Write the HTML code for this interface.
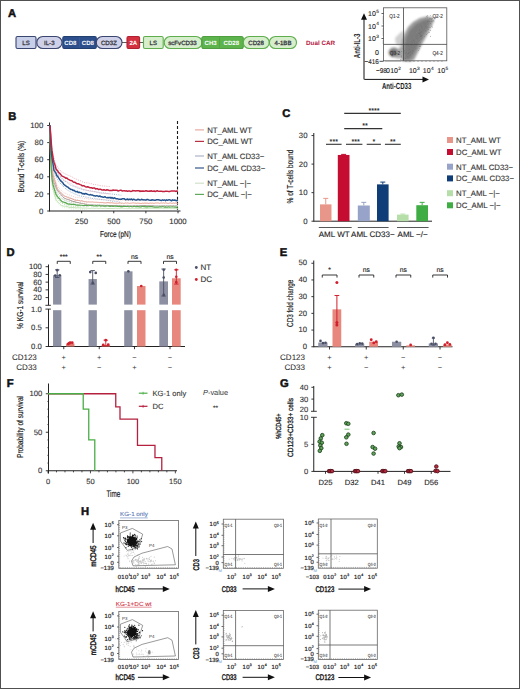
<!DOCTYPE html>
<html><head><meta charset="utf-8"><style>
html,body{margin:0;padding:0;background:#fff;}
body{width:520px;height:689px;overflow:hidden;position:relative;}
svg{position:absolute;left:0;top:0;display:block;}
svg text{font-family:"Liberation Sans", sans-serif;text-rendering:geometricPrecision;}
</style></head><body>
<svg width="520" height="689" viewBox="0 0 520 689">
<rect x="0" y="0" width="520" height="689" fill="#fff"/>
<text x="8.1" y="16.7" font-size="11.2" text-anchor="start" fill="#111" font-weight="bold"  stroke="#111" stroke-width="0.5">A</text>
<rect x="16" y="36.5" width="20" height="12.0" fill="#c8cfe9" stroke="#3a4670" stroke-width="1.1" rx="1.5" />
<rect x="36.8" y="36.5" width="25.200000000000003" height="12.0" fill="#cfd1e8" stroke="#3a4670" stroke-width="1.1" rx="6" />
<rect x="62.8" y="36.5" width="33.5" height="12.0" fill="#2d508d" stroke="#22406f" stroke-width="1.1" rx="1.5" />
<line x1="79.5" y1="37.5" x2="79.5" y2="47.5" stroke="#3d5f98" stroke-width="0.6" />
<rect x="96.3" y="36.5" width="25.700000000000003" height="12.0" fill="#cfd1e8" stroke="#3a4670" stroke-width="1.1" rx="6" />
<line x1="122" y1="42.5" x2="127" y2="42.5" stroke="#333" stroke-width="0.8" />
<rect x="127" y="36.5" width="12.599999999999994" height="12.0" fill="#d3313f" stroke="#b02030" stroke-width="1.1" rx="1.5" />
<line x1="139.6" y1="42.5" x2="143.5" y2="42.5" stroke="#333" stroke-width="0.8" />
<rect x="143.5" y="36.5" width="19.69999999999999" height="12.0" fill="#d7eecd" stroke="#5fae4e" stroke-width="1.1" rx="1.5" />
<rect x="164.2" y="36.5" width="37.80000000000001" height="12.0" fill="#d7eecd" stroke="#5fae4e" stroke-width="1.1" rx="6" />
<rect x="201.8" y="36.5" width="41.5" height="12.0" fill="#5db34c" stroke="#4f9e40" stroke-width="1.1" rx="2" />
<line x1="219.5" y1="37.5" x2="219.5" y2="47.5" stroke="#4a9a3c" stroke-width="0.6" />
<rect x="243.3" y="36.5" width="25.899999999999977" height="12.0" fill="#d7eecd" stroke="#5fae4e" stroke-width="1.1" rx="6" />
<rect x="269.4" y="36.5" width="27.100000000000023" height="12.0" fill="#d7eecd" stroke="#5fae4e" stroke-width="1.1" rx="6" />
<text x="26" y="44.5" font-size="6.1" text-anchor="middle" fill="#3a3a44" font-weight="normal"  stroke="#3a3a44" stroke-width="0.3">LS</text>
<text x="49.3" y="44.5" font-size="6.1" text-anchor="middle" fill="#3a3a44" font-weight="normal"  stroke="#3a3a44" stroke-width="0.3">IL-3</text>
<text x="70.4" y="44.5" font-size="6.1" text-anchor="middle" fill="#fff" font-weight="bold" >CD8</text>
<text x="87.9" y="44.5" font-size="6.1" text-anchor="middle" fill="#fff" font-weight="bold" >CD8</text>
<text x="108.9" y="44.5" font-size="6.1" text-anchor="middle" fill="#3a3a44" font-weight="normal"  stroke="#3a3a44" stroke-width="0.3">CD3Z</text>
<text x="133.3" y="44.5" font-size="6.1" text-anchor="middle" fill="#fff" font-weight="bold" >2A</text>
<text x="153.3" y="44.5" font-size="6.1" text-anchor="middle" fill="#3a3a44" font-weight="normal"  stroke="#3a3a44" stroke-width="0.3">LS</text>
<text x="182.5" y="44.5" font-size="6.1" text-anchor="middle" fill="#3a3a44" font-weight="normal"  stroke="#3a3a44" stroke-width="0.3">scFvCD33</text>
<text x="210.6" y="44.5" font-size="6.1" text-anchor="middle" fill="#fff" font-weight="bold" >CH3</text>
<text x="231.3" y="44.5" font-size="6.1" text-anchor="middle" fill="#fff" font-weight="bold" >CD28</text>
<text x="256.1" y="44.5" font-size="6.1" text-anchor="middle" fill="#3a3a44" font-weight="normal"  stroke="#3a3a44" stroke-width="0.3">CD28</text>
<text x="283" y="44.5" font-size="6.1" text-anchor="middle" fill="#3a3a44" font-weight="normal"  stroke="#3a3a44" stroke-width="0.3">4-1BB</text>
<text x="306" y="44.6" font-size="6.3" text-anchor="start" fill="#b8163c" font-weight="bold" >Dual CAR</text>
<defs><filter id="bl" x="-20%" y="-20%" width="140%" height="140%"><feGaussianBlur stdDeviation="1.0"/></filter><filter id="bl2" x="-20%" y="-20%" width="140%" height="140%"><feGaussianBlur stdDeviation="0.6"/></filter><filter id="bl3" x="-20%" y="-20%" width="140%" height="140%"><feGaussianBlur stdDeviation="0.35"/></filter></defs>
<g filter="url(#bl)">
<path d="M395,38 L400,33 L404,30 L404,44 L400,46 L396,44 Z" fill="#cfcfcf"/>
<path d="M402,61 L401,50 L402,40 L404,35 L408,27 L413,22 L420,18 L427,16.5 L433,17.5 L434,21 L431,27 L427,35 L421,46 L417,54 L414,60 L410,61.5 Z" fill="#9a9a9a"/>
<path d="M404,60 L404,48 L406,38 L410,30 L416,24 L424,20 L430,19.5 L429,25 L424,34 L418,45 L414,53 L410,59 Z" fill="#7c7c7c"/>
<ellipse cx="394" cy="52.5" rx="5.5" ry="5" fill="#8a8a8a"/>
<ellipse cx="393" cy="52.5" rx="3" ry="2.5" fill="#6a6a6a"/>
<path d="M396,58.5 L404,58 L404,46 L399,47.5 Z" fill="#a8a8a8"/>
</g>
<circle cx="415.78" cy="48.82" r="0.45" fill="#6a6a6a" stroke="none" stroke-width="0"/>
<circle cx="430.51" cy="27.51" r="0.45" fill="#888" stroke="none" stroke-width="0"/>
<circle cx="412.87" cy="51.12" r="0.45" fill="#6a6a6a" stroke="none" stroke-width="0"/>
<circle cx="401.21" cy="57.11" r="0.45" fill="#6a6a6a" stroke="none" stroke-width="0"/>
<circle cx="427.64" cy="17.01" r="0.45" fill="#6a6a6a" stroke="none" stroke-width="0"/>
<circle cx="413.19" cy="40.21" r="0.45" fill="#6a6a6a" stroke="none" stroke-width="0"/>
<circle cx="421.82" cy="38.21" r="0.45" fill="#888" stroke="none" stroke-width="0"/>
<circle cx="405.18" cy="58.78" r="0.45" fill="#6a6a6a" stroke="none" stroke-width="0"/>
<circle cx="405.02" cy="52.98" r="0.45" fill="#6a6a6a" stroke="none" stroke-width="0"/>
<circle cx="420.37" cy="36.52" r="0.45" fill="#6a6a6a" stroke="none" stroke-width="0"/>
<circle cx="412.46" cy="37.05" r="0.45" fill="#777" stroke="none" stroke-width="0"/>
<circle cx="417.81" cy="35.36" r="0.45" fill="#6a6a6a" stroke="none" stroke-width="0"/>
<circle cx="423.73" cy="34.22" r="0.45" fill="#888" stroke="none" stroke-width="0"/>
<circle cx="415.93" cy="41.10" r="0.45" fill="#888" stroke="none" stroke-width="0"/>
<circle cx="433.90" cy="21.04" r="0.45" fill="#777" stroke="none" stroke-width="0"/>
<circle cx="407.35" cy="51.98" r="0.45" fill="#888" stroke="none" stroke-width="0"/>
<circle cx="400.90" cy="52.88" r="0.45" fill="#777" stroke="none" stroke-width="0"/>
<circle cx="411.32" cy="47.43" r="0.45" fill="#777" stroke="none" stroke-width="0"/>
<circle cx="408.04" cy="56.66" r="0.45" fill="#888" stroke="none" stroke-width="0"/>
<circle cx="427.21" cy="33.29" r="0.45" fill="#888" stroke="none" stroke-width="0"/>
<circle cx="418.73" cy="31.73" r="0.45" fill="#888" stroke="none" stroke-width="0"/>
<circle cx="414.47" cy="41.97" r="0.45" fill="#777" stroke="none" stroke-width="0"/>
<circle cx="411.09" cy="41.39" r="0.45" fill="#6a6a6a" stroke="none" stroke-width="0"/>
<circle cx="427.17" cy="29.02" r="0.45" fill="#777" stroke="none" stroke-width="0"/>
<circle cx="427.74" cy="21.37" r="0.45" fill="#777" stroke="none" stroke-width="0"/>
<circle cx="423.78" cy="32.06" r="0.45" fill="#888" stroke="none" stroke-width="0"/>
<circle cx="409.20" cy="48.39" r="0.45" fill="#777" stroke="none" stroke-width="0"/>
<circle cx="431.98" cy="21.31" r="0.45" fill="#6a6a6a" stroke="none" stroke-width="0"/>
<circle cx="428.46" cy="32.12" r="0.45" fill="#6a6a6a" stroke="none" stroke-width="0"/>
<circle cx="414.69" cy="47.58" r="0.45" fill="#777" stroke="none" stroke-width="0"/>
<circle cx="420.38" cy="35.11" r="0.45" fill="#888" stroke="none" stroke-width="0"/>
<circle cx="427.65" cy="15.65" r="0.45" fill="#777" stroke="none" stroke-width="0"/>
<circle cx="430.41" cy="15.61" r="0.45" fill="#888" stroke="none" stroke-width="0"/>
<circle cx="413.78" cy="43.19" r="0.45" fill="#888" stroke="none" stroke-width="0"/>
<circle cx="418.58" cy="50.60" r="0.45" fill="#777" stroke="none" stroke-width="0"/>
<circle cx="407.98" cy="52.40" r="0.45" fill="#6a6a6a" stroke="none" stroke-width="0"/>
<circle cx="412.27" cy="33.55" r="0.45" fill="#888" stroke="none" stroke-width="0"/>
<circle cx="407.82" cy="53.84" r="0.45" fill="#6a6a6a" stroke="none" stroke-width="0"/>
<circle cx="425.94" cy="31.42" r="0.45" fill="#777" stroke="none" stroke-width="0"/>
<circle cx="413.32" cy="44.88" r="0.45" fill="#777" stroke="none" stroke-width="0"/>
<circle cx="416.77" cy="40.44" r="0.45" fill="#888" stroke="none" stroke-width="0"/>
<circle cx="413.04" cy="50.28" r="0.45" fill="#6a6a6a" stroke="none" stroke-width="0"/>
<circle cx="420.65" cy="44.92" r="0.45" fill="#777" stroke="none" stroke-width="0"/>
<circle cx="407.38" cy="51.94" r="0.45" fill="#888" stroke="none" stroke-width="0"/>
<circle cx="411.48" cy="44.98" r="0.45" fill="#777" stroke="none" stroke-width="0"/>
<circle cx="421.03" cy="35.63" r="0.45" fill="#6a6a6a" stroke="none" stroke-width="0"/>
<circle cx="419.43" cy="33.88" r="0.45" fill="#6a6a6a" stroke="none" stroke-width="0"/>
<circle cx="422.46" cy="28.23" r="0.45" fill="#6a6a6a" stroke="none" stroke-width="0"/>
<circle cx="428.76" cy="20.98" r="0.45" fill="#6a6a6a" stroke="none" stroke-width="0"/>
<circle cx="404.42" cy="50.24" r="0.45" fill="#6a6a6a" stroke="none" stroke-width="0"/>
<circle cx="424.06" cy="26.76" r="0.45" fill="#888" stroke="none" stroke-width="0"/>
<circle cx="423.67" cy="22.19" r="0.45" fill="#777" stroke="none" stroke-width="0"/>
<circle cx="429.25" cy="21.50" r="0.45" fill="#6a6a6a" stroke="none" stroke-width="0"/>
<circle cx="415.24" cy="42.33" r="0.45" fill="#888" stroke="none" stroke-width="0"/>
<circle cx="422.92" cy="24.98" r="0.45" fill="#888" stroke="none" stroke-width="0"/>
<circle cx="402.63" cy="48.67" r="0.45" fill="#888" stroke="none" stroke-width="0"/>
<circle cx="423.02" cy="28.27" r="0.45" fill="#888" stroke="none" stroke-width="0"/>
<circle cx="415.99" cy="36.59" r="0.45" fill="#777" stroke="none" stroke-width="0"/>
<circle cx="416.91" cy="38.13" r="0.45" fill="#6a6a6a" stroke="none" stroke-width="0"/>
<circle cx="410.04" cy="52.51" r="0.45" fill="#777" stroke="none" stroke-width="0"/>
<circle cx="430.22" cy="30.50" r="0.45" fill="#777" stroke="none" stroke-width="0"/>
<circle cx="420.02" cy="34.97" r="0.45" fill="#6a6a6a" stroke="none" stroke-width="0"/>
<circle cx="406.17" cy="52.24" r="0.45" fill="#6a6a6a" stroke="none" stroke-width="0"/>
<circle cx="421.86" cy="35.55" r="0.45" fill="#6a6a6a" stroke="none" stroke-width="0"/>
<circle cx="427.72" cy="27.32" r="0.45" fill="#777" stroke="none" stroke-width="0"/>
<circle cx="418.28" cy="35.12" r="0.45" fill="#888" stroke="none" stroke-width="0"/>
<circle cx="420.51" cy="46.39" r="0.45" fill="#777" stroke="none" stroke-width="0"/>
<circle cx="426.06" cy="17.08" r="0.45" fill="#888" stroke="none" stroke-width="0"/>
<circle cx="419.06" cy="39.31" r="0.45" fill="#888" stroke="none" stroke-width="0"/>
<circle cx="401.77" cy="51.50" r="0.45" fill="#6a6a6a" stroke="none" stroke-width="0"/>
<circle cx="421.34" cy="31.86" r="0.45" fill="#6a6a6a" stroke="none" stroke-width="0"/>
<circle cx="416.62" cy="35.03" r="0.45" fill="#777" stroke="none" stroke-width="0"/>
<circle cx="419.50" cy="30.00" r="0.45" fill="#6a6a6a" stroke="none" stroke-width="0"/>
<circle cx="430.68" cy="23.40" r="0.45" fill="#6a6a6a" stroke="none" stroke-width="0"/>
<circle cx="421.52" cy="26.91" r="0.45" fill="#6a6a6a" stroke="none" stroke-width="0"/>
<circle cx="413.52" cy="37.80" r="0.45" fill="#888" stroke="none" stroke-width="0"/>
<circle cx="408.94" cy="53.78" r="0.45" fill="#777" stroke="none" stroke-width="0"/>
<circle cx="418.27" cy="41.58" r="0.45" fill="#777" stroke="none" stroke-width="0"/>
<circle cx="431.52" cy="19.75" r="0.45" fill="#777" stroke="none" stroke-width="0"/>
<circle cx="410.34" cy="54.91" r="0.45" fill="#6a6a6a" stroke="none" stroke-width="0"/>
<circle cx="420.80" cy="32.12" r="0.45" fill="#777" stroke="none" stroke-width="0"/>
<circle cx="427.43" cy="25.53" r="0.45" fill="#888" stroke="none" stroke-width="0"/>
<circle cx="420.39" cy="34.08" r="0.45" fill="#6a6a6a" stroke="none" stroke-width="0"/>
<circle cx="432.59" cy="27.05" r="0.45" fill="#777" stroke="none" stroke-width="0"/>
<circle cx="431.25" cy="26.66" r="0.45" fill="#6a6a6a" stroke="none" stroke-width="0"/>
<circle cx="405.02" cy="53.15" r="0.45" fill="#777" stroke="none" stroke-width="0"/>
<circle cx="414.92" cy="42.25" r="0.45" fill="#777" stroke="none" stroke-width="0"/>
<circle cx="401.29" cy="56.07" r="0.45" fill="#6a6a6a" stroke="none" stroke-width="0"/>
<circle cx="412.10" cy="42.33" r="0.45" fill="#6a6a6a" stroke="none" stroke-width="0"/>
<circle cx="409.17" cy="52.36" r="0.45" fill="#6a6a6a" stroke="none" stroke-width="0"/>
<circle cx="409.30" cy="44.82" r="0.45" fill="#888" stroke="none" stroke-width="0"/>
<circle cx="426.83" cy="27.06" r="0.45" fill="#888" stroke="none" stroke-width="0"/>
<circle cx="419.55" cy="33.86" r="0.45" fill="#6a6a6a" stroke="none" stroke-width="0"/>
<circle cx="429.15" cy="32.23" r="0.45" fill="#777" stroke="none" stroke-width="0"/>
<circle cx="426.45" cy="16.16" r="0.45" fill="#6a6a6a" stroke="none" stroke-width="0"/>
<circle cx="421.46" cy="36.14" r="0.45" fill="#6a6a6a" stroke="none" stroke-width="0"/>
<circle cx="414.55" cy="43.29" r="0.45" fill="#777" stroke="none" stroke-width="0"/>
<circle cx="426.26" cy="34.48" r="0.45" fill="#6a6a6a" stroke="none" stroke-width="0"/>
<circle cx="430.99" cy="21.25" r="0.45" fill="#777" stroke="none" stroke-width="0"/>
<circle cx="419.47" cy="32.43" r="0.45" fill="#777" stroke="none" stroke-width="0"/>
<circle cx="419.30" cy="40.65" r="0.45" fill="#6a6a6a" stroke="none" stroke-width="0"/>
<circle cx="432.45" cy="18.36" r="0.45" fill="#888" stroke="none" stroke-width="0"/>
<circle cx="420.78" cy="39.33" r="0.45" fill="#777" stroke="none" stroke-width="0"/>
<circle cx="408.40" cy="50.66" r="0.45" fill="#777" stroke="none" stroke-width="0"/>
<circle cx="425.78" cy="30.70" r="0.45" fill="#777" stroke="none" stroke-width="0"/>
<circle cx="426.17" cy="30.17" r="0.45" fill="#888" stroke="none" stroke-width="0"/>
<circle cx="430.57" cy="36.27" r="0.45" fill="#6a6a6a" stroke="none" stroke-width="0"/>
<circle cx="431.90" cy="24.92" r="0.45" fill="#777" stroke="none" stroke-width="0"/>
<circle cx="420.51" cy="42.39" r="0.45" fill="#777" stroke="none" stroke-width="0"/>
<circle cx="427.13" cy="20.89" r="0.45" fill="#6a6a6a" stroke="none" stroke-width="0"/>
<circle cx="425.36" cy="30.87" r="0.45" fill="#777" stroke="none" stroke-width="0"/>
<circle cx="415.80" cy="48.32" r="0.45" fill="#888" stroke="none" stroke-width="0"/>
<circle cx="419.53" cy="46.48" r="0.45" fill="#6a6a6a" stroke="none" stroke-width="0"/>
<circle cx="417.12" cy="43.76" r="0.45" fill="#777" stroke="none" stroke-width="0"/>
<circle cx="410.46" cy="44.84" r="0.45" fill="#6a6a6a" stroke="none" stroke-width="0"/>
<circle cx="407.27" cy="52.74" r="0.45" fill="#888" stroke="none" stroke-width="0"/>
<circle cx="407.87" cy="56.72" r="0.45" fill="#6a6a6a" stroke="none" stroke-width="0"/>
<circle cx="412.41" cy="52.97" r="0.45" fill="#6a6a6a" stroke="none" stroke-width="0"/>
<circle cx="421.02" cy="25.27" r="0.45" fill="#777" stroke="none" stroke-width="0"/>
<circle cx="424.72" cy="23.75" r="0.45" fill="#777" stroke="none" stroke-width="0"/>
<circle cx="423.68" cy="28.28" r="0.45" fill="#888" stroke="none" stroke-width="0"/>
<circle cx="425.35" cy="18.59" r="0.45" fill="#888" stroke="none" stroke-width="0"/>
<circle cx="404.15" cy="51.86" r="0.45" fill="#6a6a6a" stroke="none" stroke-width="0"/>
<circle cx="421.30" cy="21.54" r="0.45" fill="#888" stroke="none" stroke-width="0"/>
<circle cx="429.93" cy="18.70" r="0.45" fill="#6a6a6a" stroke="none" stroke-width="0"/>
<circle cx="406.76" cy="53.83" r="0.45" fill="#777" stroke="none" stroke-width="0"/>
<circle cx="416.52" cy="32.43" r="0.45" fill="#888" stroke="none" stroke-width="0"/>
<circle cx="410.54" cy="51.74" r="0.45" fill="#6a6a6a" stroke="none" stroke-width="0"/>
<circle cx="420.99" cy="28.00" r="0.45" fill="#888" stroke="none" stroke-width="0"/>
<circle cx="418.63" cy="33.34" r="0.45" fill="#6a6a6a" stroke="none" stroke-width="0"/>
<circle cx="428.21" cy="29.51" r="0.45" fill="#6a6a6a" stroke="none" stroke-width="0"/>
<circle cx="428.41" cy="27.84" r="0.45" fill="#777" stroke="none" stroke-width="0"/>
<circle cx="408.38" cy="53.53" r="0.45" fill="#6a6a6a" stroke="none" stroke-width="0"/>
<circle cx="420.47" cy="32.32" r="0.45" fill="#6a6a6a" stroke="none" stroke-width="0"/>
<circle cx="410.44" cy="40.72" r="0.45" fill="#888" stroke="none" stroke-width="0"/>
<circle cx="421.03" cy="35.38" r="0.45" fill="#777" stroke="none" stroke-width="0"/>
<circle cx="433.05" cy="20.41" r="0.45" fill="#777" stroke="none" stroke-width="0"/>
<circle cx="408.59" cy="45.99" r="0.45" fill="#777" stroke="none" stroke-width="0"/>
<circle cx="429.52" cy="27.14" r="0.45" fill="#777" stroke="none" stroke-width="0"/>
<circle cx="431.94" cy="18.64" r="0.45" fill="#777" stroke="none" stroke-width="0"/>
<circle cx="395.81" cy="54.51" r="0.45" fill="#777" stroke="none" stroke-width="0"/>
<circle cx="421.23" cy="38.83" r="0.45" fill="#6a6a6a" stroke="none" stroke-width="0"/>
<circle cx="422.73" cy="37.77" r="0.45" fill="#777" stroke="none" stroke-width="0"/>
<circle cx="409.34" cy="49.25" r="0.45" fill="#6a6a6a" stroke="none" stroke-width="0"/>
<circle cx="424.49" cy="36.65" r="0.45" fill="#777" stroke="none" stroke-width="0"/>
<circle cx="419.27" cy="48.82" r="0.45" fill="#888" stroke="none" stroke-width="0"/>
<circle cx="416.06" cy="41.64" r="0.45" fill="#777" stroke="none" stroke-width="0"/>
<circle cx="416.61" cy="44.93" r="0.45" fill="#777" stroke="none" stroke-width="0"/>
<circle cx="425.88" cy="26.60" r="0.45" fill="#6a6a6a" stroke="none" stroke-width="0"/>
<circle cx="426.12" cy="27.94" r="0.45" fill="#777" stroke="none" stroke-width="0"/>
<circle cx="400.83" cy="59.52" r="0.45" fill="#6a6a6a" stroke="none" stroke-width="0"/>
<circle cx="411.79" cy="44.69" r="0.45" fill="#6a6a6a" stroke="none" stroke-width="0"/>
<circle cx="416.33" cy="48.28" r="0.45" fill="#888" stroke="none" stroke-width="0"/>
<circle cx="430.21" cy="23.09" r="0.45" fill="#888" stroke="none" stroke-width="0"/>
<circle cx="413.65" cy="39.82" r="0.45" fill="#777" stroke="none" stroke-width="0"/>
<circle cx="430.47" cy="18.45" r="0.45" fill="#888" stroke="none" stroke-width="0"/>
<circle cx="419.18" cy="35.03" r="0.45" fill="#888" stroke="none" stroke-width="0"/>
<circle cx="414.19" cy="40.41" r="0.45" fill="#777" stroke="none" stroke-width="0"/>
<circle cx="421.04" cy="36.45" r="0.45" fill="#6a6a6a" stroke="none" stroke-width="0"/>
<rect x="383.5" y="7.8" width="63.30000000000001" height="53.0" fill="none" stroke="#555" stroke-width="0.8" rx="0" />
<line x1="403.5" y1="7.8" x2="403.5" y2="60.8" stroke="#444" stroke-width="0.8" />
<line x1="383.5" y1="44.4" x2="446.8" y2="44.4" stroke="#444" stroke-width="0.8" />
<line x1="381.5" y1="13.5" x2="383.5" y2="13.5" stroke="#333" stroke-width="0.8" />
<line x1="381.5" y1="26" x2="383.5" y2="26" stroke="#333" stroke-width="0.8" />
<line x1="381.5" y1="38.5" x2="383.5" y2="38.5" stroke="#333" stroke-width="0.8" />
<line x1="382.5" y1="17" x2="383.5" y2="17" stroke="#555" stroke-width="0.5" />
<line x1="382.5" y1="19" x2="383.5" y2="19" stroke="#555" stroke-width="0.5" />
<line x1="382.5" y1="21" x2="383.5" y2="21" stroke="#555" stroke-width="0.5" />
<line x1="382.5" y1="23" x2="383.5" y2="23" stroke="#555" stroke-width="0.5" />
<line x1="382.5" y1="29" x2="383.5" y2="29" stroke="#555" stroke-width="0.5" />
<line x1="382.5" y1="31" x2="383.5" y2="31" stroke="#555" stroke-width="0.5" />
<line x1="382.5" y1="33" x2="383.5" y2="33" stroke="#555" stroke-width="0.5" />
<line x1="382.5" y1="35" x2="383.5" y2="35" stroke="#555" stroke-width="0.5" />
<line x1="382.5" y1="41" x2="383.5" y2="41" stroke="#555" stroke-width="0.5" />
<line x1="382.5" y1="43" x2="383.5" y2="43" stroke="#555" stroke-width="0.5" />
<line x1="386" y1="60.8" x2="386" y2="62" stroke="#555" stroke-width="0.5" />
<line x1="388" y1="60.8" x2="388" y2="62" stroke="#555" stroke-width="0.5" />
<line x1="390" y1="60.8" x2="390" y2="62" stroke="#555" stroke-width="0.5" />
<line x1="392" y1="60.8" x2="392" y2="62" stroke="#555" stroke-width="0.5" />
<line x1="394" y1="60.8" x2="394" y2="62" stroke="#555" stroke-width="0.5" />
<line x1="396" y1="60.8" x2="396" y2="62" stroke="#555" stroke-width="0.5" />
<line x1="398" y1="60.8" x2="398" y2="62" stroke="#555" stroke-width="0.5" />
<line x1="400" y1="60.8" x2="400" y2="62" stroke="#555" stroke-width="0.5" />
<line x1="406" y1="60.8" x2="406" y2="62" stroke="#555" stroke-width="0.5" />
<line x1="410" y1="60.8" x2="410" y2="62" stroke="#555" stroke-width="0.5" />
<line x1="414" y1="60.8" x2="414" y2="62" stroke="#555" stroke-width="0.5" />
<line x1="418" y1="60.8" x2="418" y2="62" stroke="#555" stroke-width="0.5" />
<line x1="422" y1="60.8" x2="422" y2="62" stroke="#555" stroke-width="0.5" />
<line x1="426" y1="60.8" x2="426" y2="62" stroke="#555" stroke-width="0.5" />
<line x1="430" y1="60.8" x2="430" y2="62" stroke="#555" stroke-width="0.5" />
<line x1="434" y1="60.8" x2="434" y2="62" stroke="#555" stroke-width="0.5" />
<line x1="438" y1="60.8" x2="438" y2="62" stroke="#555" stroke-width="0.5" />
<line x1="442" y1="60.8" x2="442" y2="62" stroke="#555" stroke-width="0.5" />
<text x="0" y="0" font-size="5.8" text-anchor="start" fill="#333" font-weight="normal" transform="translate(389.3,18.1) scale(0.8,1)"  stroke="#333" stroke-width="0.12">Q1-2</text>
<text x="0" y="0" font-size="5.8" text-anchor="start" fill="#333" font-weight="normal" transform="translate(432.5,18.1) scale(0.8,1)"  stroke="#333" stroke-width="0.12">Q2-2</text>
<text x="0" y="0" font-size="5.8" text-anchor="start" fill="#333" font-weight="normal" transform="translate(389.8,54.6) scale(0.8,1)"  stroke="#333" stroke-width="0.12">Q3-2</text>
<text x="0" y="0" font-size="5.8" text-anchor="start" fill="#333" font-weight="normal" transform="translate(432.5,54.6) scale(0.8,1)"  stroke="#333" stroke-width="0.12">Q4-2</text>
<text x="378.8" y="16.2" font-size="7.0" text-anchor="end" fill="#222" stroke="#222" stroke-width="0.12">10<tspan font-size="4.76" dx="0.3" dy="-3.29">5</tspan></text>
<text x="378.8" y="28.6" font-size="7.0" text-anchor="end" fill="#222" stroke="#222" stroke-width="0.12">10<tspan font-size="4.76" dx="0.3" dy="-3.29">4</tspan></text>
<text x="378.8" y="40.8" font-size="7.0" text-anchor="end" fill="#222" stroke="#222" stroke-width="0.12">10<tspan font-size="4.76" dx="0.3" dy="-3.29">3</tspan></text>
<text x="378.8" y="54.5" font-size="7.0" text-anchor="end" fill="#222" font-weight="normal"  stroke="#222" stroke-width="0.12">0</text>
<text x="0" y="0" font-size="7.0" text-anchor="end" fill="#222" font-weight="normal" transform="translate(378.8,63.6) scale(0.9,1)"  stroke="#222" stroke-width="0.12">−416</text>
<line x1="379.5" y1="61.3" x2="383.5" y2="61.3" stroke="#222" stroke-width="0.8" />
<text x="0" y="0" font-size="7.0" text-anchor="start" fill="#222" font-weight="normal" transform="translate(376,73.2) scale(0.9,1)"  stroke="#222" stroke-width="0.12">−98</text>
<text x="386" y="73.2" font-size="7.0" text-anchor="start" fill="#222" font-weight="normal"  stroke="#222" stroke-width="0.12">0</text>
<text x="390.2" y="73.2" font-size="7.0" text-anchor="start" fill="#222" stroke="#222" stroke-width="0.12">10<tspan font-size="4.76" dx="0.3" dy="-3.29">2</tspan></text>
<text x="408.9" y="73.2" font-size="7.0" text-anchor="start" fill="#222" stroke="#222" stroke-width="0.12">10<tspan font-size="4.76" dx="0.3" dy="-3.29">3</tspan></text>
<text x="422.8" y="73.2" font-size="7.0" text-anchor="start" fill="#222" stroke="#222" stroke-width="0.12">10<tspan font-size="4.76" dx="0.3" dy="-3.29">4</tspan></text>
<text x="437.3" y="73.2" font-size="7.0" text-anchor="start" fill="#222" stroke="#222" stroke-width="0.12">10<tspan font-size="4.76" dx="0.3" dy="-3.29">5</tspan></text>
<line x1="364" y1="79.4" x2="364" y2="18.3" stroke="#111" stroke-width="1.0" />
<path d="M361,19.8 L364,13.3 L367,19.8 Z" fill="#111"/>
<line x1="364.3" y1="79.4" x2="424" y2="79.4" stroke="#111" stroke-width="1.0" />
<path d="M422.5,76.4 L429,79.4 L422.5,82.4 Z" fill="#111"/>
<text font-size="8.8" fill="#1a1a1a" font-weight="bold" text-anchor="middle" textLength="24.6" lengthAdjust="spacingAndGlyphs" transform="translate(359.5,45.9) rotate(-90)" x="0" y="0">Anti-IL-3</text>
<text font-size="8.8" fill="#1a1a1a" font-weight="bold" text-anchor="middle" textLength="29.3" lengthAdjust="spacingAndGlyphs" transform="translate(396.6,89.1)" x="0" y="0">Anti-CD33</text>
<text x="8.3" y="119.5" font-size="11.2" text-anchor="start" fill="#111" font-weight="bold"  stroke="#111" stroke-width="0.5">B</text>
<line x1="49.5" y1="122.5" x2="49.5" y2="211.5" stroke="#222" stroke-width="1" />
<line x1="49.5" y1="211" x2="180.5" y2="211" stroke="#222" stroke-width="1" />
<line x1="47.2" y1="211.0" x2="49.5" y2="211.0" stroke="#222" stroke-width="0.9" />
<text x="43.3" y="213.6" font-size="7.8" text-anchor="end" fill="#333" font-weight="normal"  stroke="#333" stroke-width="0.12">0</text>
<line x1="47.2" y1="193.9" x2="49.5" y2="193.9" stroke="#222" stroke-width="0.9" />
<text x="43.3" y="196.5" font-size="7.8" text-anchor="end" fill="#333" font-weight="normal"  stroke="#333" stroke-width="0.12">20</text>
<line x1="47.2" y1="176.8" x2="49.5" y2="176.8" stroke="#222" stroke-width="0.9" />
<text x="43.3" y="179.4" font-size="7.8" text-anchor="end" fill="#333" font-weight="normal"  stroke="#333" stroke-width="0.12">40</text>
<line x1="47.2" y1="159.7" x2="49.5" y2="159.7" stroke="#222" stroke-width="0.9" />
<text x="43.3" y="162.29999999999998" font-size="7.8" text-anchor="end" fill="#333" font-weight="normal"  stroke="#333" stroke-width="0.12">60</text>
<line x1="47.2" y1="142.6" x2="49.5" y2="142.6" stroke="#222" stroke-width="0.9" />
<text x="43.3" y="145.2" font-size="7.8" text-anchor="end" fill="#333" font-weight="normal"  stroke="#333" stroke-width="0.12">80</text>
<line x1="47.2" y1="125.5" x2="49.5" y2="125.5" stroke="#222" stroke-width="0.9" />
<text x="43.3" y="128.1" font-size="7.8" text-anchor="end" fill="#333" font-weight="normal"  stroke="#333" stroke-width="0.12">100</text>
<line x1="81.625" y1="211" x2="81.625" y2="213.3" stroke="#222" stroke-width="0.9" />
<text x="81.625" y="223.7" font-size="7.8" text-anchor="middle" fill="#333" font-weight="normal"  stroke="#333" stroke-width="0.12">250</text>
<line x1="113.75" y1="211" x2="113.75" y2="213.3" stroke="#222" stroke-width="0.9" />
<text x="113.75" y="223.7" font-size="7.8" text-anchor="middle" fill="#333" font-weight="normal"  stroke="#333" stroke-width="0.12">500</text>
<line x1="145.875" y1="211" x2="145.875" y2="213.3" stroke="#222" stroke-width="0.9" />
<text x="145.875" y="223.7" font-size="7.8" text-anchor="middle" fill="#333" font-weight="normal"  stroke="#333" stroke-width="0.12">750</text>
<line x1="178.0" y1="211" x2="178.0" y2="213.3" stroke="#222" stroke-width="0.9" />
<text x="178.0" y="223.7" font-size="7.8" text-anchor="middle" fill="#333" font-weight="normal"  stroke="#333" stroke-width="0.12">1000</text>
<text font-size="8.6" fill="#1a1a1a" stroke="#1a1a1a" stroke-width="0.18" font-weight="normal" text-anchor="middle" textLength="30.8" lengthAdjust="spacingAndGlyphs" transform="translate(115.4,236.5)" x="0" y="0">Force (pN)</text>
<text font-size="8.6" fill="#1a1a1a" stroke="#1a1a1a" stroke-width="0.18" font-weight="normal" text-anchor="middle" textLength="51.8" lengthAdjust="spacingAndGlyphs" transform="translate(24,166.6) rotate(-90)" x="0" y="0">Bound T-cells (%)</text>
<line x1="177.5" y1="120.9" x2="177.5" y2="210.5" stroke="#1a1a1a" stroke-width="1.1" stroke-dasharray="3,2.05"/>
<polyline points="52.71,185.36 53.23,187.30 53.74,189.19 54.25,190.83 54.77,192.58 55.28,194.81 55.80,196.48 56.31,197.85 56.82,198.23 57.34,198.83 58.37,199.97 59.39,201.00 60.42,202.00 61.45,202.67 62.48,203.11 63.51,203.49 64.53,203.37 65.56,203.56 66.59,204.08 67.62,204.47 68.65,204.68 69.67,204.97 70.70,204.96 71.73,205.13 72.76,205.11 73.79,205.15 74.81,205.03 75.84,204.92 76.87,205.04 77.90,205.26 78.93,205.31 79.95,205.30 80.98,205.43 82.01,205.49 83.04,205.69 84.07,205.62 85.09,205.32 86.12,205.80 87.15,205.65" stroke="#b9dfa8" stroke-width="0.6" fill="none" stroke-dasharray="1,1.3" stroke-linejoin="round"/>
<polyline points="52.71,189.13 53.23,190.88 53.74,193.08 54.25,194.92 54.77,196.80 55.28,198.59 55.80,200.43 56.31,201.36 56.82,201.93 57.34,202.43 58.37,203.89 59.39,204.91 60.42,205.59 61.45,206.52 62.48,206.97 63.51,207.15 64.53,207.69 65.56,207.72 66.59,207.68 67.62,207.97 68.65,208.19 69.67,208.36 70.70,208.85 71.73,208.97 72.76,209.00 73.79,208.86 74.81,208.82 75.84,208.74 76.87,208.90 77.90,208.99 78.93,208.98 79.95,209.18 80.98,209.18 82.01,209.50 83.04,209.16 84.07,209.49 85.09,209.19 86.12,209.38 87.15,209.60" stroke="#b9dfa8" stroke-width="0.6" fill="none" stroke-dasharray="1,1.3" stroke-linejoin="round"/>
<polyline points="52.71,181.44 53.23,183.03 53.74,184.49 54.25,186.12 54.77,188.07 55.28,189.75 55.80,191.18 56.31,192.30 56.82,193.04 57.34,193.77 58.37,194.86 59.39,196.45 60.42,197.59 61.45,198.79 62.48,198.94 63.51,199.50 64.53,199.78 65.56,200.39 66.59,200.91 67.62,201.30 68.65,201.23 69.67,201.47 70.70,201.79 71.73,202.05 72.76,201.91 73.79,201.94 74.81,202.18 75.84,202.37 76.87,202.27 77.90,202.25 78.93,202.72 79.95,202.93 80.98,202.89" stroke="#7cc070" stroke-width="0.6" fill="none" stroke-dasharray="1,1.3" stroke-linejoin="round"/>
<polyline points="52.71,185.56 53.23,187.08 53.74,188.99 54.25,190.34 54.77,192.03 55.28,193.81 55.80,195.62 56.31,196.37 56.82,197.36 57.34,197.74 58.37,199.33 59.39,200.62 60.42,201.63 61.45,203.15 62.48,203.22 63.51,203.85 64.53,204.41 65.56,204.79 66.59,205.09 67.62,205.36 68.65,205.51 69.67,206.03 70.70,206.02 71.73,206.22 72.76,205.94 73.79,206.48 74.81,206.64 75.84,206.75 76.87,206.69 77.90,206.54 78.93,206.66 79.95,206.85 80.98,206.83" stroke="#7cc070" stroke-width="0.6" fill="none" stroke-dasharray="1,1.3" stroke-linejoin="round"/>
<polyline points="53.35,178.37 53.87,179.88 54.38,181.15 54.90,181.95 55.41,183.25 55.92,184.81 56.44,185.68 56.95,187.02 57.47,188.14 58.50,189.29 59.52,190.51 60.55,191.73 61.58,192.72 62.61,193.81 63.63,194.64 64.66,195.82 65.69,195.77 66.72,196.55 67.75,196.85 68.78,197.00 69.80,197.38 70.83,197.96 71.86,198.54 72.89,198.71 73.91,199.14 74.94,199.24 75.97,199.82 77.00,199.94 78.03,199.88 79.06,200.53 80.08,200.55 81.11,200.55 82.14,200.78 83.17,201.36 84.19,201.57 85.22,201.77 86.25,201.54 87.28,202.08 88.31,202.04" stroke="#a7b0cc" stroke-width="0.6" fill="none" stroke-dasharray="1,1.3" stroke-linejoin="round"/>
<polyline points="53.35,183.09 53.87,184.57 54.38,185.80 54.90,186.65 55.41,188.02 55.92,189.39 56.44,190.35 56.95,191.75 57.47,192.89 58.50,194.16 59.52,194.91 60.55,195.96 61.58,197.24 62.61,198.21 63.63,199.82 64.66,200.47 65.69,200.73 66.72,200.86 67.75,201.25 68.78,201.92 69.80,202.37 70.83,202.67 71.86,203.02 72.89,203.17 73.91,203.94 74.94,204.00 75.97,204.25 77.00,204.41 78.03,204.65 79.06,204.94 80.08,205.29 81.11,205.50 82.14,205.69 83.17,205.68 84.19,206.25 85.22,206.40 86.25,206.32 87.28,206.79 88.31,207.09" stroke="#a7b0cc" stroke-width="0.6" fill="none" stroke-dasharray="1,1.3" stroke-linejoin="round"/>
<polyline points="52.97,171.57 53.48,173.03 54.00,174.87 54.51,176.26 55.03,178.03 55.54,179.70 56.05,181.80 56.57,183.62 57.08,185.33 57.60,186.40 58.62,187.34 59.65,188.51 60.68,189.66 61.71,190.61 62.74,191.55 63.76,192.56 64.79,193.16 65.82,193.49 66.85,193.97 67.88,194.63 68.90,194.64 69.93,195.30 70.96,195.55 71.99,196.03 73.02,196.22 74.04,196.88 75.07,197.21 76.10,197.36 77.13,197.56 78.16,197.33 79.18,197.64 80.21,197.92 81.24,198.03 82.27,197.88 83.30,198.28 84.32,198.57 85.35,198.42 86.38,198.65 87.41,198.63 88.44,199.23 89.46,199.09 90.49,198.95 91.52,198.98 92.55,198.99 93.58,199.48 94.60,199.39 95.63,199.52 96.66,199.53 97.69,199.17 98.72,199.41 99.74,199.28 100.77,199.61 101.80,199.40 102.83,199.65 103.86,199.79 104.88,199.57 105.91,199.52 106.94,200.00 107.97,199.79 109.00,199.82 110.02,200.07 111.05,200.03 112.08,200.19 113.11,200.20 114.14,200.22 115.16,200.09 116.19,200.06 117.22,200.29 118.25,200.39 119.28,200.23 120.30,200.05 121.33,200.30 122.36,200.24 123.39,200.29 124.42,199.99 125.44,200.12 126.47,200.37 127.50,200.35 128.53,200.20 129.56,200.12 130.58,200.07 131.61,200.35 132.64,200.31 133.67,200.04 134.70,200.19 135.72,200.25 136.75,200.24 137.78,199.91 138.81,200.24 139.84,200.11 140.86,200.21 141.89,200.18 142.92,199.95 143.95,199.89 144.98,200.21 146.00,200.30 147.03,200.02 148.06,200.29 149.09,200.39 150.12,199.94 151.14,200.18 152.17,199.98 153.20,200.19 154.23,199.95 155.26,200.16 156.28,200.31 157.31,200.39 158.34,200.12 159.37,200.07 160.40,199.93 161.42,200.35 162.45,200.08 163.48,200.21 164.51,200.14 165.54,200.32 166.56,200.25 167.59,200.13 168.62,199.92 169.65,200.34 170.68,200.15 171.70,199.99 172.73,199.90 173.76,200.30 174.79,200.33 175.82,199.91 176.84,199.90 177.87,200.15" stroke="#e9a89c" stroke-width="0.6" fill="none" stroke-dasharray="1,1.3" stroke-linejoin="round"/>
<polyline points="52.97,176.69 53.48,177.96 54.00,179.97 54.51,181.43 55.03,183.30 55.54,184.92 56.05,186.98 56.57,188.39 57.08,190.40 57.60,191.58 58.62,192.40 59.65,193.45 60.68,194.82 61.71,195.84 62.74,196.79 63.76,197.77 64.79,198.47 65.82,198.99 66.85,199.31 67.88,199.45 68.90,199.74 69.93,200.56 70.96,200.68 71.99,200.96 73.02,201.71 74.04,201.69 75.07,202.41 76.10,202.31 77.13,202.49 78.16,202.60 79.18,202.91 80.21,203.00 81.24,203.07 82.27,203.30 83.30,203.33 84.32,203.59 85.35,203.74 86.38,204.10 87.41,203.95 88.44,204.17" stroke="#e9a89c" stroke-width="0.6" fill="none" stroke-dasharray="1,1.3" stroke-linejoin="round"/>
<polyline points="54.00,166.59 54.51,167.21 55.03,168.09 55.54,169.14 56.05,170.17 56.57,170.90 57.08,171.98 57.60,172.86 58.62,174.48 59.65,175.87 60.68,176.83 61.71,177.93 62.74,179.32 63.76,180.15 64.79,181.31 65.82,181.68 66.85,182.37 67.88,183.21 68.90,184.16 69.93,184.64 70.96,185.41 71.99,185.55 73.02,186.41 74.04,186.47 75.07,186.83 76.10,187.40 77.13,187.79 78.16,188.55 79.18,188.55 80.21,189.02 81.24,188.99 82.27,189.23 83.30,189.83 84.32,189.73 85.35,189.87 86.38,190.53 87.41,190.60 88.44,190.61 89.46,191.07 90.49,190.85 91.52,191.33 92.55,191.21 93.58,191.71 94.60,191.68 95.63,191.63 96.66,192.15 97.69,192.28 98.72,192.31 99.74,192.57 100.77,192.87 101.80,192.95 102.83,193.10 103.86,192.84 104.88,193.11 105.91,193.14 106.94,193.65 107.97,193.48 109.00,193.96 110.02,193.88 111.05,193.93 112.08,194.18 113.11,194.03 114.14,194.34 115.16,194.46 116.19,194.45 117.22,194.98 118.25,194.67 119.28,194.99 120.30,195.25 121.33,195.18" stroke="#4b78b0" stroke-width="0.6" fill="none" stroke-dasharray="1,1.3" stroke-linejoin="round"/>
<polyline points="54.00,173.42 54.51,173.93 55.03,175.03 55.54,176.03 56.05,176.71 56.57,177.76 57.08,178.78 57.60,179.38 58.62,181.51 59.65,182.34 60.68,183.77 61.71,184.71 62.74,185.67 63.76,187.02 64.79,187.85 65.82,188.74 66.85,189.61 67.88,190.30 68.90,190.95 69.93,191.42 70.96,192.22 71.99,192.62 73.02,192.86 74.04,193.68 75.07,194.07 76.10,194.28 77.13,195.04 78.16,195.49 79.18,195.71 80.21,196.05 81.24,196.14 82.27,196.42 83.30,196.46 84.32,196.67 85.35,197.08 86.38,197.08 87.41,197.37 88.44,197.76 89.46,197.51 90.49,198.02 91.52,198.23 92.55,198.42 93.58,198.29 94.60,198.33 95.63,198.54 96.66,198.89 97.69,199.12 98.72,199.41 99.74,199.24 100.77,199.44 101.80,199.71 102.83,199.69 103.86,199.94 104.88,199.82 105.91,200.06 106.94,200.45 107.97,200.26 109.00,200.83 110.02,200.72 111.05,200.89 112.08,201.08 113.11,201.29 114.14,201.06 115.16,201.59 116.19,201.46 117.22,201.39 118.25,201.94 119.28,202.05 120.30,201.98 121.33,202.17" stroke="#4b78b0" stroke-width="0.6" fill="none" stroke-dasharray="1,1.3" stroke-linejoin="round"/>
<polyline points="53.35,155.78 53.87,157.45 54.38,159.54 54.90,161.23 55.41,162.99 55.92,164.88 56.44,165.38 56.95,166.08 57.47,166.77 58.50,168.43 59.52,169.31 60.55,170.66 61.58,172.01 62.61,172.35 63.63,172.99 64.66,173.60 65.69,174.15 66.72,174.58 67.75,175.17 68.78,175.52 69.80,175.84 70.83,176.39 71.86,176.84 72.89,177.43 73.91,178.19 74.94,178.57 75.97,179.06 77.00,179.32 78.03,179.89 79.06,180.45 80.08,180.69 81.11,180.96 82.14,181.78 83.17,181.85 84.19,182.52 85.22,182.62 86.25,182.85 87.28,182.82 88.31,182.94 89.34,183.27 90.36,183.71 91.39,183.65 92.42,184.16 93.45,184.42 94.47,184.29 95.50,184.65 96.53,184.83 97.56,185.06 98.59,185.11 99.62,185.59 100.64,185.62 101.67,185.91 102.70,185.90 103.73,186.17 104.75,186.07 105.78,186.20 106.81,186.39 107.84,186.50 108.87,186.34 109.90,186.67" stroke="#e07890" stroke-width="0.6" fill="none" stroke-dasharray="1,1.3" stroke-linejoin="round"/>
<polyline points="53.35,162.91 53.87,165.06 54.38,166.88 54.90,168.60 55.41,169.94 55.92,171.99 56.44,173.03 56.95,173.74 57.47,174.38 58.50,175.35 59.52,176.68 60.55,177.95 61.58,179.13 62.61,179.97 63.63,180.19 64.66,180.80 65.69,181.05 66.72,181.54 67.75,182.00 68.78,182.93 69.80,183.04 70.83,183.55 71.86,184.06 72.89,185.01 73.91,185.49 74.94,186.06 75.97,186.54 77.00,186.55 78.03,187.01 79.06,187.53 80.08,187.87 81.11,188.40 82.14,189.01 83.17,189.52 84.19,189.74 85.22,189.63 86.25,190.14 87.28,190.30 88.31,190.47 89.34,190.91 90.36,191.01 91.39,191.22 92.42,191.22 93.45,191.62 94.47,191.86 95.50,191.74 96.53,192.20 97.56,192.23 98.59,192.57 99.62,193.08 100.64,193.10 101.67,193.31 102.70,193.21 103.73,193.48 104.75,193.35 105.78,193.49 106.81,193.71 107.84,193.43 108.87,193.88 109.90,193.56" stroke="#e07890" stroke-width="0.6" fill="none" stroke-dasharray="1,1.3" stroke-linejoin="round"/>
<polyline points="49.89,125.67 50.40,153.12 50.91,169.09 51.43,177.59 51.94,182.74 52.46,186.61 52.97,188.85 53.48,190.72 54.00,192.43 54.51,194.61 55.03,196.32 55.54,198.27 56.05,199.89 56.57,200.69 57.08,200.85 57.60,201.71 58.62,202.77 59.65,203.54 60.68,204.67 61.71,205.70 62.74,205.67 63.76,206.19 64.79,206.06 65.82,206.34 66.85,206.53 67.88,206.84 68.90,207.22 69.93,207.43 70.96,207.51 71.99,207.30 73.02,207.76 74.04,207.40 75.07,207.89 76.10,207.85 77.13,207.87 78.16,207.59 79.18,207.84 80.21,207.95 81.24,207.74 82.27,208.13 83.30,208.06 84.32,208.07 85.35,208.01 86.38,208.05 87.41,208.16 88.44,208.34 89.46,208.36 90.49,208.45 91.52,208.10 92.55,208.19 93.58,208.16 94.60,208.45 95.63,208.32 96.66,208.15 97.69,208.25 98.72,208.49 99.74,208.32 100.77,208.10 101.80,208.44 102.83,208.46 103.86,208.41 104.88,208.21 105.91,208.14 106.94,208.50 107.97,208.50 109.00,208.45 110.02,208.42 111.05,208.32 112.08,208.51 113.11,208.42 114.14,208.50 115.16,208.10 116.19,208.23 117.22,208.55 118.25,208.11 119.28,208.56 120.30,208.42 121.33,208.11 122.36,208.21 123.39,208.25 124.42,208.40 125.44,208.53 126.47,208.30 127.50,208.58 128.53,208.53 129.56,208.44 130.58,208.62 131.61,208.44 132.64,208.24 133.67,208.29 134.70,208.40 135.72,208.33 136.75,208.42 137.78,208.59 138.81,208.36 139.84,208.46 140.86,208.29 141.89,208.21 142.92,208.46 143.95,208.39 144.98,208.30 146.00,208.47 147.03,208.57 148.06,208.32 149.09,208.24 150.12,208.30 151.14,208.34 152.17,208.27 153.20,208.36 154.23,208.38 155.26,208.48 156.28,208.55 157.31,208.40 158.34,208.67 159.37,208.51 160.40,208.33 161.42,208.36 162.45,208.41 163.48,208.61 164.51,208.52 165.54,208.51 166.56,208.43 167.59,208.54 168.62,208.40 169.65,208.28 170.68,208.66 171.70,208.42 172.73,208.36 173.76,208.57 174.79,208.52 175.82,208.27 176.84,208.75 177.87,208.50" stroke="#c4e4b4" stroke-width="1.0" fill="none"  stroke-linejoin="round"/>
<polyline points="49.89,125.67 50.40,142.46 50.91,156.91 51.43,166.86 51.94,172.86 52.46,175.94 52.97,178.92 53.48,181.35 54.00,182.65 54.51,183.78 55.03,184.87 55.54,186.23 56.05,187.48 56.57,188.39 57.08,189.97 57.60,190.68 58.62,191.97 59.65,192.91 60.68,194.37 61.71,195.06 62.74,196.52 63.76,197.81 64.79,198.36 65.82,198.68 66.85,199.26 67.88,199.43 68.90,199.81 69.93,200.06 70.96,200.62 71.99,201.04 73.02,201.45 74.04,201.56 75.07,201.82 76.10,202.24 77.13,202.61 78.16,202.52 79.18,202.94 80.21,203.24 81.24,203.49 82.27,203.37 83.30,203.56 84.32,203.86 85.35,204.15 86.38,204.31 87.41,204.69 88.44,204.52 89.46,204.87 90.49,204.75 91.52,204.69 92.55,204.73 93.58,204.94 94.60,205.06 95.63,204.96 96.66,205.21 97.69,204.88 98.72,205.16 99.74,204.94 100.77,205.27 101.80,205.25 102.83,205.34 103.86,205.29 104.88,205.44 105.91,205.57 106.94,205.23 107.97,205.49 109.00,205.54 110.02,205.55 111.05,205.49 112.08,205.55 113.11,205.47 114.14,205.49 115.16,205.68 116.19,205.40 117.22,205.44 118.25,205.85 119.28,205.46 120.30,205.43 121.33,205.49 122.36,205.83 123.39,205.48 124.42,205.58 125.44,205.90 126.47,205.91 127.50,205.43 128.53,205.59 129.56,205.80 130.58,205.88 131.61,205.86 132.64,205.82 133.67,205.55 134.70,205.77 135.72,205.88 136.75,205.49 137.78,205.56 138.81,205.88 139.84,205.51 140.86,205.66 141.89,205.58 142.92,205.64 143.95,205.53 144.98,205.59 146.00,205.57 147.03,205.90 148.06,205.65 149.09,205.74 150.12,205.63 151.14,205.79 152.17,205.57 153.20,205.74 154.23,205.89 155.26,205.91 156.28,205.97 157.31,205.79 158.34,206.02 159.37,205.81 160.40,205.98 161.42,205.81 162.45,205.81 163.48,205.79 164.51,205.63 165.54,206.07 166.56,205.65 167.59,205.84 168.62,205.80 169.65,205.75 170.68,205.67 171.70,205.91 172.73,205.89 173.76,205.62 174.79,206.07 175.82,205.79 176.84,205.80 177.87,206.11" stroke="#a89c98" stroke-width="1.0" fill="none"  stroke-linejoin="round"/>
<polyline points="49.89,125.44 50.40,139.09 50.91,152.64 51.43,162.42 51.94,167.35 52.46,171.08 52.97,174.33 53.48,175.84 54.00,178.01 54.51,179.38 55.03,181.16 55.54,183.03 56.05,184.48 56.57,186.46 57.08,188.13 57.60,189.38 58.62,190.30 59.65,191.63 60.68,192.55 61.71,193.60 62.74,194.58 63.76,195.48 64.79,196.38 65.82,196.49 66.85,197.09 67.88,197.42 68.90,197.92 69.93,198.19 70.96,198.33 71.99,198.88 73.02,199.19 74.04,199.81 75.07,200.17 76.10,200.33 77.13,200.33 78.16,200.46 79.18,200.53 80.21,201.06 81.24,200.86 82.27,200.93 83.30,201.25 84.32,201.65 85.35,201.68 86.38,201.98 87.41,202.03 88.44,201.81 89.46,202.01 90.49,202.03 91.52,202.00 92.55,201.98 93.58,202.18 94.60,202.22 95.63,202.26 96.66,202.26 97.69,202.36 98.72,202.36 99.74,202.64 100.77,202.45 101.80,202.60 102.83,202.48 103.86,202.87 104.88,202.87 105.91,202.98 106.94,202.65 107.97,202.62 109.00,202.79 110.02,202.98 111.05,202.79 112.08,202.85 113.11,203.01 114.14,203.21 115.16,203.23 116.19,203.17 117.22,203.23 118.25,203.17 119.28,203.06 120.30,202.91 121.33,203.36 122.36,203.10 123.39,203.37 124.42,203.33 125.44,202.97 126.47,203.10 127.50,202.92 128.53,203.16 129.56,203.38 130.58,203.19 131.61,203.09 132.64,202.91 133.67,202.89 134.70,203.15 135.72,203.18 136.75,203.34 137.78,203.06 138.81,203.28 139.84,203.31 140.86,203.38 141.89,203.39 142.92,203.04 143.95,203.33 144.98,202.89 146.00,203.35 147.03,202.94 148.06,203.32 149.09,203.38 150.12,203.02 151.14,203.27 152.17,203.01 153.20,203.29 154.23,203.36 155.26,202.99 156.28,203.02 157.31,202.95 158.34,203.02 159.37,203.35 160.40,203.07 161.42,203.03 162.45,203.15 163.48,202.91 164.51,203.26 165.54,202.90 166.56,203.02 167.59,203.38 168.62,203.38 169.65,203.06 170.68,202.97 171.70,203.35 172.73,203.23 173.76,203.02 174.79,203.31 175.82,202.95 176.84,203.14 177.87,203.36" stroke="#e8a090" stroke-width="1.0" fill="none"  stroke-linejoin="round"/>
<polyline points="49.89,125.57 50.40,145.98 50.91,161.44 51.43,171.32 51.94,177.90 52.46,181.73 52.97,184.71 53.48,186.22 54.00,187.89 54.51,189.65 55.03,191.33 55.54,192.78 56.05,194.36 56.57,195.08 57.08,195.84 57.60,196.62 58.62,198.03 59.65,198.84 60.68,200.27 61.71,201.27 62.74,201.92 63.76,202.18 64.79,202.39 65.82,202.87 66.85,203.39 67.88,203.94 68.90,204.10 69.93,203.97 70.96,204.35 71.99,204.30 73.02,204.45 74.04,204.41 75.07,204.57 76.10,204.95 77.13,205.21 78.16,205.19 79.18,205.22 80.21,205.24 81.24,205.24 82.27,205.26 83.30,205.72 84.32,205.34 85.35,205.38 86.38,205.38 87.41,205.56 88.44,205.74 89.46,205.47 90.49,205.52 91.52,205.61 92.55,205.52 93.58,205.84 94.60,206.00 95.63,205.79 96.66,205.69 97.69,206.02 98.72,205.77 99.74,205.70 100.77,206.09 101.80,205.92 102.83,205.92 103.86,206.05 104.88,206.21 105.91,206.21 106.94,205.99 107.97,205.99 109.00,206.19 110.02,206.41 111.05,206.07 112.08,206.11 113.11,206.42 114.14,206.26 115.16,206.11 116.19,206.13 117.22,206.33 118.25,206.37 119.28,206.33 120.30,206.54 121.33,206.56 122.36,206.58 123.39,206.32 124.42,206.51 125.44,206.42 126.47,206.52 127.50,206.47 128.53,206.67 129.56,206.74 130.58,206.27 131.61,206.60 132.64,206.75 133.67,206.49 134.70,206.43 135.72,206.77 136.75,206.55 137.78,206.70 138.81,206.62 139.84,206.89 140.86,206.90 141.89,206.42 142.92,206.50 143.95,206.71 144.98,206.68 146.00,206.85 147.03,206.60 148.06,206.79 149.09,206.54 150.12,206.64 151.14,206.63 152.17,206.57 153.20,206.95 154.23,207.07 155.26,207.00 156.28,207.03 157.31,207.09 158.34,207.12 159.37,206.88 160.40,206.73 161.42,206.95 162.45,206.72 163.48,206.75 164.51,207.20 165.54,206.94 166.56,207.05 167.59,207.21 168.62,206.79 169.65,207.17 170.68,207.02 171.70,207.00 172.73,206.85 173.76,207.01 174.79,207.16 175.82,207.15 176.84,207.31 177.87,206.91" stroke="#5aa850" stroke-width="1.2" fill="none"  stroke-linejoin="round"/>
<polyline points="49.89,125.00 50.40,133.99 50.91,144.44 51.43,152.32 51.94,157.48 52.46,160.36 52.97,163.53 53.48,166.78 54.00,170.77 54.51,170.90 55.03,171.86 55.54,172.81 56.05,173.35 56.57,175.19 57.08,175.99 57.60,176.25 58.62,177.84 59.65,179.33 60.68,180.85 61.71,181.69 62.74,182.66 63.76,184.47 64.79,185.12 65.82,185.90 66.85,186.74 67.88,187.09 68.90,188.12 69.93,188.76 70.96,189.56 71.99,189.45 73.02,190.57 74.04,190.28 75.07,191.25 76.10,191.84 77.13,191.36 78.16,192.52 79.18,192.20 80.21,192.48 81.24,192.68 82.27,193.66 83.30,193.56 84.32,194.14 85.35,193.50 86.38,193.80 87.41,194.24 88.44,194.63 89.46,194.91 90.49,194.57 91.52,195.08 92.55,195.08 93.58,195.74 94.60,195.82 95.63,196.14 96.66,195.63 97.69,195.95 98.72,196.53 99.74,195.94 100.77,196.72 101.80,196.73 102.83,197.13 103.86,197.15 104.88,196.70 105.91,197.36 106.94,197.67 107.97,197.48 109.00,197.80 110.02,197.33 111.05,198.25 112.08,197.46 113.11,198.53 114.14,197.81 115.16,198.18 116.19,198.79 117.22,198.65 118.25,198.99 119.28,199.15 120.30,199.35 121.33,199.32 122.36,198.72 123.39,198.73 124.42,198.83 125.44,199.71 126.47,199.53 127.50,198.93 128.53,199.82 129.56,199.16 130.58,199.62 131.61,198.95 132.64,199.96 133.67,199.17 134.70,199.67 135.72,199.90 136.75,200.07 137.78,199.24 138.81,199.58 139.84,199.95 140.86,199.72 141.89,199.25 142.92,199.99 143.95,199.65 144.98,200.11 146.00,200.09 147.03,199.51 148.06,199.59 149.09,200.13 150.12,200.28 151.14,200.29 152.17,199.77 153.20,199.91 154.23,200.16 155.26,200.25 156.28,199.85 157.31,199.77 158.34,199.69 159.37,199.94 160.40,200.35 161.42,200.51 162.45,199.85 163.48,200.20 164.51,199.90 165.54,200.61 166.56,199.85 167.59,200.36 168.62,199.86 169.65,199.86 170.68,200.26 171.70,200.77 172.73,199.87 173.76,200.34 174.79,199.95 175.82,200.59 176.84,200.70 177.87,200.06" stroke="#24558f" stroke-width="1.5" fill="none"  stroke-linejoin="round"/>
<polyline points="49.89,125.61 50.40,130.58 50.91,138.26 51.43,144.89 51.94,150.13 52.46,153.41 52.97,157.06 53.48,160.13 54.00,162.22 54.51,163.47 55.03,165.15 55.54,166.86 56.05,169.09 56.57,169.40 57.08,170.34 57.60,170.67 58.62,172.57 59.65,173.18 60.68,174.41 61.71,175.90 62.74,176.38 63.76,176.85 64.79,177.34 65.82,178.27 66.85,177.95 67.88,179.08 68.90,179.62 69.93,180.22 70.96,180.62 71.99,180.66 73.02,181.86 74.04,182.33 75.07,182.33 76.10,183.19 77.13,183.78 78.16,183.72 79.18,184.17 80.21,184.65 81.24,184.93 82.27,185.88 83.30,185.60 84.32,185.96 85.35,186.76 86.38,186.92 87.41,186.82 88.44,187.04 89.46,187.46 90.49,187.82 91.52,187.80 92.55,188.25 93.58,188.08 94.60,188.06 95.63,188.89 96.66,188.74 97.69,188.81 98.72,189.52 99.74,189.17 100.77,189.29 101.80,189.98 102.83,190.00 103.86,189.70 104.88,190.02 105.91,190.18 106.94,189.77 107.97,189.97 109.00,190.39 110.02,190.53 111.05,190.50 112.08,190.46 113.11,190.05 114.14,190.25 115.16,190.21 116.19,190.32 117.22,190.32 118.25,191.03 119.28,190.66 120.30,190.32 121.33,190.37 122.36,190.98 123.39,190.86 124.42,190.71 125.44,190.97 126.47,190.86 127.50,191.28 128.53,191.00 129.56,190.97 130.58,191.41 131.61,191.31 132.64,190.61 133.67,190.78 134.70,190.65 135.72,190.92 136.75,190.78 137.78,190.72 138.81,190.73 139.84,191.47 140.86,190.95 141.89,191.28 142.92,190.94 143.95,191.29 144.98,191.07 146.00,190.75 147.03,191.02 148.06,191.34 149.09,191.12 150.12,191.20 151.14,190.77 152.17,191.34 153.20,191.33 154.23,191.04 155.26,191.49 156.28,191.08 157.31,190.77 158.34,191.15 159.37,191.36 160.40,191.19 161.42,191.14 162.45,191.46 163.48,191.49 164.51,191.48 165.54,191.34 166.56,191.24 167.59,191.34 168.62,191.38 169.65,191.52 170.68,191.12 171.70,190.87 172.73,191.07 173.76,191.10 174.79,191.04 175.82,191.42 176.84,190.98 177.87,191.20" stroke="#c2223f" stroke-width="1.5" fill="none"  stroke-linejoin="round"/>
<line x1="195" y1="129.9" x2="204" y2="129.9" stroke="#e8aaa2" stroke-width="1.2" />
<text x="207.2" y="132.70000000000002" font-size="7.8" text-anchor="start" fill="#333" font-weight="normal"  stroke="#333" stroke-width="0.12">NT_AML WT</text>
<line x1="195" y1="141.4" x2="204" y2="141.4" stroke="#b83044" stroke-width="1.2" />
<text x="207.2" y="144.20000000000002" font-size="7.8" text-anchor="start" fill="#333" font-weight="normal"  stroke="#333" stroke-width="0.12">DC_AML WT</text>
<line x1="195" y1="156" x2="204" y2="156" stroke="#adb2c8" stroke-width="1.2" />
<text x="207.2" y="158.8" font-size="7.8" text-anchor="start" fill="#333" font-weight="normal"  stroke="#333" stroke-width="0.12">NT_AML CD33−</text>
<line x1="195" y1="168" x2="204" y2="168" stroke="#34558a" stroke-width="1.2" />
<text x="207.2" y="170.8" font-size="7.8" text-anchor="start" fill="#333" font-weight="normal"  stroke="#333" stroke-width="0.12">DC_AML CD33−</text>
<line x1="195" y1="183.2" x2="204" y2="183.2" stroke="#d3e2cb" stroke-width="1.2" />
<text x="207.2" y="186.0" font-size="7.8" text-anchor="start" fill="#333" font-weight="normal"  stroke="#333" stroke-width="0.12">NT_AML −|−</text>
<line x1="195" y1="194.4" x2="204" y2="194.4" stroke="#5fa85c" stroke-width="1.2" />
<text x="207.2" y="197.20000000000002" font-size="7.8" text-anchor="start" fill="#333" font-weight="normal"  stroke="#333" stroke-width="0.12">DC_AML −|−</text>
<text x="282.3" y="117.2" font-size="11.2" text-anchor="start" fill="#111" font-weight="bold"  stroke="#111" stroke-width="0.5">C</text>
<line x1="313.8" y1="133" x2="313.8" y2="221.7" stroke="#222" stroke-width="1" />
<line x1="313.8" y1="221.2" x2="432" y2="221.2" stroke="#222" stroke-width="1" />
<line x1="311.5" y1="221.2" x2="313.8" y2="221.2" stroke="#222" stroke-width="0.9" />
<text x="307.5" y="223.79999999999998" font-size="7.8" text-anchor="end" fill="#333" font-weight="normal"  stroke="#333" stroke-width="0.12">0</text>
<line x1="311.5" y1="192.64999999999998" x2="313.8" y2="192.64999999999998" stroke="#222" stroke-width="0.9" />
<text x="307.5" y="195.24999999999997" font-size="7.8" text-anchor="end" fill="#333" font-weight="normal"  stroke="#333" stroke-width="0.12">10</text>
<line x1="311.5" y1="164.1" x2="313.8" y2="164.1" stroke="#222" stroke-width="0.9" />
<text x="307.5" y="166.7" font-size="7.8" text-anchor="end" fill="#333" font-weight="normal"  stroke="#333" stroke-width="0.12">20</text>
<line x1="311.5" y1="135.54999999999998" x2="313.8" y2="135.54999999999998" stroke="#222" stroke-width="0.9" />
<text x="307.5" y="138.14999999999998" font-size="7.8" text-anchor="end" fill="#333" font-weight="normal"  stroke="#333" stroke-width="0.12">30</text>
<text font-size="8.6" fill="#1a1a1a" stroke="#1a1a1a" stroke-width="0.18" font-weight="normal" text-anchor="middle" textLength="53.8" lengthAdjust="spacingAndGlyphs" transform="translate(292.6,176.6) rotate(-90)" x="0" y="0">% of T-cells bound</text>
<rect x="320" y="204.35549999999998" width="11.5" height="16.84450000000001" fill="#e8968a" stroke="none" stroke-width="0" rx="0" />
<line x1="325.75" y1="204.35549999999998" x2="325.75" y2="198.35999999999999" stroke="#e8968a" stroke-width="1" />
<line x1="323.25" y1="198.35999999999999" x2="328.25" y2="198.35999999999999" stroke="#e8968a" stroke-width="1" />
<rect x="337.8" y="154.964" width="11.699999999999989" height="66.23599999999999" fill="#c40d30" stroke="none" stroke-width="0" rx="0" />
<line x1="343.65" y1="154.964" x2="343.65" y2="154.39299999999997" stroke="#c40d30" stroke-width="1" />
<line x1="341.15" y1="154.39299999999997" x2="346.15" y2="154.39299999999997" stroke="#c40d30" stroke-width="1" />
<rect x="357.8" y="205.4975" width="12.0" height="15.702499999999986" fill="#97a3c8" stroke="none" stroke-width="0" rx="0" />
<line x1="363.8" y1="205.4975" x2="363.8" y2="202.357" stroke="#97a3c8" stroke-width="1" />
<line x1="361.3" y1="202.357" x2="366.3" y2="202.357" stroke="#97a3c8" stroke-width="1" />
<rect x="377" y="184.3705" width="11.600000000000023" height="36.829499999999996" fill="#0e3d78" stroke="none" stroke-width="0" rx="0" />
<line x1="382.8" y1="184.3705" x2="382.8" y2="182.0865" stroke="#0e3d78" stroke-width="1" />
<line x1="380.3" y1="182.0865" x2="385.3" y2="182.0865" stroke="#0e3d78" stroke-width="1" />
<rect x="397" y="214.6335" width="11.600000000000023" height="6.566499999999991" fill="#b6dea8" stroke="none" stroke-width="0" rx="0" />
<line x1="402.8" y1="214.6335" x2="402.8" y2="214.0625" stroke="#b6dea8" stroke-width="1" />
<line x1="400.3" y1="214.0625" x2="405.3" y2="214.0625" stroke="#b6dea8" stroke-width="1" />
<rect x="416.3" y="205.212" width="11.699999999999989" height="15.988" fill="#40ad44" stroke="none" stroke-width="0" rx="0" />
<line x1="422.15" y1="205.212" x2="422.15" y2="202.357" stroke="#40ad44" stroke-width="1" />
<line x1="419.65" y1="202.357" x2="424.65" y2="202.357" stroke="#40ad44" stroke-width="1" />
<line x1="318.8" y1="227.5" x2="351.7" y2="227.5" stroke="#444" stroke-width="0.9" />
<line x1="357.8" y1="227.5" x2="388.6" y2="227.5" stroke="#444" stroke-width="0.9" />
<line x1="397" y1="227.5" x2="428.6" y2="227.5" stroke="#444" stroke-width="0.9" />
<text x="334.2" y="237.4" font-size="8.0" text-anchor="middle" fill="#222" font-weight="normal"  stroke="#222" stroke-width="0.12">AML WT</text>
<text x="372.8" y="237.4" font-size="8.0" text-anchor="middle" fill="#222" font-weight="normal"  stroke="#222" stroke-width="0.12">AML CD33−</text>
<text x="412.6" y="237.4" font-size="8.0" text-anchor="middle" fill="#222" font-weight="normal"  stroke="#222" stroke-width="0.12">AML −/−</text>
<line x1="344.2" y1="113.4" x2="400.8" y2="113.4" stroke="#333" stroke-width="1.1" />
<text x="374" y="112.8" font-size="7.2" text-anchor="middle" fill="#222" font-weight="normal"  stroke="#222" stroke-width="0.12">****</text>
<line x1="344.2" y1="128.6" x2="382.3" y2="128.6" stroke="#333" stroke-width="1.1" />
<text x="365" y="128.3" font-size="7.2" text-anchor="middle" fill="#222" font-weight="normal"  stroke="#222" stroke-width="0.12">**</text>
<line x1="326" y1="144.3" x2="341.6" y2="144.3" stroke="#333" stroke-width="1.1" />
<text x="333.8" y="144.2" font-size="7.2" text-anchor="middle" fill="#222" font-weight="normal"  stroke="#222" stroke-width="0.12">***</text>
<line x1="346" y1="144.3" x2="362.4" y2="144.3" stroke="#333" stroke-width="1.1" />
<text x="355.6" y="144.2" font-size="7.2" text-anchor="middle" fill="#222" font-weight="normal"  stroke="#222" stroke-width="0.12">***</text>
<line x1="366.7" y1="144.3" x2="380.9" y2="144.3" stroke="#333" stroke-width="1.1" />
<text x="374" y="144.2" font-size="7.2" text-anchor="middle" fill="#222" font-weight="normal"  stroke="#222" stroke-width="0.12">*</text>
<line x1="384.9" y1="144.3" x2="400.8" y2="144.3" stroke="#333" stroke-width="1.1" />
<text x="392.7" y="144.2" font-size="7.2" text-anchor="middle" fill="#222" font-weight="normal"  stroke="#222" stroke-width="0.12">**</text>
<rect x="447" y="137" width="6" height="6" fill="#e8968a" stroke="none" stroke-width="0" rx="0" />
<text x="456" y="142.8" font-size="7.8" text-anchor="start" fill="#333" font-weight="normal"  stroke="#333" stroke-width="0.12">NT_AML WT</text>
<rect x="447" y="149" width="6" height="6" fill="#c40d30" stroke="none" stroke-width="0" rx="0" />
<text x="456" y="154.8" font-size="7.8" text-anchor="start" fill="#333" font-weight="normal"  stroke="#333" stroke-width="0.12">DC_AML WT</text>
<rect x="447" y="163.7" width="6" height="6" fill="#97a3c8" stroke="none" stroke-width="0" rx="0" />
<text x="456" y="169.5" font-size="7.8" text-anchor="start" fill="#333" font-weight="normal"  stroke="#333" stroke-width="0.12">NT_AML CD33−</text>
<rect x="447" y="175.4" width="6" height="6" fill="#0e3d78" stroke="none" stroke-width="0" rx="0" />
<text x="456" y="181.20000000000002" font-size="7.8" text-anchor="start" fill="#333" font-weight="normal"  stroke="#333" stroke-width="0.12">DC_AML CD33−</text>
<rect x="447" y="190.2" width="6" height="6" fill="#b6dea8" stroke="none" stroke-width="0" rx="0" />
<text x="456" y="196.0" font-size="7.8" text-anchor="start" fill="#333" font-weight="normal"  stroke="#333" stroke-width="0.12">NT_AML −|−</text>
<rect x="447" y="202.3" width="6" height="6" fill="#40ad44" stroke="none" stroke-width="0" rx="0" />
<text x="456" y="208.10000000000002" font-size="7.8" text-anchor="start" fill="#333" font-weight="normal"  stroke="#333" stroke-width="0.12">DC_AML −|−</text>
<text x="6.5" y="255.9" font-size="11.2" text-anchor="start" fill="#111" font-weight="bold"  stroke="#111" stroke-width="0.5">D</text>
<line x1="48.5" y1="264.5" x2="48.5" y2="305.3" stroke="#222" stroke-width="1" />
<line x1="48.5" y1="309.1" x2="48.5" y2="346.9" stroke="#222" stroke-width="1" />
<line x1="45.4" y1="305.3" x2="50.9" y2="305.3" stroke="#222" stroke-width="0.9" />
<line x1="45.4" y1="309.1" x2="50.9" y2="309.1" stroke="#222" stroke-width="0.9" />
<line x1="48.5" y1="346.5" x2="185" y2="346.5" stroke="#222" stroke-width="1" />
<line x1="45.6" y1="297.58" x2="48.5" y2="297.58" stroke="#222" stroke-width="0.9" />
<text x="41.8" y="300.18" font-size="7.7" text-anchor="end" fill="#333" font-weight="normal"  stroke="#333" stroke-width="0.12">20</text>
<line x1="45.6" y1="289.86" x2="48.5" y2="289.86" stroke="#222" stroke-width="0.9" />
<text x="41.8" y="292.46000000000004" font-size="7.7" text-anchor="end" fill="#333" font-weight="normal"  stroke="#333" stroke-width="0.12">40</text>
<line x1="45.6" y1="282.14" x2="48.5" y2="282.14" stroke="#222" stroke-width="0.9" />
<text x="41.8" y="284.74" font-size="7.7" text-anchor="end" fill="#333" font-weight="normal"  stroke="#333" stroke-width="0.12">60</text>
<line x1="45.6" y1="274.42" x2="48.5" y2="274.42" stroke="#222" stroke-width="0.9" />
<text x="41.8" y="277.02000000000004" font-size="7.7" text-anchor="end" fill="#333" font-weight="normal"  stroke="#333" stroke-width="0.12">80</text>
<line x1="45.6" y1="266.7" x2="48.5" y2="266.7" stroke="#222" stroke-width="0.9" />
<text x="41.8" y="269.3" font-size="7.7" text-anchor="end" fill="#333" font-weight="normal"  stroke="#333" stroke-width="0.12">100</text>
<text x="41.8" y="311.70000000000005" font-size="7.7" text-anchor="end" fill="#333" font-weight="normal"  stroke="#333" stroke-width="0.12">1.0</text>
<line x1="45.6" y1="327.8" x2="48.5" y2="327.8" stroke="#222" stroke-width="0.9" />
<text x="41.8" y="330.40000000000003" font-size="7.7" text-anchor="end" fill="#333" font-weight="normal"  stroke="#333" stroke-width="0.12">0.5</text>
<line x1="45.6" y1="346.5" x2="48.5" y2="346.5" stroke="#222" stroke-width="0.9" />
<text x="41.8" y="349.1" font-size="7.7" text-anchor="end" fill="#333" font-weight="normal"  stroke="#333" stroke-width="0.12">0.0</text>
<text font-size="8.6" fill="#1a1a1a" stroke="#1a1a1a" stroke-width="0.18" font-weight="normal" text-anchor="middle" textLength="47.3" lengthAdjust="spacingAndGlyphs" transform="translate(23.2,305.3) rotate(-90)" x="0" y="0">% KG-1 survival</text>
<rect x="53.05" y="275.192" width="8.300000000000004" height="29.408000000000015" fill="#8c90a2" stroke="none" stroke-width="0" rx="0" />
<rect x="53.05" y="310.2" width="8.300000000000004" height="36.30000000000001" fill="#8c90a2" stroke="none" stroke-width="0" rx="0" />
<line x1="57.2" y1="269.788" x2="57.2" y2="277.50800000000004" stroke="#4a4f66" stroke-width="0.9" />
<line x1="55.0" y1="269.788" x2="59.400000000000006" y2="269.788" stroke="#4a4f66" stroke-width="0.9" />
<line x1="55.0" y1="277.50800000000004" x2="59.400000000000006" y2="277.50800000000004" stroke="#4a4f66" stroke-width="0.9" />
<circle cx="57.25" cy="270.17" r="1.3" fill="#4a4f66" stroke="none" stroke-width="0"/>
<circle cx="55.25" cy="275.58" r="1.3" fill="#4a4f66" stroke="none" stroke-width="0"/>
<circle cx="59.75" cy="275.19" r="1.3" fill="#4a4f66" stroke="none" stroke-width="0"/>
<rect x="66.05" y="343.508" width="8.400000000000006" height="2.9920000000000186" fill="#e07a70" stroke="none" stroke-width="0" rx="0" />
<circle cx="68.25" cy="343.88" r="1.4" fill="#d0202e" stroke="none" stroke-width="0"/>
<circle cx="70.25" cy="342.76" r="1.4" fill="#d0202e" stroke="none" stroke-width="0"/>
<circle cx="72.25" cy="342.76" r="1.4" fill="#d0202e" stroke="none" stroke-width="0"/>
<circle cx="69.25" cy="343.13" r="1.4" fill="#d0202e" stroke="none" stroke-width="0"/>
<rect x="88.55" y="279.052" width="8.299999999999997" height="25.548000000000002" fill="#8c90a2" stroke="none" stroke-width="0" rx="0" />
<rect x="88.55" y="310.2" width="8.299999999999997" height="36.30000000000001" fill="#8c90a2" stroke="none" stroke-width="0" rx="0" />
<line x1="92.7" y1="270.56" x2="92.7" y2="284.07" stroke="#4a4f66" stroke-width="0.9" />
<line x1="90.5" y1="270.56" x2="94.9" y2="270.56" stroke="#4a4f66" stroke-width="0.9" />
<line x1="90.5" y1="284.07" x2="94.9" y2="284.07" stroke="#4a4f66" stroke-width="0.9" />
<circle cx="90.25" cy="272.10" r="1.3" fill="#4a4f66" stroke="none" stroke-width="0"/>
<circle cx="95.75" cy="272.88" r="1.3" fill="#4a4f66" stroke="none" stroke-width="0"/>
<circle cx="92.75" cy="282.91" r="1.3" fill="#4a4f66" stroke="none" stroke-width="0"/>
<rect x="101.55" y="345.004" width="8.400000000000006" height="1.495999999999981" fill="#e07a70" stroke="none" stroke-width="0" rx="0" />
<line x1="105.75" y1="340.142" x2="105.75" y2="345.752" stroke="#d0202e" stroke-width="0.9" />
<line x1="103.55" y1="340.142" x2="107.95" y2="340.142" stroke="#d0202e" stroke-width="0.9" />
<line x1="103.55" y1="345.752" x2="107.95" y2="345.752" stroke="#d0202e" stroke-width="0.9" />
<circle cx="105.75" cy="340.14" r="1.4" fill="#d0202e" stroke="none" stroke-width="0"/>
<circle cx="103.25" cy="345.00" r="1.4" fill="#d0202e" stroke="none" stroke-width="0"/>
<circle cx="108.25" cy="344.63" r="1.4" fill="#d0202e" stroke="none" stroke-width="0"/>
<rect x="124.2" y="271.332" width="8.299999999999997" height="33.26800000000003" fill="#8c90a2" stroke="none" stroke-width="0" rx="0" />
<rect x="124.2" y="310.2" width="8.299999999999997" height="36.30000000000001" fill="#8c90a2" stroke="none" stroke-width="0" rx="0" />
<circle cx="128.35" cy="271.33" r="1.3" fill="#4a4f66" stroke="none" stroke-width="0"/>
<rect x="137.0" y="286.0" width="8.5" height="18.600000000000023" fill="#e8877d" stroke="none" stroke-width="0" rx="0" />
<rect x="137.0" y="310.2" width="8.5" height="36.30000000000001" fill="#e8877d" stroke="none" stroke-width="0" rx="0" />
<circle cx="141.25" cy="286.00" r="1.3" fill="#d0202e" stroke="none" stroke-width="0"/>
<rect x="159.3" y="281.368" width="8.699999999999989" height="23.232000000000028" fill="#8c90a2" stroke="none" stroke-width="0" rx="0" />
<rect x="159.3" y="310.2" width="8.699999999999989" height="36.30000000000001" fill="#8c90a2" stroke="none" stroke-width="0" rx="0" />
<line x1="163.65" y1="269.016" x2="163.65" y2="296.036" stroke="#4a4f66" stroke-width="0.9" />
<line x1="161.45000000000002" y1="269.016" x2="165.85" y2="269.016" stroke="#4a4f66" stroke-width="0.9" />
<line x1="161.45000000000002" y1="296.036" x2="165.85" y2="296.036" stroke="#4a4f66" stroke-width="0.9" />
<circle cx="163.70" cy="269.79" r="1.3" fill="#4a4f66" stroke="none" stroke-width="0"/>
<circle cx="163.70" cy="277.51" r="1.3" fill="#4a4f66" stroke="none" stroke-width="0"/>
<circle cx="163.70" cy="294.88" r="1.3" fill="#4a4f66" stroke="none" stroke-width="0"/>
<rect x="172" y="278.28000000000003" width="8.699999999999989" height="26.319999999999993" fill="#e8877d" stroke="none" stroke-width="0" rx="0" />
<rect x="172" y="310.2" width="8.699999999999989" height="36.30000000000001" fill="#e8877d" stroke="none" stroke-width="0" rx="0" />
<line x1="176.35" y1="269.788" x2="176.35" y2="284.07" stroke="#d0202e" stroke-width="0.9" />
<line x1="174.15" y1="269.788" x2="178.54999999999998" y2="269.788" stroke="#d0202e" stroke-width="0.9" />
<line x1="174.15" y1="284.07" x2="178.54999999999998" y2="284.07" stroke="#d0202e" stroke-width="0.9" />
<circle cx="176.30" cy="269.79" r="1.3" fill="#d0202e" stroke="none" stroke-width="0"/>
<circle cx="176.30" cy="276.74" r="1.3" fill="#d0202e" stroke="none" stroke-width="0"/>
<circle cx="176.30" cy="282.14" r="1.3" fill="#d0202e" stroke="none" stroke-width="0"/>
<line x1="63.75" y1="346.5" x2="63.75" y2="349.2" stroke="#222" stroke-width="0.9" />
<line x1="99.25" y1="346.5" x2="99.25" y2="349.2" stroke="#222" stroke-width="0.9" />
<line x1="134.5" y1="346.5" x2="134.5" y2="349.2" stroke="#222" stroke-width="0.9" />
<line x1="170" y1="346.5" x2="170" y2="349.2" stroke="#222" stroke-width="0.9" />
<path d="M57.25,263.90000000000003 L57.25,261.3 L70.25,261.3 L70.25,263.90000000000003" fill="none" stroke="#222" stroke-width="0.9"/>
<text x="63.75" y="258.7" font-size="6.8" text-anchor="middle" fill="#222" font-weight="normal"  stroke="#222" stroke-width="0.12">***</text>
<path d="M92.75,263.90000000000003 L92.75,261.3 L105.75,261.3 L105.75,263.90000000000003" fill="none" stroke="#222" stroke-width="0.9"/>
<text x="99.25" y="258.7" font-size="6.8" text-anchor="middle" fill="#222" font-weight="normal"  stroke="#222" stroke-width="0.12">**</text>
<path d="M128.0,263.90000000000003 L128.0,261.3 L141.0,261.3 L141.0,263.90000000000003" fill="none" stroke="#222" stroke-width="0.9"/>
<text x="134.5" y="258.7" font-size="6.8" text-anchor="middle" fill="#222" font-weight="normal"  stroke="#222" stroke-width="0.12">ns</text>
<path d="M163.5,263.90000000000003 L163.5,261.3 L176.5,261.3 L176.5,263.90000000000003" fill="none" stroke="#222" stroke-width="0.9"/>
<text x="170.0" y="258.7" font-size="6.8" text-anchor="middle" fill="#222" font-weight="normal"  stroke="#222" stroke-width="0.12">ns</text>
<circle cx="196.30" cy="267.50" r="1.4" fill="#4a4f66" stroke="none" stroke-width="0"/>
<text x="200.5" y="270.3" font-size="8" text-anchor="start" fill="#333" font-weight="normal"  stroke="#333" stroke-width="0.12">NT</text>
<circle cx="196.30" cy="279.50" r="1.4" fill="#d0202e" stroke="none" stroke-width="0"/>
<text x="200.5" y="282.3" font-size="8" text-anchor="start" fill="#333" font-weight="normal"  stroke="#333" stroke-width="0.12">DC</text>
<text x="36.8" y="359.6" font-size="8" text-anchor="end" fill="#2a2a2a" font-weight="normal"  stroke="#2a2a2a" stroke-width="0.05">CD123</text>
<text x="36.8" y="369.6" font-size="8" text-anchor="end" fill="#2a2a2a" font-weight="normal"  stroke="#2a2a2a" stroke-width="0.05">CD33</text>
<text x="63.75" y="359.9" font-size="7.5" text-anchor="middle" fill="#333" font-weight="normal" >+</text>
<text x="63.75" y="369.9" font-size="7.5" text-anchor="middle" fill="#333" font-weight="normal" >+</text>
<text x="99.25" y="359.9" font-size="7.5" text-anchor="middle" fill="#333" font-weight="normal" >+</text>
<text x="99.25" y="369.9" font-size="7.5" text-anchor="middle" fill="#333" font-weight="normal" >−</text>
<text x="134.5" y="359.9" font-size="7.5" text-anchor="middle" fill="#333" font-weight="normal" >−</text>
<text x="134.5" y="369.9" font-size="7.5" text-anchor="middle" fill="#333" font-weight="normal" >+</text>
<text x="170" y="359.9" font-size="7.5" text-anchor="middle" fill="#333" font-weight="normal" >−</text>
<text x="170" y="369.9" font-size="7.5" text-anchor="middle" fill="#333" font-weight="normal" >−</text>
<text x="279.7" y="256.2" font-size="11.2" text-anchor="start" fill="#111" font-weight="bold"  stroke="#111" stroke-width="0.5">E</text>
<line x1="313.75" y1="260.5" x2="313.75" y2="347.2" stroke="#222" stroke-width="1" />
<line x1="313.75" y1="346.75" x2="452.5" y2="346.75" stroke="#222" stroke-width="1" />
<line x1="311.4" y1="346.75" x2="313.75" y2="346.75" stroke="#222" stroke-width="0.9" />
<text x="307.1" y="348.95" font-size="7.7" text-anchor="end" fill="#333" font-weight="normal"  stroke="#333" stroke-width="0.12">0</text>
<line x1="311.4" y1="330.05" x2="313.75" y2="330.05" stroke="#222" stroke-width="0.9" />
<text x="307.1" y="332.25" font-size="7.7" text-anchor="end" fill="#333" font-weight="normal"  stroke="#333" stroke-width="0.12">10</text>
<line x1="311.4" y1="313.35" x2="313.75" y2="313.35" stroke="#222" stroke-width="0.9" />
<text x="307.1" y="315.55" font-size="7.7" text-anchor="end" fill="#333" font-weight="normal"  stroke="#333" stroke-width="0.12">20</text>
<line x1="311.4" y1="296.65" x2="313.75" y2="296.65" stroke="#222" stroke-width="0.9" />
<text x="307.1" y="298.84999999999997" font-size="7.7" text-anchor="end" fill="#333" font-weight="normal"  stroke="#333" stroke-width="0.12">30</text>
<line x1="311.4" y1="279.95" x2="313.75" y2="279.95" stroke="#222" stroke-width="0.9" />
<text x="307.1" y="282.15" font-size="7.7" text-anchor="end" fill="#333" font-weight="normal"  stroke="#333" stroke-width="0.12">40</text>
<line x1="311.4" y1="263.25" x2="313.75" y2="263.25" stroke="#222" stroke-width="0.9" />
<text x="307.1" y="265.45" font-size="7.7" text-anchor="end" fill="#333" font-weight="normal"  stroke="#333" stroke-width="0.12">50</text>
<text font-size="8.6" fill="#1a1a1a" stroke="#1a1a1a" stroke-width="0.18" font-weight="normal" text-anchor="middle" textLength="47.2" lengthAdjust="spacingAndGlyphs" transform="translate(293,303.3) rotate(-90)" x="0" y="0">CD3 fold change</text>
<rect x="318.25" y="342.575" width="9.25" height="4.175000000000011" fill="#8c90a2" stroke="none" stroke-width="0" rx="0" />
<circle cx="320.50" cy="340.90" r="1.3" fill="#4a4f66" stroke="none" stroke-width="0"/>
<circle cx="323.00" cy="343.08" r="1.3" fill="#4a4f66" stroke="none" stroke-width="0"/>
<circle cx="325.50" cy="342.74" r="1.3" fill="#4a4f66" stroke="none" stroke-width="0"/>
<rect x="332.5" y="309.342" width="8.75" height="37.408000000000015" fill="#e8877d" stroke="none" stroke-width="0" rx="0" />
<line x1="336.9" y1="295.481" x2="336.9" y2="323.37" stroke="#d0202e" stroke-width="1" />
<line x1="336.9" y1="295.481" x2="336.9" y2="295.481" stroke="#d0202e" stroke-width="1" />
<line x1="336.9" y1="323.37" x2="336.9" y2="323.37" stroke="#d0202e" stroke-width="1" />
<line x1="334.5" y1="295.481" x2="339.3" y2="295.481" stroke="#d0202e" stroke-width="1" />
<circle cx="336.90" cy="282.45" r="1.5" fill="#d0202e" stroke="none" stroke-width="0"/>
<circle cx="336.90" cy="322.54" r="1.5" fill="#d0202e" stroke="none" stroke-width="0"/>
<circle cx="336.90" cy="325.04" r="1.5" fill="#d0202e" stroke="none" stroke-width="0"/>
<rect x="355.0" y="343.744" width="9.25" height="3.005999999999972" fill="#8c90a2" stroke="none" stroke-width="0" rx="0" />
<circle cx="357.25" cy="344.08" r="1.3" fill="#4a4f66" stroke="none" stroke-width="0"/>
<circle cx="359.75" cy="343.41" r="1.3" fill="#4a4f66" stroke="none" stroke-width="0"/>
<circle cx="362.25" cy="343.58" r="1.3" fill="#4a4f66" stroke="none" stroke-width="0"/>
<rect x="369.25" y="341.74" width="8.75" height="5.009999999999991" fill="#e8877d" stroke="none" stroke-width="0" rx="0" />
<circle cx="371.25" cy="339.74" r="1.4" fill="#d0202e" stroke="none" stroke-width="0"/>
<circle cx="373.75" cy="342.91" r="1.4" fill="#d0202e" stroke="none" stroke-width="0"/>
<circle cx="376.25" cy="341.74" r="1.4" fill="#d0202e" stroke="none" stroke-width="0"/>
<rect x="392.0" y="341.74" width="9.25" height="5.009999999999991" fill="#8c90a2" stroke="none" stroke-width="0" rx="0" />
<circle cx="396.65" cy="341.74" r="1.3" fill="#4a4f66" stroke="none" stroke-width="0"/>
<rect x="406.25" y="345.414" width="8.75" height="1.3360000000000127" fill="#e8877d" stroke="none" stroke-width="0" rx="0" />
<circle cx="410.65" cy="344.91" r="1.4" fill="#d0202e" stroke="none" stroke-width="0"/>
<rect x="428.75" y="343.41" width="9.25" height="3.339999999999975" fill="#8c90a2" stroke="none" stroke-width="0" rx="0" />
<line x1="433.4" y1="338.066" x2="433.4" y2="345.08" stroke="#4a4f66" stroke-width="0.9" />
<line x1="431.79999999999995" y1="338.066" x2="435.0" y2="338.066" stroke="#4a4f66" stroke-width="0.9" />
<line x1="431.79999999999995" y1="345.08" x2="435.0" y2="345.08" stroke="#4a4f66" stroke-width="0.9" />
<circle cx="433.40" cy="337.73" r="1.3" fill="#4a4f66" stroke="none" stroke-width="0"/>
<circle cx="431.50" cy="343.74" r="1.3" fill="#4a4f66" stroke="none" stroke-width="0"/>
<circle cx="435.50" cy="343.74" r="1.3" fill="#4a4f66" stroke="none" stroke-width="0"/>
<rect x="443" y="344.746" width="8.75" height="2.004000000000019" fill="#e8877d" stroke="none" stroke-width="0" rx="0" />
<circle cx="445.00" cy="344.75" r="1.4" fill="#d0202e" stroke="none" stroke-width="0"/>
<circle cx="447.40" cy="342.74" r="1.4" fill="#d0202e" stroke="none" stroke-width="0"/>
<circle cx="449.80" cy="344.41" r="1.4" fill="#d0202e" stroke="none" stroke-width="0"/>
<line x1="329.5" y1="346.75" x2="329.5" y2="349.5" stroke="#222" stroke-width="0.9" />
<line x1="366.25" y1="346.75" x2="366.25" y2="349.5" stroke="#222" stroke-width="0.9" />
<line x1="403.25" y1="346.75" x2="403.25" y2="349.5" stroke="#222" stroke-width="0.9" />
<line x1="440" y1="346.75" x2="440" y2="349.5" stroke="#222" stroke-width="0.9" />
<path d="M322.25,277.6 L322.25,275 L337.0,275 L337.0,277.6" fill="none" stroke="#222" stroke-width="0.9"/>
<text x="329.625" y="272.4" font-size="6.8" text-anchor="middle" fill="#222" font-weight="normal"  stroke="#222" stroke-width="0.12">*</text>
<path d="M359.0,277.6 L359.0,275 L373.75,275 L373.75,277.6" fill="none" stroke="#222" stroke-width="0.9"/>
<text x="366.375" y="272.4" font-size="6.8" text-anchor="middle" fill="#222" font-weight="normal"  stroke="#222" stroke-width="0.12">ns</text>
<path d="M396.0,277.6 L396.0,275 L410.75,275 L410.75,277.6" fill="none" stroke="#222" stroke-width="0.9"/>
<text x="403.375" y="272.4" font-size="6.8" text-anchor="middle" fill="#222" font-weight="normal"  stroke="#222" stroke-width="0.12">ns</text>
<path d="M432.75,277.6 L432.75,275 L447.5,275 L447.5,277.6" fill="none" stroke="#222" stroke-width="0.9"/>
<text x="440.125" y="272.4" font-size="6.8" text-anchor="middle" fill="#222" font-weight="normal"  stroke="#222" stroke-width="0.12">ns</text>
<text x="305" y="359.6" font-size="8" text-anchor="end" fill="#2a2a2a" font-weight="normal"  stroke="#2a2a2a" stroke-width="0.05">CD123</text>
<text x="305" y="369.6" font-size="8" text-anchor="end" fill="#2a2a2a" font-weight="normal"  stroke="#2a2a2a" stroke-width="0.05">CD33</text>
<text x="329.5" y="359.9" font-size="7.5" text-anchor="middle" fill="#333" font-weight="normal" >+</text>
<text x="329.5" y="369.9" font-size="7.5" text-anchor="middle" fill="#333" font-weight="normal" >+</text>
<text x="366.25" y="359.9" font-size="7.5" text-anchor="middle" fill="#333" font-weight="normal" >+</text>
<text x="366.25" y="369.9" font-size="7.5" text-anchor="middle" fill="#333" font-weight="normal" >−</text>
<text x="403.25" y="359.9" font-size="7.5" text-anchor="middle" fill="#333" font-weight="normal" >−</text>
<text x="403.25" y="369.9" font-size="7.5" text-anchor="middle" fill="#333" font-weight="normal" >+</text>
<text x="440" y="359.9" font-size="7.5" text-anchor="middle" fill="#333" font-weight="normal" >−</text>
<text x="440" y="369.9" font-size="7.5" text-anchor="middle" fill="#333" font-weight="normal" >−</text>
<text x="6.7" y="387.3" font-size="11.2" text-anchor="start" fill="#111" font-weight="bold"  stroke="#111" stroke-width="0.5">F</text>
<line x1="48.5" y1="383.5" x2="48.5" y2="473.5" stroke="#222" stroke-width="1" />
<line x1="48" y1="470.75" x2="177" y2="470.75" stroke="#222" stroke-width="1" />
<line x1="45.8" y1="470.75" x2="48.5" y2="470.75" stroke="#222" stroke-width="0.9" />
<text x="42.4" y="473.35" font-size="7.7" text-anchor="end" fill="#333" font-weight="normal"  stroke="#333" stroke-width="0.12">0</text>
<line x1="45.8" y1="432.25" x2="48.5" y2="432.25" stroke="#222" stroke-width="0.9" />
<text x="42.4" y="434.85" font-size="7.7" text-anchor="end" fill="#333" font-weight="normal"  stroke="#333" stroke-width="0.12">50</text>
<line x1="45.8" y1="393.75" x2="48.5" y2="393.75" stroke="#222" stroke-width="0.9" />
<text x="42.4" y="396.35" font-size="7.7" text-anchor="end" fill="#333" font-weight="normal"  stroke="#333" stroke-width="0.12">100</text>
<line x1="47.2" y1="463.05" x2="48.5" y2="463.05" stroke="#333" stroke-width="0.6" />
<line x1="47.2" y1="455.35" x2="48.5" y2="455.35" stroke="#333" stroke-width="0.6" />
<line x1="47.2" y1="447.65" x2="48.5" y2="447.65" stroke="#333" stroke-width="0.6" />
<line x1="47.2" y1="439.95" x2="48.5" y2="439.95" stroke="#333" stroke-width="0.6" />
<line x1="47.2" y1="424.55" x2="48.5" y2="424.55" stroke="#333" stroke-width="0.6" />
<line x1="47.2" y1="416.85" x2="48.5" y2="416.85" stroke="#333" stroke-width="0.6" />
<line x1="47.2" y1="409.15" x2="48.5" y2="409.15" stroke="#333" stroke-width="0.6" />
<line x1="47.2" y1="401.45" x2="48.5" y2="401.45" stroke="#333" stroke-width="0.6" />
<line x1="48.0" y1="470.75" x2="48.0" y2="473.35" stroke="#222" stroke-width="0.8" />
<line x1="56.49" y1="470.75" x2="56.49" y2="472.35" stroke="#222" stroke-width="0.8" />
<line x1="64.98" y1="470.75" x2="64.98" y2="472.35" stroke="#222" stroke-width="0.8" />
<line x1="73.47" y1="470.75" x2="73.47" y2="472.35" stroke="#222" stroke-width="0.8" />
<line x1="81.96000000000001" y1="470.75" x2="81.96000000000001" y2="472.35" stroke="#222" stroke-width="0.8" />
<line x1="90.44999999999999" y1="470.75" x2="90.44999999999999" y2="473.35" stroke="#222" stroke-width="0.8" />
<line x1="98.94" y1="470.75" x2="98.94" y2="472.35" stroke="#222" stroke-width="0.8" />
<line x1="107.43" y1="470.75" x2="107.43" y2="472.35" stroke="#222" stroke-width="0.8" />
<line x1="115.92" y1="470.75" x2="115.92" y2="472.35" stroke="#222" stroke-width="0.8" />
<line x1="124.41" y1="470.75" x2="124.41" y2="472.35" stroke="#222" stroke-width="0.8" />
<line x1="132.89999999999998" y1="470.75" x2="132.89999999999998" y2="473.35" stroke="#222" stroke-width="0.8" />
<line x1="141.39" y1="470.75" x2="141.39" y2="472.35" stroke="#222" stroke-width="0.8" />
<line x1="149.88" y1="470.75" x2="149.88" y2="472.35" stroke="#222" stroke-width="0.8" />
<line x1="158.37" y1="470.75" x2="158.37" y2="472.35" stroke="#222" stroke-width="0.8" />
<line x1="166.86" y1="470.75" x2="166.86" y2="472.35" stroke="#222" stroke-width="0.8" />
<line x1="175.35" y1="470.75" x2="175.35" y2="473.35" stroke="#222" stroke-width="0.8" />
<text x="48.0" y="484" font-size="7.5" text-anchor="middle" fill="#333" font-weight="normal"  stroke="#333" stroke-width="0.12">0</text>
<text x="90.44999999999999" y="484" font-size="7.5" text-anchor="middle" fill="#333" font-weight="normal"  stroke="#333" stroke-width="0.12">50</text>
<text x="132.89999999999998" y="484" font-size="7.5" text-anchor="middle" fill="#333" font-weight="normal"  stroke="#333" stroke-width="0.12">100</text>
<text x="175.35" y="484" font-size="7.5" text-anchor="middle" fill="#333" font-weight="normal"  stroke="#333" stroke-width="0.12">150</text>
<text font-size="9.4" fill="#1a1a1a" stroke="#1a1a1a" stroke-width="0.18" font-weight="normal" text-anchor="middle" textLength="13.8" lengthAdjust="spacingAndGlyphs" transform="translate(113.3,496.8)" x="0" y="0">Time</text>
<text font-size="8.6" fill="#1a1a1a" stroke="#1a1a1a" stroke-width="0.18" font-weight="normal" text-anchor="middle" textLength="62" lengthAdjust="spacingAndGlyphs" transform="translate(23.4,427) rotate(-90)" x="0" y="0">Probability of survival</text>
<polyline points="48.00,393.75 115.75,393.75 115.75,406.84 120.00,406.84 120.00,419.16 137.48,419.16 137.48,445.34 154.97,445.34 154.97,457.66 161.77,457.66 161.77,470.75" stroke="#b5203f" stroke-width="1.3" fill="none" />
<polyline points="48.00,393.75 83.23,393.75 83.23,409.15 88.75,409.15 88.75,439.95 94.78,439.95 94.78,470.75" stroke="#4aae46" stroke-width="1.3" fill="none" />
<line x1="138.8" y1="393.2" x2="147.5" y2="393.2" stroke="#4aae46" stroke-width="1.2" />
<line x1="143.1" y1="391.8" x2="143.1" y2="394.6" stroke="#4aae46" stroke-width="0.8" />
<line x1="138.8" y1="406.3" x2="147.5" y2="406.3" stroke="#b5203f" stroke-width="1.2" />
<line x1="143.1" y1="404.9" x2="143.1" y2="407.7" stroke="#b5203f" stroke-width="0.8" />
<text x="152.5" y="396" font-size="7.6" text-anchor="start" fill="#333" font-weight="normal"  stroke="#333" stroke-width="0.12">KG-1 only</text>
<text x="152.5" y="409.1" font-size="7.6" text-anchor="start" fill="#333" font-weight="normal"  stroke="#333" stroke-width="0.12">DC</text>
<text x="203" y="395" font-size="7.4" fill="#333"><tspan font-style="italic">P</tspan>-value</text>
<text x="215.5" y="410" font-size="6.6" text-anchor="middle" fill="#333" font-weight="normal"  stroke="#333" stroke-width="0.12">**</text>
<text x="279.9" y="387.4" font-size="11.2" text-anchor="start" fill="#111" font-weight="bold"  stroke="#111" stroke-width="0.5">G</text>
<line x1="313.75" y1="386" x2="313.75" y2="411.3" stroke="#222" stroke-width="1" />
<line x1="313.75" y1="417.3" x2="313.75" y2="471.8" stroke="#222" stroke-width="1" />
<line x1="311" y1="411.3" x2="316.8" y2="411.3" stroke="#222" stroke-width="0.9" />
<line x1="311" y1="417.3" x2="316.8" y2="417.3" stroke="#222" stroke-width="0.9" />
<line x1="313.75" y1="471.4" x2="450.5" y2="471.4" stroke="#222" stroke-width="1" />
<line x1="311.4" y1="399.09999999999997" x2="313.75" y2="399.09999999999997" stroke="#222" stroke-width="0.9" />
<text x="308.3" y="401.7" font-size="7.6" text-anchor="end" fill="#333" font-weight="normal"  stroke="#333" stroke-width="0.12">30</text>
<line x1="311.4" y1="387.29999999999995" x2="313.75" y2="387.29999999999995" stroke="#222" stroke-width="0.9" />
<text x="308.3" y="389.9" font-size="7.6" text-anchor="end" fill="#333" font-weight="normal"  stroke="#333" stroke-width="0.12">40</text>
<text x="308.3" y="412.40000000000003" font-size="7.6" text-anchor="end" fill="#333" font-weight="normal"  stroke="#333" stroke-width="0.12">20</text>
<line x1="311.4" y1="471.4" x2="313.75" y2="471.4" stroke="#222" stroke-width="0.9" />
<text x="308.3" y="474.0" font-size="7.6" text-anchor="end" fill="#333" font-weight="normal"  stroke="#333" stroke-width="0.12">0</text>
<line x1="311.4" y1="444.34999999999997" x2="313.75" y2="444.34999999999997" stroke="#222" stroke-width="0.9" />
<text x="308.3" y="446.95" font-size="7.6" text-anchor="end" fill="#333" font-weight="normal"  stroke="#333" stroke-width="0.12">5</text>
<text x="308.3" y="420.0" font-size="7.6" text-anchor="end" fill="#333" font-weight="normal"  stroke="#333" stroke-width="0.12">10</text>
<text font-size="7.4" fill="#1a1a1a" stroke="#1a1a1a" stroke-width="0.3" text-anchor="middle" textLength="25.4" lengthAdjust="spacingAndGlyphs" transform="translate(281,426.1) rotate(-90)" x="0" y="0">%hCD45+</text>
<text font-size="7.6" fill="#1a1a1a" stroke="#1a1a1a" stroke-width="0.3" text-anchor="middle" textLength="58.8" lengthAdjust="spacingAndGlyphs" transform="translate(293.3,427.5) rotate(-90)" x="0" y="0">CD123+CD33+ cells</text>
<line x1="325.5" y1="471.25" x2="325.5" y2="473.8" stroke="#222" stroke-width="0.9" />
<text x="325.5" y="485.3" font-size="7.6" text-anchor="middle" fill="#222" font-weight="normal"  stroke="#222" stroke-width="0.12">D25</text>
<line x1="351.75" y1="471.25" x2="351.75" y2="473.8" stroke="#222" stroke-width="0.9" />
<text x="351.75" y="485.3" font-size="7.6" text-anchor="middle" fill="#222" font-weight="normal"  stroke="#222" stroke-width="0.12">D32</text>
<line x1="378" y1="471.25" x2="378" y2="473.8" stroke="#222" stroke-width="0.9" />
<text x="378" y="485.3" font-size="7.6" text-anchor="middle" fill="#222" font-weight="normal"  stroke="#222" stroke-width="0.12">D41</text>
<line x1="404.5" y1="471.25" x2="404.5" y2="473.8" stroke="#222" stroke-width="0.9" />
<text x="404.5" y="485.3" font-size="7.6" text-anchor="middle" fill="#222" font-weight="normal"  stroke="#222" stroke-width="0.12">D49</text>
<line x1="431.25" y1="471.25" x2="431.25" y2="473.8" stroke="#222" stroke-width="0.9" />
<text x="431.25" y="485.3" font-size="7.6" text-anchor="middle" fill="#222" font-weight="normal"  stroke="#222" stroke-width="0.12">D56</text>
<circle cx="322.30" cy="435.15" r="1.8" fill="#62a35c" stroke="#143a14" stroke-width="0.8"/>
<circle cx="320.80" cy="438.40" r="1.8" fill="#62a35c" stroke="#143a14" stroke-width="0.8"/>
<circle cx="319.60" cy="441.64" r="1.8" fill="#62a35c" stroke="#143a14" stroke-width="0.8"/>
<circle cx="321.80" cy="442.73" r="1.8" fill="#62a35c" stroke="#143a14" stroke-width="0.8"/>
<circle cx="320.30" cy="445.43" r="1.8" fill="#62a35c" stroke="#143a14" stroke-width="0.8"/>
<circle cx="321.30" cy="448.14" r="1.8" fill="#62a35c" stroke="#143a14" stroke-width="0.8"/>
<circle cx="319.80" cy="450.84" r="1.8" fill="#62a35c" stroke="#143a14" stroke-width="0.8"/>
<circle cx="346.30" cy="423.25" r="1.8" fill="#62a35c" stroke="#143a14" stroke-width="0.8"/>
<circle cx="348.30" cy="423.79" r="1.8" fill="#62a35c" stroke="#143a14" stroke-width="0.8"/>
<circle cx="348.30" cy="434.61" r="1.8" fill="#62a35c" stroke="#143a14" stroke-width="0.8"/>
<circle cx="346.30" cy="437.32" r="1.8" fill="#62a35c" stroke="#143a14" stroke-width="0.8"/>
<circle cx="346.50" cy="443.81" r="1.8" fill="#62a35c" stroke="#143a14" stroke-width="0.8"/>
<line x1="344.5" y1="429.202" x2="349.5" y2="429.202" stroke="#5aae52" stroke-width="0.8" />
<circle cx="373.60" cy="432.99" r="1.8" fill="#62a35c" stroke="#143a14" stroke-width="0.8"/>
<circle cx="372.60" cy="447.05" r="1.8" fill="#62a35c" stroke="#143a14" stroke-width="0.8"/>
<circle cx="375.10" cy="448.68" r="1.8" fill="#62a35c" stroke="#143a14" stroke-width="0.8"/>
<circle cx="373.60" cy="453.55" r="1.8" fill="#62a35c" stroke="#143a14" stroke-width="0.8"/>
<circle cx="398.40" cy="395.21" r="1.8" fill="#62a35c" stroke="#143a14" stroke-width="0.8"/>
<circle cx="401.80" cy="394.62" r="1.8" fill="#62a35c" stroke="#143a14" stroke-width="0.8"/>
<circle cx="399.50" cy="443.27" r="1.8" fill="#62a35c" stroke="#143a14" stroke-width="0.8"/>
<circle cx="398.70" cy="446.51" r="1.8" fill="#62a35c" stroke="#143a14" stroke-width="0.8"/>
<circle cx="401.00" cy="447.05" r="1.8" fill="#62a35c" stroke="#143a14" stroke-width="0.8"/>
<circle cx="399.50" cy="448.14" r="1.8" fill="#62a35c" stroke="#143a14" stroke-width="0.8"/>
<circle cx="329.00" cy="471.13" r="1.8" fill="#b52a3c" stroke="#4a0a14" stroke-width="0.8"/>
<circle cx="330.50" cy="471.13" r="1.8" fill="#b52a3c" stroke="#4a0a14" stroke-width="0.8"/>
<circle cx="332.00" cy="471.13" r="1.8" fill="#b52a3c" stroke="#4a0a14" stroke-width="0.8"/>
<circle cx="355.00" cy="471.13" r="1.8" fill="#b52a3c" stroke="#4a0a14" stroke-width="0.8"/>
<circle cx="356.50" cy="471.13" r="1.8" fill="#b52a3c" stroke="#4a0a14" stroke-width="0.8"/>
<circle cx="358.00" cy="471.13" r="1.8" fill="#b52a3c" stroke="#4a0a14" stroke-width="0.8"/>
<circle cx="382.30" cy="471.13" r="1.8" fill="#b52a3c" stroke="#4a0a14" stroke-width="0.8"/>
<circle cx="383.80" cy="471.13" r="1.8" fill="#b52a3c" stroke="#4a0a14" stroke-width="0.8"/>
<circle cx="385.30" cy="471.13" r="1.8" fill="#b52a3c" stroke="#4a0a14" stroke-width="0.8"/>
<circle cx="408.00" cy="471.13" r="1.8" fill="#b52a3c" stroke="#4a0a14" stroke-width="0.8"/>
<circle cx="409.50" cy="471.13" r="1.8" fill="#b52a3c" stroke="#4a0a14" stroke-width="0.8"/>
<circle cx="411.00" cy="471.13" r="1.8" fill="#b52a3c" stroke="#4a0a14" stroke-width="0.8"/>
<circle cx="436.30" cy="466.53" r="1.8" fill="#b52a3c" stroke="#4a0a14" stroke-width="0.8"/>
<circle cx="435.50" cy="470.86" r="1.8" fill="#b52a3c" stroke="#4a0a14" stroke-width="0.8"/>
<circle cx="437.50" cy="471.13" r="1.8" fill="#b52a3c" stroke="#4a0a14" stroke-width="0.8"/>
<text x="81.0" y="515.1" font-size="11.2" text-anchor="start" fill="#111" font-weight="bold"  stroke="#111" stroke-width="0.5">H</text>
<g filter="url(#bl2)">
<circle cx="135.11" cy="560.10" r="0.55" fill="#c4c4c4" stroke="none" stroke-width="0"/>
<circle cx="137.92" cy="561.37" r="0.55" fill="#c4c4c4" stroke="none" stroke-width="0"/>
<circle cx="143.21" cy="562.56" r="0.55" fill="#c4c4c4" stroke="none" stroke-width="0"/>
<circle cx="137.12" cy="560.83" r="0.55" fill="#c4c4c4" stroke="none" stroke-width="0"/>
<circle cx="142.20" cy="560.83" r="0.55" fill="#c4c4c4" stroke="none" stroke-width="0"/>
<circle cx="135.82" cy="564.50" r="0.55" fill="#c4c4c4" stroke="none" stroke-width="0"/>
<circle cx="143.55" cy="563.80" r="0.55" fill="#c4c4c4" stroke="none" stroke-width="0"/>
<circle cx="138.09" cy="561.10" r="0.55" fill="#c4c4c4" stroke="none" stroke-width="0"/>
<circle cx="148.01" cy="560.86" r="0.55" fill="#c4c4c4" stroke="none" stroke-width="0"/>
<circle cx="143.49" cy="559.72" r="0.55" fill="#c4c4c4" stroke="none" stroke-width="0"/>
<circle cx="154.09" cy="562.82" r="0.55" fill="#c4c4c4" stroke="none" stroke-width="0"/>
<circle cx="141.00" cy="561.29" r="0.55" fill="#c4c4c4" stroke="none" stroke-width="0"/>
<circle cx="138.08" cy="562.53" r="0.55" fill="#c4c4c4" stroke="none" stroke-width="0"/>
<circle cx="142.74" cy="559.95" r="0.55" fill="#c4c4c4" stroke="none" stroke-width="0"/>
<circle cx="145.36" cy="566.50" r="0.55" fill="#c4c4c4" stroke="none" stroke-width="0"/>
<circle cx="142.75" cy="559.73" r="0.55" fill="#c4c4c4" stroke="none" stroke-width="0"/>
<circle cx="140.09" cy="562.75" r="0.55" fill="#c4c4c4" stroke="none" stroke-width="0"/>
<circle cx="139.25" cy="558.28" r="0.55" fill="#c4c4c4" stroke="none" stroke-width="0"/>
<circle cx="149.54" cy="557.70" r="0.55" fill="#c4c4c4" stroke="none" stroke-width="0"/>
<circle cx="133.23" cy="560.60" r="0.55" fill="#c4c4c4" stroke="none" stroke-width="0"/>
<circle cx="142.57" cy="557.29" r="0.55" fill="#c4c4c4" stroke="none" stroke-width="0"/>
<circle cx="132.61" cy="561.60" r="0.55" fill="#c4c4c4" stroke="none" stroke-width="0"/>
<circle cx="139.57" cy="556.28" r="0.55" fill="#c4c4c4" stroke="none" stroke-width="0"/>
<circle cx="151.46" cy="564.19" r="0.55" fill="#c4c4c4" stroke="none" stroke-width="0"/>
<circle cx="153.22" cy="561.10" r="0.55" fill="#c4c4c4" stroke="none" stroke-width="0"/>
<circle cx="136.96" cy="559.67" r="0.55" fill="#c4c4c4" stroke="none" stroke-width="0"/>
<circle cx="150.60" cy="560.34" r="0.55" fill="#c4c4c4" stroke="none" stroke-width="0"/>
<circle cx="133.87" cy="562.90" r="0.55" fill="#c4c4c4" stroke="none" stroke-width="0"/>
<circle cx="148.72" cy="558.84" r="0.55" fill="#c4c4c4" stroke="none" stroke-width="0"/>
<circle cx="138.21" cy="562.66" r="0.55" fill="#c4c4c4" stroke="none" stroke-width="0"/>
<circle cx="133.72" cy="561.92" r="0.55" fill="#c4c4c4" stroke="none" stroke-width="0"/>
<circle cx="141.41" cy="563.11" r="0.55" fill="#c4c4c4" stroke="none" stroke-width="0"/>
<circle cx="137.44" cy="560.26" r="0.55" fill="#c4c4c4" stroke="none" stroke-width="0"/>
<circle cx="138.39" cy="564.48" r="0.55" fill="#c4c4c4" stroke="none" stroke-width="0"/>
<circle cx="147.13" cy="558.90" r="0.55" fill="#c4c4c4" stroke="none" stroke-width="0"/>
<circle cx="139.41" cy="561.48" r="0.55" fill="#c4c4c4" stroke="none" stroke-width="0"/>
<circle cx="141.88" cy="562.16" r="0.55" fill="#c4c4c4" stroke="none" stroke-width="0"/>
<circle cx="135.95" cy="559.67" r="0.55" fill="#c4c4c4" stroke="none" stroke-width="0"/>
<circle cx="154.48" cy="563.60" r="0.55" fill="#c4c4c4" stroke="none" stroke-width="0"/>
<circle cx="137.83" cy="564.79" r="0.55" fill="#c4c4c4" stroke="none" stroke-width="0"/>
<circle cx="150.97" cy="556.28" r="0.55" fill="#c4c4c4" stroke="none" stroke-width="0"/>
<circle cx="144.79" cy="563.22" r="0.55" fill="#c4c4c4" stroke="none" stroke-width="0"/>
<circle cx="143.74" cy="560.83" r="0.55" fill="#c4c4c4" stroke="none" stroke-width="0"/>
<circle cx="150.40" cy="561.83" r="0.55" fill="#c4c4c4" stroke="none" stroke-width="0"/>
<circle cx="129.51" cy="561.08" r="0.55" fill="#c4c4c4" stroke="none" stroke-width="0"/>
<circle cx="144.10" cy="558.29" r="0.55" fill="#c4c4c4" stroke="none" stroke-width="0"/>
<circle cx="150.24" cy="560.97" r="0.55" fill="#c4c4c4" stroke="none" stroke-width="0"/>
<circle cx="133.93" cy="560.64" r="0.55" fill="#c4c4c4" stroke="none" stroke-width="0"/>
<circle cx="138.66" cy="562.32" r="0.55" fill="#c4c4c4" stroke="none" stroke-width="0"/>
<circle cx="138.38" cy="559.85" r="0.55" fill="#c4c4c4" stroke="none" stroke-width="0"/>
<circle cx="151.54" cy="559.94" r="0.55" fill="#c4c4c4" stroke="none" stroke-width="0"/>
<circle cx="140.30" cy="560.84" r="0.55" fill="#c4c4c4" stroke="none" stroke-width="0"/>
<circle cx="138.72" cy="562.58" r="0.55" fill="#c4c4c4" stroke="none" stroke-width="0"/>
<circle cx="135.74" cy="559.92" r="0.55" fill="#c4c4c4" stroke="none" stroke-width="0"/>
<circle cx="154.29" cy="557.10" r="0.55" fill="#c4c4c4" stroke="none" stroke-width="0"/>
<circle cx="136.56" cy="561.20" r="0.55" fill="#c4c4c4" stroke="none" stroke-width="0"/>
<circle cx="128.83" cy="555.83" r="0.55" fill="#c4c4c4" stroke="none" stroke-width="0"/>
<circle cx="138.92" cy="563.25" r="0.55" fill="#c4c4c4" stroke="none" stroke-width="0"/>
<circle cx="144.48" cy="559.77" r="0.55" fill="#c4c4c4" stroke="none" stroke-width="0"/>
<circle cx="136.11" cy="566.54" r="0.55" fill="#c4c4c4" stroke="none" stroke-width="0"/>
<circle cx="146.31" cy="558.66" r="0.55" fill="#c4c4c4" stroke="none" stroke-width="0"/>
<circle cx="152.78" cy="563.99" r="0.55" fill="#c4c4c4" stroke="none" stroke-width="0"/>
<circle cx="138.90" cy="557.21" r="0.55" fill="#c4c4c4" stroke="none" stroke-width="0"/>
<circle cx="155.54" cy="560.72" r="0.55" fill="#c4c4c4" stroke="none" stroke-width="0"/>
<circle cx="139.92" cy="561.61" r="0.55" fill="#c4c4c4" stroke="none" stroke-width="0"/>
<circle cx="141.22" cy="563.55" r="0.55" fill="#c4c4c4" stroke="none" stroke-width="0"/>
<circle cx="139.13" cy="560.96" r="0.55" fill="#c4c4c4" stroke="none" stroke-width="0"/>
<circle cx="146.49" cy="563.83" r="0.55" fill="#c4c4c4" stroke="none" stroke-width="0"/>
<circle cx="138.53" cy="559.76" r="0.55" fill="#c4c4c4" stroke="none" stroke-width="0"/>
<circle cx="151.53" cy="560.88" r="0.55" fill="#c4c4c4" stroke="none" stroke-width="0"/>
<circle cx="148.96" cy="561.60" r="0.55" fill="#c4c4c4" stroke="none" stroke-width="0"/>
<circle cx="144.20" cy="559.17" r="0.55" fill="#c4c4c4" stroke="none" stroke-width="0"/>
<circle cx="142.81" cy="560.82" r="0.55" fill="#c4c4c4" stroke="none" stroke-width="0"/>
<circle cx="139.13" cy="564.98" r="0.55" fill="#c4c4c4" stroke="none" stroke-width="0"/>
<circle cx="135.36" cy="559.32" r="0.55" fill="#c4c4c4" stroke="none" stroke-width="0"/>
<circle cx="145.32" cy="563.44" r="0.55" fill="#c4c4c4" stroke="none" stroke-width="0"/>
<circle cx="138.54" cy="560.43" r="0.55" fill="#c4c4c4" stroke="none" stroke-width="0"/>
<circle cx="138.54" cy="558.84" r="0.55" fill="#c4c4c4" stroke="none" stroke-width="0"/>
<circle cx="150.84" cy="560.95" r="0.55" fill="#c4c4c4" stroke="none" stroke-width="0"/>
<circle cx="140.41" cy="561.59" r="0.55" fill="#c4c4c4" stroke="none" stroke-width="0"/>
<circle cx="148.60" cy="564.09" r="0.55" fill="#c4c4c4" stroke="none" stroke-width="0"/>
<circle cx="145.16" cy="561.63" r="0.55" fill="#c4c4c4" stroke="none" stroke-width="0"/>
<circle cx="146.49" cy="563.35" r="0.55" fill="#c4c4c4" stroke="none" stroke-width="0"/>
<circle cx="146.67" cy="558.28" r="0.55" fill="#c4c4c4" stroke="none" stroke-width="0"/>
<circle cx="143.75" cy="560.26" r="0.55" fill="#c4c4c4" stroke="none" stroke-width="0"/>
<circle cx="153.26" cy="561.30" r="0.55" fill="#c4c4c4" stroke="none" stroke-width="0"/>
<circle cx="138.80" cy="564.13" r="0.55" fill="#c4c4c4" stroke="none" stroke-width="0"/>
<circle cx="140.78" cy="562.07" r="0.55" fill="#c4c4c4" stroke="none" stroke-width="0"/>
<circle cx="142.71" cy="562.00" r="0.55" fill="#c4c4c4" stroke="none" stroke-width="0"/>
<circle cx="149.52" cy="559.35" r="0.55" fill="#c4c4c4" stroke="none" stroke-width="0"/>
</g>
<g filter="url(#bl2)">
<circle cx="126.45" cy="555.67" r="0.55" fill="#d0d0d0" stroke="none" stroke-width="0"/>
<circle cx="127.99" cy="553.66" r="0.55" fill="#d0d0d0" stroke="none" stroke-width="0"/>
<circle cx="133.09" cy="550.48" r="0.55" fill="#d0d0d0" stroke="none" stroke-width="0"/>
<circle cx="133.17" cy="552.19" r="0.55" fill="#d0d0d0" stroke="none" stroke-width="0"/>
<circle cx="126.79" cy="551.44" r="0.55" fill="#d0d0d0" stroke="none" stroke-width="0"/>
<circle cx="137.89" cy="554.89" r="0.55" fill="#d0d0d0" stroke="none" stroke-width="0"/>
<circle cx="131.13" cy="550.94" r="0.55" fill="#d0d0d0" stroke="none" stroke-width="0"/>
<circle cx="134.92" cy="549.72" r="0.55" fill="#d0d0d0" stroke="none" stroke-width="0"/>
<circle cx="127.20" cy="556.85" r="0.55" fill="#d0d0d0" stroke="none" stroke-width="0"/>
<circle cx="133.53" cy="552.13" r="0.55" fill="#d0d0d0" stroke="none" stroke-width="0"/>
<circle cx="131.84" cy="552.30" r="0.55" fill="#d0d0d0" stroke="none" stroke-width="0"/>
<circle cx="124.10" cy="556.05" r="0.55" fill="#d0d0d0" stroke="none" stroke-width="0"/>
<circle cx="129.61" cy="555.54" r="0.55" fill="#d0d0d0" stroke="none" stroke-width="0"/>
<circle cx="132.26" cy="550.56" r="0.55" fill="#d0d0d0" stroke="none" stroke-width="0"/>
<circle cx="129.79" cy="550.84" r="0.55" fill="#d0d0d0" stroke="none" stroke-width="0"/>
<circle cx="130.74" cy="555.51" r="0.55" fill="#d0d0d0" stroke="none" stroke-width="0"/>
<circle cx="133.14" cy="560.38" r="0.55" fill="#d0d0d0" stroke="none" stroke-width="0"/>
<circle cx="127.70" cy="556.73" r="0.55" fill="#d0d0d0" stroke="none" stroke-width="0"/>
<circle cx="132.71" cy="555.45" r="0.55" fill="#d0d0d0" stroke="none" stroke-width="0"/>
<circle cx="125.94" cy="555.01" r="0.55" fill="#d0d0d0" stroke="none" stroke-width="0"/>
<circle cx="130.88" cy="553.62" r="0.55" fill="#d0d0d0" stroke="none" stroke-width="0"/>
<circle cx="130.71" cy="550.52" r="0.55" fill="#d0d0d0" stroke="none" stroke-width="0"/>
<circle cx="129.08" cy="554.95" r="0.55" fill="#d0d0d0" stroke="none" stroke-width="0"/>
<circle cx="128.38" cy="555.16" r="0.55" fill="#d0d0d0" stroke="none" stroke-width="0"/>
<circle cx="134.77" cy="553.96" r="0.55" fill="#d0d0d0" stroke="none" stroke-width="0"/>
<circle cx="127.73" cy="554.47" r="0.55" fill="#d0d0d0" stroke="none" stroke-width="0"/>
<circle cx="128.52" cy="551.73" r="0.55" fill="#d0d0d0" stroke="none" stroke-width="0"/>
<circle cx="128.06" cy="558.65" r="0.55" fill="#d0d0d0" stroke="none" stroke-width="0"/>
<circle cx="132.01" cy="555.34" r="0.55" fill="#d0d0d0" stroke="none" stroke-width="0"/>
<circle cx="132.73" cy="548.35" r="0.55" fill="#d0d0d0" stroke="none" stroke-width="0"/>
</g>
<circle cx="133.56" cy="543.28" r="0.6" fill="#111" stroke="none" stroke-width="0"/>
<circle cx="131.48" cy="538.22" r="0.6" fill="#111" stroke="none" stroke-width="0"/>
<circle cx="134.05" cy="540.49" r="0.6" fill="#111" stroke="none" stroke-width="0"/>
<circle cx="135.50" cy="539.96" r="0.6" fill="#111" stroke="none" stroke-width="0"/>
<circle cx="132.48" cy="544.15" r="0.6" fill="#111" stroke="none" stroke-width="0"/>
<circle cx="135.30" cy="544.33" r="0.6" fill="#111" stroke="none" stroke-width="0"/>
<circle cx="131.55" cy="547.20" r="0.6" fill="#111" stroke="none" stroke-width="0"/>
<circle cx="129.47" cy="539.55" r="0.6" fill="#111" stroke="none" stroke-width="0"/>
<circle cx="132.10" cy="544.97" r="0.6" fill="#111" stroke="none" stroke-width="0"/>
<circle cx="133.47" cy="546.72" r="0.6" fill="#111" stroke="none" stroke-width="0"/>
<circle cx="134.67" cy="543.43" r="0.6" fill="#111" stroke="none" stroke-width="0"/>
<circle cx="129.63" cy="540.39" r="0.6" fill="#111" stroke="none" stroke-width="0"/>
<circle cx="132.42" cy="538.17" r="0.6" fill="#111" stroke="none" stroke-width="0"/>
<circle cx="129.80" cy="537.86" r="0.6" fill="#111" stroke="none" stroke-width="0"/>
<circle cx="130.85" cy="543.68" r="0.6" fill="#111" stroke="none" stroke-width="0"/>
<circle cx="133.66" cy="541.93" r="0.6" fill="#111" stroke="none" stroke-width="0"/>
<circle cx="133.62" cy="538.94" r="0.6" fill="#111" stroke="none" stroke-width="0"/>
<circle cx="131.22" cy="539.81" r="0.6" fill="#111" stroke="none" stroke-width="0"/>
<circle cx="129.28" cy="539.96" r="0.6" fill="#111" stroke="none" stroke-width="0"/>
<circle cx="129.40" cy="540.99" r="0.6" fill="#111" stroke="none" stroke-width="0"/>
<circle cx="134.45" cy="542.01" r="0.6" fill="#111" stroke="none" stroke-width="0"/>
<circle cx="132.24" cy="542.49" r="0.6" fill="#111" stroke="none" stroke-width="0"/>
<circle cx="131.48" cy="538.69" r="0.6" fill="#111" stroke="none" stroke-width="0"/>
<circle cx="126.43" cy="544.62" r="0.6" fill="#111" stroke="none" stroke-width="0"/>
<circle cx="133.00" cy="535.07" r="0.6" fill="#111" stroke="none" stroke-width="0"/>
<circle cx="133.06" cy="539.82" r="0.6" fill="#111" stroke="none" stroke-width="0"/>
<circle cx="131.87" cy="541.70" r="0.6" fill="#111" stroke="none" stroke-width="0"/>
<circle cx="130.04" cy="537.13" r="0.6" fill="#111" stroke="none" stroke-width="0"/>
<circle cx="130.10" cy="543.40" r="0.6" fill="#111" stroke="none" stroke-width="0"/>
<circle cx="129.40" cy="537.22" r="0.6" fill="#111" stroke="none" stroke-width="0"/>
<circle cx="132.06" cy="546.62" r="0.6" fill="#111" stroke="none" stroke-width="0"/>
<circle cx="129.39" cy="544.27" r="0.6" fill="#111" stroke="none" stroke-width="0"/>
<circle cx="132.64" cy="542.30" r="0.6" fill="#111" stroke="none" stroke-width="0"/>
<circle cx="136.30" cy="538.54" r="0.6" fill="#111" stroke="none" stroke-width="0"/>
<circle cx="131.79" cy="540.19" r="0.6" fill="#111" stroke="none" stroke-width="0"/>
<circle cx="133.79" cy="541.43" r="0.6" fill="#111" stroke="none" stroke-width="0"/>
<circle cx="132.84" cy="543.33" r="0.6" fill="#111" stroke="none" stroke-width="0"/>
<circle cx="131.36" cy="541.56" r="0.6" fill="#111" stroke="none" stroke-width="0"/>
<circle cx="130.35" cy="544.84" r="0.6" fill="#111" stroke="none" stroke-width="0"/>
<circle cx="134.54" cy="546.01" r="0.6" fill="#111" stroke="none" stroke-width="0"/>
<circle cx="127.55" cy="539.03" r="0.6" fill="#111" stroke="none" stroke-width="0"/>
<circle cx="131.90" cy="544.10" r="0.6" fill="#111" stroke="none" stroke-width="0"/>
<circle cx="130.85" cy="538.54" r="0.6" fill="#111" stroke="none" stroke-width="0"/>
<circle cx="137.88" cy="541.03" r="0.6" fill="#111" stroke="none" stroke-width="0"/>
<circle cx="132.42" cy="538.65" r="0.6" fill="#111" stroke="none" stroke-width="0"/>
<circle cx="137.86" cy="542.52" r="0.6" fill="#111" stroke="none" stroke-width="0"/>
<circle cx="131.25" cy="540.44" r="0.6" fill="#111" stroke="none" stroke-width="0"/>
<circle cx="132.05" cy="542.41" r="0.6" fill="#111" stroke="none" stroke-width="0"/>
<circle cx="132.55" cy="539.08" r="0.6" fill="#111" stroke="none" stroke-width="0"/>
<circle cx="136.43" cy="538.53" r="0.6" fill="#111" stroke="none" stroke-width="0"/>
<circle cx="136.09" cy="543.30" r="0.6" fill="#111" stroke="none" stroke-width="0"/>
<circle cx="127.96" cy="543.98" r="0.6" fill="#111" stroke="none" stroke-width="0"/>
<circle cx="133.20" cy="538.93" r="0.6" fill="#111" stroke="none" stroke-width="0"/>
<circle cx="138.33" cy="544.76" r="0.6" fill="#111" stroke="none" stroke-width="0"/>
<circle cx="125.65" cy="544.08" r="0.6" fill="#111" stroke="none" stroke-width="0"/>
<circle cx="130.18" cy="536.57" r="0.6" fill="#111" stroke="none" stroke-width="0"/>
<circle cx="134.10" cy="537.43" r="0.6" fill="#111" stroke="none" stroke-width="0"/>
<circle cx="131.01" cy="541.28" r="0.6" fill="#111" stroke="none" stroke-width="0"/>
<circle cx="130.95" cy="538.09" r="0.6" fill="#111" stroke="none" stroke-width="0"/>
<circle cx="124.91" cy="540.50" r="0.6" fill="#111" stroke="none" stroke-width="0"/>
<circle cx="135.65" cy="544.53" r="0.6" fill="#111" stroke="none" stroke-width="0"/>
<circle cx="136.65" cy="542.22" r="0.6" fill="#111" stroke="none" stroke-width="0"/>
<circle cx="132.83" cy="538.88" r="0.6" fill="#111" stroke="none" stroke-width="0"/>
<circle cx="124.16" cy="538.80" r="0.6" fill="#111" stroke="none" stroke-width="0"/>
<circle cx="129.48" cy="538.24" r="0.6" fill="#111" stroke="none" stroke-width="0"/>
<circle cx="132.00" cy="542.01" r="0.6" fill="#111" stroke="none" stroke-width="0"/>
<circle cx="130.00" cy="543.33" r="0.6" fill="#111" stroke="none" stroke-width="0"/>
<circle cx="132.80" cy="543.39" r="0.6" fill="#111" stroke="none" stroke-width="0"/>
<circle cx="135.18" cy="544.44" r="0.6" fill="#111" stroke="none" stroke-width="0"/>
<circle cx="130.90" cy="539.12" r="0.6" fill="#111" stroke="none" stroke-width="0"/>
<circle cx="132.19" cy="544.49" r="0.6" fill="#111" stroke="none" stroke-width="0"/>
<circle cx="125.16" cy="543.30" r="0.6" fill="#111" stroke="none" stroke-width="0"/>
<circle cx="130.44" cy="542.97" r="0.6" fill="#111" stroke="none" stroke-width="0"/>
<circle cx="133.28" cy="539.94" r="0.6" fill="#111" stroke="none" stroke-width="0"/>
<circle cx="129.42" cy="539.99" r="0.6" fill="#111" stroke="none" stroke-width="0"/>
<circle cx="133.56" cy="537.65" r="0.6" fill="#111" stroke="none" stroke-width="0"/>
<circle cx="132.12" cy="539.24" r="0.6" fill="#111" stroke="none" stroke-width="0"/>
<circle cx="129.90" cy="537.61" r="0.6" fill="#111" stroke="none" stroke-width="0"/>
<circle cx="126.87" cy="542.19" r="0.6" fill="#111" stroke="none" stroke-width="0"/>
<circle cx="132.75" cy="539.75" r="0.6" fill="#111" stroke="none" stroke-width="0"/>
<circle cx="131.28" cy="543.66" r="0.6" fill="#111" stroke="none" stroke-width="0"/>
<circle cx="132.30" cy="541.98" r="0.6" fill="#111" stroke="none" stroke-width="0"/>
<circle cx="131.60" cy="542.89" r="0.6" fill="#111" stroke="none" stroke-width="0"/>
<circle cx="130.99" cy="537.98" r="0.6" fill="#111" stroke="none" stroke-width="0"/>
<circle cx="134.08" cy="542.67" r="0.6" fill="#111" stroke="none" stroke-width="0"/>
<circle cx="129.11" cy="541.54" r="0.6" fill="#111" stroke="none" stroke-width="0"/>
<circle cx="132.59" cy="541.97" r="0.6" fill="#111" stroke="none" stroke-width="0"/>
<circle cx="141.63" cy="541.61" r="0.6" fill="#111" stroke="none" stroke-width="0"/>
<circle cx="132.00" cy="539.79" r="0.6" fill="#111" stroke="none" stroke-width="0"/>
<circle cx="130.22" cy="533.05" r="0.6" fill="#111" stroke="none" stroke-width="0"/>
<circle cx="130.63" cy="540.46" r="0.6" fill="#111" stroke="none" stroke-width="0"/>
<circle cx="128.70" cy="541.22" r="0.6" fill="#111" stroke="none" stroke-width="0"/>
<circle cx="133.43" cy="544.37" r="0.6" fill="#111" stroke="none" stroke-width="0"/>
<circle cx="138.95" cy="541.34" r="0.6" fill="#111" stroke="none" stroke-width="0"/>
<circle cx="129.32" cy="537.79" r="0.6" fill="#111" stroke="none" stroke-width="0"/>
<circle cx="136.14" cy="539.33" r="0.6" fill="#111" stroke="none" stroke-width="0"/>
<circle cx="131.98" cy="543.18" r="0.6" fill="#111" stroke="none" stroke-width="0"/>
<circle cx="132.47" cy="541.53" r="0.6" fill="#111" stroke="none" stroke-width="0"/>
<circle cx="132.91" cy="535.52" r="0.6" fill="#111" stroke="none" stroke-width="0"/>
<circle cx="131.43" cy="542.78" r="0.6" fill="#111" stroke="none" stroke-width="0"/>
<circle cx="128.12" cy="536.72" r="0.6" fill="#111" stroke="none" stroke-width="0"/>
<circle cx="133.69" cy="540.22" r="0.6" fill="#111" stroke="none" stroke-width="0"/>
<circle cx="133.26" cy="535.67" r="0.6" fill="#111" stroke="none" stroke-width="0"/>
<circle cx="131.87" cy="538.42" r="0.6" fill="#111" stroke="none" stroke-width="0"/>
<circle cx="134.32" cy="545.97" r="0.6" fill="#111" stroke="none" stroke-width="0"/>
<circle cx="130.73" cy="543.51" r="0.6" fill="#111" stroke="none" stroke-width="0"/>
<circle cx="129.18" cy="540.12" r="0.6" fill="#111" stroke="none" stroke-width="0"/>
<circle cx="133.12" cy="539.13" r="0.6" fill="#111" stroke="none" stroke-width="0"/>
<circle cx="135.88" cy="541.96" r="0.6" fill="#111" stroke="none" stroke-width="0"/>
<circle cx="128.02" cy="537.13" r="0.6" fill="#111" stroke="none" stroke-width="0"/>
<circle cx="130.15" cy="534.95" r="0.6" fill="#111" stroke="none" stroke-width="0"/>
<circle cx="135.41" cy="539.85" r="0.6" fill="#111" stroke="none" stroke-width="0"/>
<circle cx="130.19" cy="541.01" r="0.6" fill="#111" stroke="none" stroke-width="0"/>
<circle cx="130.75" cy="544.64" r="0.6" fill="#111" stroke="none" stroke-width="0"/>
<circle cx="136.14" cy="543.14" r="0.6" fill="#111" stroke="none" stroke-width="0"/>
<circle cx="133.73" cy="543.69" r="0.6" fill="#111" stroke="none" stroke-width="0"/>
<circle cx="133.32" cy="540.76" r="0.6" fill="#111" stroke="none" stroke-width="0"/>
<circle cx="135.23" cy="541.77" r="0.6" fill="#111" stroke="none" stroke-width="0"/>
<circle cx="133.80" cy="545.33" r="0.6" fill="#111" stroke="none" stroke-width="0"/>
<circle cx="137.94" cy="541.10" r="0.6" fill="#111" stroke="none" stroke-width="0"/>
<circle cx="135.35" cy="536.98" r="0.6" fill="#111" stroke="none" stroke-width="0"/>
<circle cx="129.74" cy="542.07" r="0.6" fill="#111" stroke="none" stroke-width="0"/>
<circle cx="130.04" cy="538.04" r="0.6" fill="#111" stroke="none" stroke-width="0"/>
<circle cx="129.52" cy="542.25" r="0.6" fill="#111" stroke="none" stroke-width="0"/>
<circle cx="127.74" cy="542.61" r="0.6" fill="#111" stroke="none" stroke-width="0"/>
<circle cx="135.09" cy="535.43" r="0.6" fill="#111" stroke="none" stroke-width="0"/>
<circle cx="133.33" cy="543.09" r="0.6" fill="#111" stroke="none" stroke-width="0"/>
<circle cx="128.26" cy="542.31" r="0.6" fill="#111" stroke="none" stroke-width="0"/>
<circle cx="130.82" cy="542.56" r="0.6" fill="#111" stroke="none" stroke-width="0"/>
<circle cx="134.36" cy="542.31" r="0.6" fill="#111" stroke="none" stroke-width="0"/>
<circle cx="123.99" cy="542.90" r="0.6" fill="#111" stroke="none" stroke-width="0"/>
<circle cx="137.21" cy="537.85" r="0.6" fill="#111" stroke="none" stroke-width="0"/>
<circle cx="139.82" cy="539.81" r="0.6" fill="#111" stroke="none" stroke-width="0"/>
<circle cx="127.87" cy="537.38" r="0.6" fill="#111" stroke="none" stroke-width="0"/>
<circle cx="136.33" cy="542.60" r="0.6" fill="#111" stroke="none" stroke-width="0"/>
<circle cx="129.99" cy="539.46" r="0.6" fill="#111" stroke="none" stroke-width="0"/>
<circle cx="125.09" cy="537.90" r="0.6" fill="#111" stroke="none" stroke-width="0"/>
<circle cx="127.56" cy="541.51" r="0.6" fill="#111" stroke="none" stroke-width="0"/>
<circle cx="131.13" cy="543.53" r="0.6" fill="#111" stroke="none" stroke-width="0"/>
<circle cx="132.55" cy="540.54" r="0.6" fill="#111" stroke="none" stroke-width="0"/>
<circle cx="133.75" cy="545.05" r="0.6" fill="#111" stroke="none" stroke-width="0"/>
<circle cx="130.76" cy="541.40" r="0.6" fill="#111" stroke="none" stroke-width="0"/>
<circle cx="130.41" cy="538.63" r="0.6" fill="#111" stroke="none" stroke-width="0"/>
<circle cx="129.19" cy="539.54" r="0.6" fill="#111" stroke="none" stroke-width="0"/>
<circle cx="128.07" cy="540.30" r="0.6" fill="#111" stroke="none" stroke-width="0"/>
<circle cx="130.79" cy="541.87" r="0.6" fill="#111" stroke="none" stroke-width="0"/>
<circle cx="134.75" cy="546.52" r="0.6" fill="#111" stroke="none" stroke-width="0"/>
<circle cx="130.56" cy="540.58" r="0.6" fill="#111" stroke="none" stroke-width="0"/>
<circle cx="133.54" cy="539.31" r="0.6" fill="#111" stroke="none" stroke-width="0"/>
<circle cx="135.15" cy="543.00" r="0.6" fill="#111" stroke="none" stroke-width="0"/>
<circle cx="131.97" cy="544.36" r="0.6" fill="#111" stroke="none" stroke-width="0"/>
<circle cx="129.90" cy="540.31" r="0.6" fill="#111" stroke="none" stroke-width="0"/>
<circle cx="130.64" cy="540.37" r="0.6" fill="#111" stroke="none" stroke-width="0"/>
<circle cx="127.88" cy="540.68" r="0.6" fill="#111" stroke="none" stroke-width="0"/>
<circle cx="134.78" cy="542.43" r="0.6" fill="#111" stroke="none" stroke-width="0"/>
<circle cx="134.99" cy="542.39" r="0.6" fill="#111" stroke="none" stroke-width="0"/>
<circle cx="134.56" cy="538.23" r="0.6" fill="#111" stroke="none" stroke-width="0"/>
<circle cx="130.85" cy="536.24" r="0.6" fill="#111" stroke="none" stroke-width="0"/>
<circle cx="139.12" cy="546.85" r="0.6" fill="#111" stroke="none" stroke-width="0"/>
<circle cx="131.74" cy="539.68" r="0.6" fill="#111" stroke="none" stroke-width="0"/>
<circle cx="133.49" cy="538.47" r="0.6" fill="#111" stroke="none" stroke-width="0"/>
<circle cx="135.74" cy="547.48" r="0.6" fill="#111" stroke="none" stroke-width="0"/>
<circle cx="127.06" cy="539.07" r="0.6" fill="#111" stroke="none" stroke-width="0"/>
<circle cx="135.50" cy="544.80" r="0.6" fill="#111" stroke="none" stroke-width="0"/>
<circle cx="134.13" cy="541.75" r="0.6" fill="#111" stroke="none" stroke-width="0"/>
<circle cx="131.62" cy="541.36" r="0.6" fill="#111" stroke="none" stroke-width="0"/>
<circle cx="130.22" cy="539.88" r="0.6" fill="#111" stroke="none" stroke-width="0"/>
<circle cx="130.50" cy="545.32" r="0.6" fill="#111" stroke="none" stroke-width="0"/>
<circle cx="126.19" cy="543.73" r="0.6" fill="#111" stroke="none" stroke-width="0"/>
<circle cx="127.45" cy="536.94" r="0.6" fill="#111" stroke="none" stroke-width="0"/>
<circle cx="125.61" cy="538.50" r="0.6" fill="#111" stroke="none" stroke-width="0"/>
<circle cx="133.29" cy="539.72" r="0.6" fill="#111" stroke="none" stroke-width="0"/>
<circle cx="131.92" cy="538.35" r="0.6" fill="#111" stroke="none" stroke-width="0"/>
<circle cx="132.40" cy="536.64" r="0.6" fill="#111" stroke="none" stroke-width="0"/>
<circle cx="132.73" cy="539.68" r="0.6" fill="#111" stroke="none" stroke-width="0"/>
<circle cx="128.46" cy="544.39" r="0.6" fill="#111" stroke="none" stroke-width="0"/>
<circle cx="136.70" cy="539.51" r="0.6" fill="#111" stroke="none" stroke-width="0"/>
<circle cx="136.06" cy="542.07" r="0.6" fill="#111" stroke="none" stroke-width="0"/>
<circle cx="135.17" cy="543.14" r="0.6" fill="#111" stroke="none" stroke-width="0"/>
<circle cx="132.50" cy="539.66" r="0.6" fill="#111" stroke="none" stroke-width="0"/>
<circle cx="136.15" cy="539.03" r="0.6" fill="#111" stroke="none" stroke-width="0"/>
<circle cx="131.94" cy="542.90" r="0.6" fill="#111" stroke="none" stroke-width="0"/>
<circle cx="126.41" cy="542.82" r="0.6" fill="#111" stroke="none" stroke-width="0"/>
<circle cx="130.67" cy="540.30" r="0.6" fill="#111" stroke="none" stroke-width="0"/>
<circle cx="133.49" cy="541.18" r="0.6" fill="#111" stroke="none" stroke-width="0"/>
<circle cx="132.62" cy="539.24" r="0.6" fill="#111" stroke="none" stroke-width="0"/>
<circle cx="129.58" cy="540.20" r="0.6" fill="#111" stroke="none" stroke-width="0"/>
<circle cx="130.83" cy="538.38" r="0.6" fill="#111" stroke="none" stroke-width="0"/>
<circle cx="135.90" cy="545.66" r="0.6" fill="#111" stroke="none" stroke-width="0"/>
<circle cx="127.40" cy="539.94" r="0.6" fill="#111" stroke="none" stroke-width="0"/>
<circle cx="134.70" cy="534.40" r="0.6" fill="#111" stroke="none" stroke-width="0"/>
<circle cx="134.83" cy="541.23" r="0.6" fill="#111" stroke="none" stroke-width="0"/>
<circle cx="134.13" cy="543.78" r="0.6" fill="#111" stroke="none" stroke-width="0"/>
<circle cx="135.89" cy="537.27" r="0.6" fill="#111" stroke="none" stroke-width="0"/>
<circle cx="133.92" cy="541.41" r="0.6" fill="#111" stroke="none" stroke-width="0"/>
<circle cx="133.95" cy="537.02" r="0.6" fill="#111" stroke="none" stroke-width="0"/>
<circle cx="129.25" cy="543.06" r="0.6" fill="#111" stroke="none" stroke-width="0"/>
<circle cx="135.26" cy="545.70" r="0.6" fill="#111" stroke="none" stroke-width="0"/>
<circle cx="127.06" cy="544.66" r="0.6" fill="#111" stroke="none" stroke-width="0"/>
<circle cx="131.06" cy="540.26" r="0.6" fill="#111" stroke="none" stroke-width="0"/>
<circle cx="130.97" cy="542.78" r="0.6" fill="#111" stroke="none" stroke-width="0"/>
<circle cx="135.25" cy="538.61" r="0.6" fill="#111" stroke="none" stroke-width="0"/>
<circle cx="133.82" cy="541.48" r="0.6" fill="#111" stroke="none" stroke-width="0"/>
<circle cx="129.76" cy="543.50" r="0.6" fill="#111" stroke="none" stroke-width="0"/>
<circle cx="129.28" cy="539.66" r="0.6" fill="#111" stroke="none" stroke-width="0"/>
<circle cx="131.79" cy="541.25" r="0.6" fill="#111" stroke="none" stroke-width="0"/>
<circle cx="129.54" cy="539.75" r="0.6" fill="#111" stroke="none" stroke-width="0"/>
<circle cx="135.41" cy="541.41" r="0.6" fill="#111" stroke="none" stroke-width="0"/>
<circle cx="132.94" cy="540.92" r="0.6" fill="#111" stroke="none" stroke-width="0"/>
<circle cx="134.81" cy="544.43" r="0.6" fill="#111" stroke="none" stroke-width="0"/>
<circle cx="131.65" cy="543.29" r="0.6" fill="#111" stroke="none" stroke-width="0"/>
<circle cx="129.58" cy="541.00" r="0.6" fill="#111" stroke="none" stroke-width="0"/>
<circle cx="128.55" cy="539.51" r="0.6" fill="#111" stroke="none" stroke-width="0"/>
<circle cx="141.31" cy="538.59" r="0.6" fill="#111" stroke="none" stroke-width="0"/>
<circle cx="135.88" cy="541.79" r="0.6" fill="#111" stroke="none" stroke-width="0"/>
<circle cx="132.82" cy="535.17" r="0.6" fill="#111" stroke="none" stroke-width="0"/>
<circle cx="132.67" cy="536.94" r="0.6" fill="#111" stroke="none" stroke-width="0"/>
<circle cx="130.05" cy="538.94" r="0.6" fill="#111" stroke="none" stroke-width="0"/>
<circle cx="130.91" cy="546.06" r="0.6" fill="#111" stroke="none" stroke-width="0"/>
<circle cx="137.11" cy="536.09" r="0.6" fill="#111" stroke="none" stroke-width="0"/>
<circle cx="130.90" cy="538.76" r="0.6" fill="#111" stroke="none" stroke-width="0"/>
<circle cx="132.43" cy="536.26" r="0.6" fill="#111" stroke="none" stroke-width="0"/>
<circle cx="127.60" cy="540.77" r="0.6" fill="#111" stroke="none" stroke-width="0"/>
<circle cx="129.69" cy="543.96" r="0.6" fill="#111" stroke="none" stroke-width="0"/>
<circle cx="131.09" cy="541.57" r="0.6" fill="#111" stroke="none" stroke-width="0"/>
<circle cx="130.57" cy="543.19" r="0.6" fill="#111" stroke="none" stroke-width="0"/>
<circle cx="135.54" cy="540.76" r="0.6" fill="#111" stroke="none" stroke-width="0"/>
<circle cx="130.44" cy="542.60" r="0.6" fill="#111" stroke="none" stroke-width="0"/>
<circle cx="132.27" cy="543.68" r="0.6" fill="#111" stroke="none" stroke-width="0"/>
<circle cx="132.25" cy="541.26" r="0.6" fill="#111" stroke="none" stroke-width="0"/>
<circle cx="134.35" cy="538.69" r="0.6" fill="#111" stroke="none" stroke-width="0"/>
<circle cx="128.21" cy="542.26" r="0.6" fill="#111" stroke="none" stroke-width="0"/>
<circle cx="131.39" cy="542.67" r="0.6" fill="#111" stroke="none" stroke-width="0"/>
<circle cx="134.40" cy="541.99" r="0.6" fill="#111" stroke="none" stroke-width="0"/>
<circle cx="130.21" cy="545.36" r="0.6" fill="#111" stroke="none" stroke-width="0"/>
<circle cx="125.08" cy="538.84" r="0.6" fill="#111" stroke="none" stroke-width="0"/>
<circle cx="128.24" cy="546.51" r="0.6" fill="#111" stroke="none" stroke-width="0"/>
<circle cx="130.90" cy="540.41" r="0.6" fill="#111" stroke="none" stroke-width="0"/>
<circle cx="133.77" cy="544.45" r="0.6" fill="#111" stroke="none" stroke-width="0"/>
<circle cx="134.90" cy="540.79" r="0.6" fill="#111" stroke="none" stroke-width="0"/>
<circle cx="132.50" cy="537.97" r="0.6" fill="#111" stroke="none" stroke-width="0"/>
<circle cx="132.79" cy="540.20" r="0.6" fill="#111" stroke="none" stroke-width="0"/>
<circle cx="125.39" cy="541.60" r="0.6" fill="#111" stroke="none" stroke-width="0"/>
<circle cx="131.61" cy="543.21" r="0.6" fill="#111" stroke="none" stroke-width="0"/>
<circle cx="133.84" cy="541.25" r="0.6" fill="#111" stroke="none" stroke-width="0"/>
<circle cx="131.45" cy="545.50" r="0.6" fill="#111" stroke="none" stroke-width="0"/>
<circle cx="132.62" cy="543.87" r="0.6" fill="#111" stroke="none" stroke-width="0"/>
<circle cx="133.29" cy="544.75" r="0.6" fill="#111" stroke="none" stroke-width="0"/>
<circle cx="134.94" cy="537.84" r="0.6" fill="#111" stroke="none" stroke-width="0"/>
<circle cx="133.66" cy="545.46" r="0.6" fill="#111" stroke="none" stroke-width="0"/>
<circle cx="136.09" cy="540.10" r="0.6" fill="#111" stroke="none" stroke-width="0"/>
<circle cx="136.96" cy="543.52" r="0.6" fill="#111" stroke="none" stroke-width="0"/>
<circle cx="134.01" cy="539.13" r="0.6" fill="#111" stroke="none" stroke-width="0"/>
<circle cx="133.31" cy="542.42" r="0.6" fill="#111" stroke="none" stroke-width="0"/>
<circle cx="125.84" cy="539.64" r="0.6" fill="#111" stroke="none" stroke-width="0"/>
<circle cx="127.52" cy="535.94" r="0.6" fill="#111" stroke="none" stroke-width="0"/>
<circle cx="132.65" cy="543.51" r="0.6" fill="#111" stroke="none" stroke-width="0"/>
<circle cx="131.98" cy="536.80" r="0.6" fill="#111" stroke="none" stroke-width="0"/>
<circle cx="128.13" cy="543.45" r="0.6" fill="#111" stroke="none" stroke-width="0"/>
<circle cx="131.44" cy="541.85" r="0.6" fill="#111" stroke="none" stroke-width="0"/>
<circle cx="131.19" cy="541.45" r="0.6" fill="#111" stroke="none" stroke-width="0"/>
<circle cx="130.04" cy="539.13" r="0.6" fill="#111" stroke="none" stroke-width="0"/>
<circle cx="127.82" cy="541.14" r="0.6" fill="#111" stroke="none" stroke-width="0"/>
<circle cx="131.85" cy="544.23" r="0.6" fill="#111" stroke="none" stroke-width="0"/>
<circle cx="139.04" cy="541.56" r="0.6" fill="#111" stroke="none" stroke-width="0"/>
<circle cx="123.56" cy="537.63" r="0.6" fill="#111" stroke="none" stroke-width="0"/>
<circle cx="136.01" cy="542.38" r="0.6" fill="#111" stroke="none" stroke-width="0"/>
<circle cx="131.55" cy="538.44" r="0.6" fill="#111" stroke="none" stroke-width="0"/>
<circle cx="133.50" cy="541.94" r="0.6" fill="#111" stroke="none" stroke-width="0"/>
<circle cx="135.31" cy="544.87" r="0.6" fill="#111" stroke="none" stroke-width="0"/>
<circle cx="136.80" cy="543.85" r="0.6" fill="#111" stroke="none" stroke-width="0"/>
<circle cx="128.58" cy="542.67" r="0.6" fill="#111" stroke="none" stroke-width="0"/>
<circle cx="128.65" cy="539.05" r="0.6" fill="#111" stroke="none" stroke-width="0"/>
<circle cx="129.69" cy="537.71" r="0.6" fill="#111" stroke="none" stroke-width="0"/>
<circle cx="129.52" cy="545.17" r="0.6" fill="#111" stroke="none" stroke-width="0"/>
<circle cx="131.76" cy="545.57" r="0.6" fill="#111" stroke="none" stroke-width="0"/>
<circle cx="132.45" cy="536.00" r="0.6" fill="#111" stroke="none" stroke-width="0"/>
<circle cx="130.06" cy="545.65" r="0.6" fill="#111" stroke="none" stroke-width="0"/>
<circle cx="135.37" cy="540.55" r="0.6" fill="#111" stroke="none" stroke-width="0"/>
<circle cx="131.33" cy="544.47" r="0.6" fill="#111" stroke="none" stroke-width="0"/>
<circle cx="133.54" cy="540.44" r="0.6" fill="#111" stroke="none" stroke-width="0"/>
<circle cx="135.52" cy="541.19" r="0.6" fill="#111" stroke="none" stroke-width="0"/>
<circle cx="129.00" cy="536.86" r="0.6" fill="#111" stroke="none" stroke-width="0"/>
<circle cx="125.92" cy="547.66" r="0.6" fill="#111" stroke="none" stroke-width="0"/>
<circle cx="132.71" cy="545.83" r="0.6" fill="#111" stroke="none" stroke-width="0"/>
<circle cx="132.62" cy="541.37" r="0.6" fill="#111" stroke="none" stroke-width="0"/>
<circle cx="132.73" cy="541.76" r="0.6" fill="#111" stroke="none" stroke-width="0"/>
<circle cx="128.05" cy="540.96" r="0.6" fill="#111" stroke="none" stroke-width="0"/>
<circle cx="135.05" cy="547.25" r="0.6" fill="#111" stroke="none" stroke-width="0"/>
<circle cx="130.83" cy="542.23" r="0.6" fill="#111" stroke="none" stroke-width="0"/>
<circle cx="134.23" cy="545.26" r="0.6" fill="#111" stroke="none" stroke-width="0"/>
<circle cx="133.62" cy="540.18" r="0.6" fill="#111" stroke="none" stroke-width="0"/>
<circle cx="137.29" cy="541.91" r="0.6" fill="#111" stroke="none" stroke-width="0"/>
<circle cx="132.41" cy="549.23" r="0.6" fill="#111" stroke="none" stroke-width="0"/>
<circle cx="127.59" cy="541.03" r="0.6" fill="#111" stroke="none" stroke-width="0"/>
<circle cx="128.89" cy="545.32" r="0.6" fill="#111" stroke="none" stroke-width="0"/>
<circle cx="129.34" cy="541.64" r="0.6" fill="#111" stroke="none" stroke-width="0"/>
<circle cx="133.22" cy="540.21" r="0.6" fill="#111" stroke="none" stroke-width="0"/>
<circle cx="131.88" cy="539.94" r="0.6" fill="#111" stroke="none" stroke-width="0"/>
<circle cx="130.08" cy="538.67" r="0.6" fill="#111" stroke="none" stroke-width="0"/>
<circle cx="136.46" cy="545.58" r="0.5" fill="#222" stroke="none" stroke-width="0"/>
<circle cx="134.11" cy="545.35" r="0.5" fill="#222" stroke="none" stroke-width="0"/>
<circle cx="140.21" cy="544.13" r="0.5" fill="#222" stroke="none" stroke-width="0"/>
<circle cx="135.01" cy="545.18" r="0.5" fill="#222" stroke="none" stroke-width="0"/>
<circle cx="135.98" cy="547.25" r="0.5" fill="#222" stroke="none" stroke-width="0"/>
<circle cx="134.67" cy="546.47" r="0.5" fill="#222" stroke="none" stroke-width="0"/>
<circle cx="136.98" cy="548.58" r="0.5" fill="#222" stroke="none" stroke-width="0"/>
<circle cx="134.95" cy="544.95" r="0.5" fill="#222" stroke="none" stroke-width="0"/>
<circle cx="137.40" cy="545.96" r="0.5" fill="#222" stroke="none" stroke-width="0"/>
<circle cx="134.94" cy="545.60" r="0.5" fill="#222" stroke="none" stroke-width="0"/>
<circle cx="138.63" cy="543.55" r="0.5" fill="#222" stroke="none" stroke-width="0"/>
<circle cx="135.64" cy="548.65" r="0.5" fill="#222" stroke="none" stroke-width="0"/>
<circle cx="136.72" cy="544.83" r="0.5" fill="#222" stroke="none" stroke-width="0"/>
<circle cx="134.87" cy="547.61" r="0.5" fill="#222" stroke="none" stroke-width="0"/>
<circle cx="136.92" cy="545.40" r="0.5" fill="#222" stroke="none" stroke-width="0"/>
<circle cx="134.89" cy="544.03" r="0.5" fill="#222" stroke="none" stroke-width="0"/>
<circle cx="133.48" cy="546.61" r="0.5" fill="#222" stroke="none" stroke-width="0"/>
<circle cx="137.02" cy="545.26" r="0.5" fill="#222" stroke="none" stroke-width="0"/>
<circle cx="137.41" cy="544.99" r="0.5" fill="#222" stroke="none" stroke-width="0"/>
<circle cx="136.74" cy="542.86" r="0.5" fill="#222" stroke="none" stroke-width="0"/>
<circle cx="137.65" cy="548.91" r="0.5" fill="#222" stroke="none" stroke-width="0"/>
<circle cx="137.68" cy="545.96" r="0.5" fill="#222" stroke="none" stroke-width="0"/>
<circle cx="136.96" cy="546.12" r="0.5" fill="#222" stroke="none" stroke-width="0"/>
<circle cx="136.27" cy="545.96" r="0.5" fill="#222" stroke="none" stroke-width="0"/>
<circle cx="136.97" cy="545.52" r="0.5" fill="#222" stroke="none" stroke-width="0"/>
<circle cx="135.92" cy="545.28" r="0.5" fill="#222" stroke="none" stroke-width="0"/>
<circle cx="137.48" cy="548.12" r="0.5" fill="#222" stroke="none" stroke-width="0"/>
<circle cx="137.54" cy="546.78" r="0.5" fill="#222" stroke="none" stroke-width="0"/>
<circle cx="138.77" cy="544.76" r="0.5" fill="#222" stroke="none" stroke-width="0"/>
<circle cx="140.12" cy="542.98" r="0.5" fill="#222" stroke="none" stroke-width="0"/>
<ellipse cx="132" cy="541" rx="4.2" ry="4.2" fill="#111"/>
<rect x="118.8" y="520.4" width="59.7" height="47.89999999999998" fill="none" stroke="#666" stroke-width="0.8" rx="0" />
<path d="M120.4,533 L132.4,528.4 L142.7,534.2 L138.5,547.5 L127.3,550.4 L120.4,541 Z" fill="none" stroke="#555" stroke-width="0.6"/>
<path d="M142,553.2 L167.7,546.5 L172,549 L175.4,564.8 L133,565.8 L131.5,561 L134,557 Z" fill="none" stroke="#555" stroke-width="0.6"/>
<text font-size="4.4" fill="#333" x="122" y="529">P3</text>
<text font-size="4.4" fill="#333" x="149" y="547.2">P4</text>
<line x1="118.8" y1="523.4" x2="120.1" y2="523.4" stroke="#666" stroke-width="0.45" />
<line x1="118.8" y1="525.4904761904762" x2="120.1" y2="525.4904761904762" stroke="#666" stroke-width="0.45" />
<line x1="118.8" y1="527.5809523809523" x2="120.1" y2="527.5809523809523" stroke="#666" stroke-width="0.45" />
<line x1="118.8" y1="529.6714285714286" x2="120.1" y2="529.6714285714286" stroke="#666" stroke-width="0.45" />
<line x1="118.8" y1="531.7619047619047" x2="120.1" y2="531.7619047619047" stroke="#666" stroke-width="0.45" />
<line x1="118.8" y1="533.8523809523809" x2="120.1" y2="533.8523809523809" stroke="#666" stroke-width="0.45" />
<line x1="118.8" y1="535.9428571428571" x2="120.1" y2="535.9428571428571" stroke="#666" stroke-width="0.45" />
<line x1="118.8" y1="538.0333333333333" x2="120.1" y2="538.0333333333333" stroke="#666" stroke-width="0.45" />
<line x1="118.8" y1="540.1238095238095" x2="120.1" y2="540.1238095238095" stroke="#666" stroke-width="0.45" />
<line x1="118.8" y1="542.2142857142857" x2="120.1" y2="542.2142857142857" stroke="#666" stroke-width="0.45" />
<line x1="118.8" y1="544.3047619047619" x2="120.1" y2="544.3047619047619" stroke="#666" stroke-width="0.45" />
<line x1="118.8" y1="546.395238095238" x2="120.1" y2="546.395238095238" stroke="#666" stroke-width="0.45" />
<line x1="118.8" y1="548.4857142857143" x2="120.1" y2="548.4857142857143" stroke="#666" stroke-width="0.45" />
<line x1="118.8" y1="550.5761904761904" x2="120.1" y2="550.5761904761904" stroke="#666" stroke-width="0.45" />
<line x1="118.8" y1="552.6666666666666" x2="120.1" y2="552.6666666666666" stroke="#666" stroke-width="0.45" />
<line x1="118.8" y1="554.7571428571429" x2="120.1" y2="554.7571428571429" stroke="#666" stroke-width="0.45" />
<line x1="118.8" y1="556.847619047619" x2="120.1" y2="556.847619047619" stroke="#666" stroke-width="0.45" />
<line x1="118.8" y1="558.9380952380952" x2="120.1" y2="558.9380952380952" stroke="#666" stroke-width="0.45" />
<line x1="118.8" y1="561.0285714285714" x2="120.1" y2="561.0285714285714" stroke="#666" stroke-width="0.45" />
<line x1="118.8" y1="563.1190476190476" x2="120.1" y2="563.1190476190476" stroke="#666" stroke-width="0.45" />
<line x1="118.8" y1="565.2095238095237" x2="120.1" y2="565.2095238095237" stroke="#666" stroke-width="0.45" />
<line x1="118.8" y1="567.3" x2="120.1" y2="567.3" stroke="#666" stroke-width="0.45" />
<line x1="120.8" y1="568.3" x2="120.8" y2="567.0" stroke="#666" stroke-width="0.45" />
<line x1="123.02799999999999" y1="568.3" x2="123.02799999999999" y2="567.0" stroke="#666" stroke-width="0.45" />
<line x1="125.256" y1="568.3" x2="125.256" y2="567.0" stroke="#666" stroke-width="0.45" />
<line x1="127.484" y1="568.3" x2="127.484" y2="567.0" stroke="#666" stroke-width="0.45" />
<line x1="129.712" y1="568.3" x2="129.712" y2="567.0" stroke="#666" stroke-width="0.45" />
<line x1="131.94" y1="568.3" x2="131.94" y2="567.0" stroke="#666" stroke-width="0.45" />
<line x1="134.168" y1="568.3" x2="134.168" y2="567.0" stroke="#666" stroke-width="0.45" />
<line x1="136.396" y1="568.3" x2="136.396" y2="567.0" stroke="#666" stroke-width="0.45" />
<line x1="138.624" y1="568.3" x2="138.624" y2="567.0" stroke="#666" stroke-width="0.45" />
<line x1="140.852" y1="568.3" x2="140.852" y2="567.0" stroke="#666" stroke-width="0.45" />
<line x1="143.07999999999998" y1="568.3" x2="143.07999999999998" y2="567.0" stroke="#666" stroke-width="0.45" />
<line x1="145.308" y1="568.3" x2="145.308" y2="567.0" stroke="#666" stroke-width="0.45" />
<line x1="147.536" y1="568.3" x2="147.536" y2="567.0" stroke="#666" stroke-width="0.45" />
<line x1="149.764" y1="568.3" x2="149.764" y2="567.0" stroke="#666" stroke-width="0.45" />
<line x1="151.992" y1="568.3" x2="151.992" y2="567.0" stroke="#666" stroke-width="0.45" />
<line x1="154.22" y1="568.3" x2="154.22" y2="567.0" stroke="#666" stroke-width="0.45" />
<line x1="156.448" y1="568.3" x2="156.448" y2="567.0" stroke="#666" stroke-width="0.45" />
<line x1="158.676" y1="568.3" x2="158.676" y2="567.0" stroke="#666" stroke-width="0.45" />
<line x1="160.904" y1="568.3" x2="160.904" y2="567.0" stroke="#666" stroke-width="0.45" />
<line x1="163.132" y1="568.3" x2="163.132" y2="567.0" stroke="#666" stroke-width="0.45" />
<line x1="165.36" y1="568.3" x2="165.36" y2="567.0" stroke="#666" stroke-width="0.45" />
<line x1="167.588" y1="568.3" x2="167.588" y2="567.0" stroke="#666" stroke-width="0.45" />
<line x1="169.816" y1="568.3" x2="169.816" y2="567.0" stroke="#666" stroke-width="0.45" />
<line x1="172.044" y1="568.3" x2="172.044" y2="567.0" stroke="#666" stroke-width="0.45" />
<line x1="174.272" y1="568.3" x2="174.272" y2="567.0" stroke="#666" stroke-width="0.45" />
<line x1="176.5" y1="568.3" x2="176.5" y2="567.0" stroke="#666" stroke-width="0.45" />
<line x1="117.0" y1="524.7" x2="118.8" y2="524.7" stroke="#333" stroke-width="0.7" />
<line x1="117.0" y1="535.8" x2="118.8" y2="535.8" stroke="#333" stroke-width="0.7" />
<line x1="117.0" y1="547.5" x2="118.8" y2="547.5" stroke="#333" stroke-width="0.7" />
<line x1="117.0" y1="556.2" x2="118.8" y2="556.2" stroke="#333" stroke-width="0.7" />
<line x1="117.0" y1="562.3" x2="118.8" y2="562.3" stroke="#333" stroke-width="0.7" />
<text font-size="5.9" text-anchor="end" fill="#222" stroke="#222" stroke-width="0.2" transform="translate(113.7,526.9000000000001) scale(1.0,1)" x="0" y="0">1<tspan dx="0.3">0</tspan><tspan font-size="3.54" dx="0.4" dy="-2.66">5</tspan></text>
<text font-size="5.9" text-anchor="end" fill="#222" stroke="#222" stroke-width="0.2" transform="translate(113.7,538.0) scale(1.0,1)" x="0" y="0">1<tspan dx="0.3">0</tspan><tspan font-size="3.54" dx="0.4" dy="-2.66">4</tspan></text>
<text font-size="5.9" text-anchor="end" fill="#222" stroke="#222" stroke-width="0.2" transform="translate(113.7,549.7) scale(1.0,1)" x="0" y="0">1<tspan dx="0.3">0</tspan><tspan font-size="3.54" dx="0.4" dy="-2.66">3</tspan></text>
<text font-size="5.9" text-anchor="end" fill="#222" stroke="#222" stroke-width="0.2" transform="translate(113.7,558.7) scale(1.0,1)" x="0" y="0">1<tspan dx="0.3">0</tspan><tspan font-size="3.54" dx="0.4" dy="-2.66">2</tspan></text>
<text font-size="5.9" text-anchor="end" fill="#222" stroke="#222" stroke-width="0.2" transform="translate(113.7,564.7)" x="0" y="0">0</text>
<text font-size="5.9" text-anchor="end" fill="#222" stroke="#222" stroke-width="0.2" transform="translate(113.7,570.3000000000001)" x="0" y="0">−139</text>
<text font-size="5.9" text-anchor="start" fill="#222" stroke="#222" stroke-width="0.2" transform="translate(117.8,578.7)" x="0" y="0">0</text>
<text font-size="5.9" text-anchor="start" fill="#222" stroke="#222" stroke-width="0.2" transform="translate(121.3,578.8000000000001) scale(1.0,1)" x="0" y="0">1<tspan dx="0.3">0</tspan><tspan font-size="3.54" dx="0.4" dy="-2.66">1</tspan></text>
<text font-size="5.9" text-anchor="start" fill="#222" stroke="#222" stroke-width="0.2" transform="translate(129.4,578.8000000000001) scale(1.0,1)" x="0" y="0">1<tspan dx="0.3">0</tspan><tspan font-size="3.54" dx="0.4" dy="-2.66">2</tspan></text>
<text font-size="5.9" text-anchor="start" fill="#222" stroke="#222" stroke-width="0.2" transform="translate(141,578.8000000000001) scale(1.0,1)" x="0" y="0">1<tspan dx="0.3">0</tspan><tspan font-size="3.54" dx="0.4" dy="-2.66">3</tspan></text>
<text font-size="5.9" text-anchor="start" fill="#222" stroke="#222" stroke-width="0.2" transform="translate(156.5,578.8000000000001) scale(1.0,1)" x="0" y="0">1<tspan dx="0.3">0</tspan><tspan font-size="3.54" dx="0.4" dy="-2.66">4</tspan></text>
<text font-size="5.9" text-anchor="start" fill="#222" stroke="#222" stroke-width="0.2" transform="translate(169.5,578.8000000000001) scale(1.0,1)" x="0" y="0">1<tspan dx="0.3">0</tspan><tspan font-size="3.54" dx="0.4" dy="-2.66">5</tspan></text>
<text font-size="8.2" fill="#111" stroke="#111" stroke-width="0.4" font-weight="normal" text-anchor="middle" textLength="19" lengthAdjust="spacingAndGlyphs" transform="translate(125.1,591.6)" x="0" y="0">hCD45</text>
<line x1="137.9" y1="588.9" x2="163.8" y2="588.9" stroke="#111" stroke-width="1.0" />
<path d="M162.8,585.9 L169.8,588.9 L162.8,591.9 Z" fill="#111"/>
<text font-size="8.2" fill="#111" stroke="#111" stroke-width="0.4" font-weight="normal" text-anchor="middle" textLength="21.3" lengthAdjust="spacingAndGlyphs" transform="translate(96.1,556.2) rotate(-90)" x="0" y="0">mCD45</text>
<line x1="93.1" y1="543" x2="93.1" y2="528.8" stroke="#111" stroke-width="1.0" />
<path d="M90.1,529.8 L93.1,522.8 L96.1,529.8 Z" fill="#111"/>
<g filter="url(#bl2)">
<circle cx="239.50" cy="559.23" r="0.55" fill="#c6c6c6" stroke="none" stroke-width="0"/>
<circle cx="238.40" cy="556.79" r="0.55" fill="#c6c6c6" stroke="none" stroke-width="0"/>
<circle cx="241.03" cy="559.42" r="0.55" fill="#c6c6c6" stroke="none" stroke-width="0"/>
<circle cx="237.43" cy="560.58" r="0.55" fill="#c6c6c6" stroke="none" stroke-width="0"/>
<circle cx="237.56" cy="559.18" r="0.55" fill="#c6c6c6" stroke="none" stroke-width="0"/>
<circle cx="240.05" cy="558.92" r="0.55" fill="#c6c6c6" stroke="none" stroke-width="0"/>
<circle cx="238.28" cy="558.47" r="0.55" fill="#c6c6c6" stroke="none" stroke-width="0"/>
<circle cx="235.11" cy="559.06" r="0.55" fill="#c6c6c6" stroke="none" stroke-width="0"/>
<circle cx="235.02" cy="559.41" r="0.55" fill="#c6c6c6" stroke="none" stroke-width="0"/>
<circle cx="236.22" cy="558.22" r="0.55" fill="#c6c6c6" stroke="none" stroke-width="0"/>
<circle cx="236.69" cy="557.24" r="0.55" fill="#c6c6c6" stroke="none" stroke-width="0"/>
<circle cx="239.49" cy="559.91" r="0.55" fill="#c6c6c6" stroke="none" stroke-width="0"/>
<circle cx="229.16" cy="559.08" r="0.55" fill="#c6c6c6" stroke="none" stroke-width="0"/>
<circle cx="235.57" cy="559.85" r="0.55" fill="#c6c6c6" stroke="none" stroke-width="0"/>
<circle cx="244.10" cy="558.37" r="0.55" fill="#c6c6c6" stroke="none" stroke-width="0"/>
<circle cx="236.67" cy="557.81" r="0.55" fill="#c6c6c6" stroke="none" stroke-width="0"/>
<circle cx="238.21" cy="560.06" r="0.55" fill="#c6c6c6" stroke="none" stroke-width="0"/>
<circle cx="237.94" cy="559.19" r="0.55" fill="#c6c6c6" stroke="none" stroke-width="0"/>
<circle cx="233.42" cy="558.92" r="0.55" fill="#c6c6c6" stroke="none" stroke-width="0"/>
<circle cx="233.89" cy="558.50" r="0.55" fill="#c6c6c6" stroke="none" stroke-width="0"/>
<circle cx="242.33" cy="559.15" r="0.55" fill="#c6c6c6" stroke="none" stroke-width="0"/>
<circle cx="234.49" cy="557.46" r="0.55" fill="#c6c6c6" stroke="none" stroke-width="0"/>
<circle cx="231.89" cy="558.31" r="0.55" fill="#c6c6c6" stroke="none" stroke-width="0"/>
<circle cx="244.08" cy="558.66" r="0.55" fill="#c6c6c6" stroke="none" stroke-width="0"/>
<circle cx="236.29" cy="557.52" r="0.55" fill="#c6c6c6" stroke="none" stroke-width="0"/>
<circle cx="235.48" cy="560.42" r="0.55" fill="#c6c6c6" stroke="none" stroke-width="0"/>
<circle cx="240.41" cy="558.75" r="0.55" fill="#c6c6c6" stroke="none" stroke-width="0"/>
<circle cx="234.30" cy="560.02" r="0.55" fill="#c6c6c6" stroke="none" stroke-width="0"/>
<circle cx="244.80" cy="563.20" r="0.55" fill="#c6c6c6" stroke="none" stroke-width="0"/>
<circle cx="241.79" cy="559.07" r="0.55" fill="#c6c6c6" stroke="none" stroke-width="0"/>
<circle cx="239.40" cy="558.49" r="0.55" fill="#c6c6c6" stroke="none" stroke-width="0"/>
<circle cx="234.39" cy="558.06" r="0.55" fill="#c6c6c6" stroke="none" stroke-width="0"/>
<circle cx="237.14" cy="560.00" r="0.55" fill="#c6c6c6" stroke="none" stroke-width="0"/>
<circle cx="242.02" cy="560.92" r="0.55" fill="#c6c6c6" stroke="none" stroke-width="0"/>
<circle cx="238.62" cy="555.79" r="0.55" fill="#c6c6c6" stroke="none" stroke-width="0"/>
</g>
<rect x="223.3" y="519.2" width="60.19999999999999" height="49.09999999999991" fill="none" stroke="#666" stroke-width="0.8" rx="0" />
<line x1="235.6" y1="519.2" x2="235.6" y2="568.3" stroke="#555" stroke-width="0.8" />
<line x1="223.3" y1="554.5" x2="283.5" y2="554.5" stroke="#555" stroke-width="0.8" />
<line x1="223.3" y1="522.2" x2="224.60000000000002" y2="522.2" stroke="#666" stroke-width="0.45" />
<line x1="223.3" y1="524.3476190476191" x2="224.60000000000002" y2="524.3476190476191" stroke="#666" stroke-width="0.45" />
<line x1="223.3" y1="526.4952380952382" x2="224.60000000000002" y2="526.4952380952382" stroke="#666" stroke-width="0.45" />
<line x1="223.3" y1="528.6428571428572" x2="224.60000000000002" y2="528.6428571428572" stroke="#666" stroke-width="0.45" />
<line x1="223.3" y1="530.7904761904762" x2="224.60000000000002" y2="530.7904761904762" stroke="#666" stroke-width="0.45" />
<line x1="223.3" y1="532.9380952380952" x2="224.60000000000002" y2="532.9380952380952" stroke="#666" stroke-width="0.45" />
<line x1="223.3" y1="535.0857142857143" x2="224.60000000000002" y2="535.0857142857143" stroke="#666" stroke-width="0.45" />
<line x1="223.3" y1="537.2333333333333" x2="224.60000000000002" y2="537.2333333333333" stroke="#666" stroke-width="0.45" />
<line x1="223.3" y1="539.3809523809524" x2="224.60000000000002" y2="539.3809523809524" stroke="#666" stroke-width="0.45" />
<line x1="223.3" y1="541.5285714285715" x2="224.60000000000002" y2="541.5285714285715" stroke="#666" stroke-width="0.45" />
<line x1="223.3" y1="543.6761904761905" x2="224.60000000000002" y2="543.6761904761905" stroke="#666" stroke-width="0.45" />
<line x1="223.3" y1="545.8238095238095" x2="224.60000000000002" y2="545.8238095238095" stroke="#666" stroke-width="0.45" />
<line x1="223.3" y1="547.9714285714285" x2="224.60000000000002" y2="547.9714285714285" stroke="#666" stroke-width="0.45" />
<line x1="223.3" y1="550.1190476190476" x2="224.60000000000002" y2="550.1190476190476" stroke="#666" stroke-width="0.45" />
<line x1="223.3" y1="552.2666666666667" x2="224.60000000000002" y2="552.2666666666667" stroke="#666" stroke-width="0.45" />
<line x1="223.3" y1="554.4142857142857" x2="224.60000000000002" y2="554.4142857142857" stroke="#666" stroke-width="0.45" />
<line x1="223.3" y1="556.5619047619048" x2="224.60000000000002" y2="556.5619047619048" stroke="#666" stroke-width="0.45" />
<line x1="223.3" y1="558.7095238095238" x2="224.60000000000002" y2="558.7095238095238" stroke="#666" stroke-width="0.45" />
<line x1="223.3" y1="560.8571428571428" x2="224.60000000000002" y2="560.8571428571428" stroke="#666" stroke-width="0.45" />
<line x1="223.3" y1="563.0047619047618" x2="224.60000000000002" y2="563.0047619047618" stroke="#666" stroke-width="0.45" />
<line x1="223.3" y1="565.1523809523809" x2="224.60000000000002" y2="565.1523809523809" stroke="#666" stroke-width="0.45" />
<line x1="223.3" y1="567.3" x2="224.60000000000002" y2="567.3" stroke="#666" stroke-width="0.45" />
<line x1="225.3" y1="568.3" x2="225.3" y2="567.0" stroke="#666" stroke-width="0.45" />
<line x1="227.548" y1="568.3" x2="227.548" y2="567.0" stroke="#666" stroke-width="0.45" />
<line x1="229.79600000000002" y1="568.3" x2="229.79600000000002" y2="567.0" stroke="#666" stroke-width="0.45" />
<line x1="232.044" y1="568.3" x2="232.044" y2="567.0" stroke="#666" stroke-width="0.45" />
<line x1="234.292" y1="568.3" x2="234.292" y2="567.0" stroke="#666" stroke-width="0.45" />
<line x1="236.54000000000002" y1="568.3" x2="236.54000000000002" y2="567.0" stroke="#666" stroke-width="0.45" />
<line x1="238.788" y1="568.3" x2="238.788" y2="567.0" stroke="#666" stroke-width="0.45" />
<line x1="241.036" y1="568.3" x2="241.036" y2="567.0" stroke="#666" stroke-width="0.45" />
<line x1="243.284" y1="568.3" x2="243.284" y2="567.0" stroke="#666" stroke-width="0.45" />
<line x1="245.532" y1="568.3" x2="245.532" y2="567.0" stroke="#666" stroke-width="0.45" />
<line x1="247.78" y1="568.3" x2="247.78" y2="567.0" stroke="#666" stroke-width="0.45" />
<line x1="250.02800000000002" y1="568.3" x2="250.02800000000002" y2="567.0" stroke="#666" stroke-width="0.45" />
<line x1="252.276" y1="568.3" x2="252.276" y2="567.0" stroke="#666" stroke-width="0.45" />
<line x1="254.524" y1="568.3" x2="254.524" y2="567.0" stroke="#666" stroke-width="0.45" />
<line x1="256.772" y1="568.3" x2="256.772" y2="567.0" stroke="#666" stroke-width="0.45" />
<line x1="259.02" y1="568.3" x2="259.02" y2="567.0" stroke="#666" stroke-width="0.45" />
<line x1="261.26800000000003" y1="568.3" x2="261.26800000000003" y2="567.0" stroke="#666" stroke-width="0.45" />
<line x1="263.516" y1="568.3" x2="263.516" y2="567.0" stroke="#666" stroke-width="0.45" />
<line x1="265.764" y1="568.3" x2="265.764" y2="567.0" stroke="#666" stroke-width="0.45" />
<line x1="268.012" y1="568.3" x2="268.012" y2="567.0" stroke="#666" stroke-width="0.45" />
<line x1="270.26" y1="568.3" x2="270.26" y2="567.0" stroke="#666" stroke-width="0.45" />
<line x1="272.508" y1="568.3" x2="272.508" y2="567.0" stroke="#666" stroke-width="0.45" />
<line x1="274.756" y1="568.3" x2="274.756" y2="567.0" stroke="#666" stroke-width="0.45" />
<line x1="277.004" y1="568.3" x2="277.004" y2="567.0" stroke="#666" stroke-width="0.45" />
<line x1="279.252" y1="568.3" x2="279.252" y2="567.0" stroke="#666" stroke-width="0.45" />
<line x1="281.5" y1="568.3" x2="281.5" y2="567.0" stroke="#666" stroke-width="0.45" />
<text font-size="4.6" fill="#444" stroke="#444" stroke-width="0.1" textLength="8" lengthAdjust="spacingAndGlyphs" x="224.60000000000002" y="527.0">Q1-1</text>
<text font-size="4.6" fill="#444" stroke="#444" stroke-width="0.1" textLength="8" lengthAdjust="spacingAndGlyphs" x="274.0" y="527.0">Q2-1</text>
<text font-size="4.6" fill="#444" stroke="#444" stroke-width="0.1" textLength="8" lengthAdjust="spacingAndGlyphs" x="224.60000000000002" y="565.8000000000001">Q3-1</text>
<text font-size="4.6" fill="#444" stroke="#444" stroke-width="0.1" textLength="8" lengthAdjust="spacingAndGlyphs" x="274.0" y="565.8000000000001">Q4-1</text>
<line x1="221.5" y1="524" x2="223.3" y2="524" stroke="#333" stroke-width="0.7" />
<line x1="221.5" y1="535.3" x2="223.3" y2="535.3" stroke="#333" stroke-width="0.7" />
<line x1="221.5" y1="545.7" x2="223.3" y2="545.7" stroke="#333" stroke-width="0.7" />
<line x1="221.5" y1="557" x2="223.3" y2="557" stroke="#333" stroke-width="0.7" />
<line x1="221.5" y1="562.6" x2="223.3" y2="562.6" stroke="#333" stroke-width="0.7" />
<text font-size="5.9" text-anchor="end" fill="#222" stroke="#222" stroke-width="0.2" transform="translate(218.8,526.2) scale(1.0,1)" x="0" y="0">1<tspan dx="0.3">0</tspan><tspan font-size="3.54" dx="0.4" dy="-2.66">5</tspan></text>
<text font-size="5.9" text-anchor="end" fill="#222" stroke="#222" stroke-width="0.2" transform="translate(218.8,537.5) scale(1.0,1)" x="0" y="0">1<tspan dx="0.3">0</tspan><tspan font-size="3.54" dx="0.4" dy="-2.66">4</tspan></text>
<text font-size="5.9" text-anchor="end" fill="#222" stroke="#222" stroke-width="0.2" transform="translate(218.8,547.9000000000001) scale(1.0,1)" x="0" y="0">1<tspan dx="0.3">0</tspan><tspan font-size="3.54" dx="0.4" dy="-2.66">3</tspan></text>
<text font-size="5.9" text-anchor="end" fill="#222" stroke="#222" stroke-width="0.2" transform="translate(218.8,559.2) scale(1.0,1)" x="0" y="0">1<tspan dx="0.3">0</tspan><tspan font-size="3.54" dx="0.4" dy="-2.66">2</tspan></text>
<text font-size="5.9" text-anchor="end" fill="#222" stroke="#222" stroke-width="0.2" transform="translate(218.8,564.7)" x="0" y="0">0</text>
<text font-size="5.9" text-anchor="end" fill="#222" stroke="#222" stroke-width="0.2" transform="translate(218.8,570.4)" x="0" y="0">−139</text>
<text font-size="5.9" text-anchor="start" fill="#222" stroke="#222" stroke-width="0.2" transform="translate(227.1,578.6) scale(1.0,1)" x="0" y="0">1<tspan dx="0.3">0</tspan><tspan font-size="3.54" dx="0.4" dy="-2.66">2</tspan></text>
<text font-size="5.9" text-anchor="start" fill="#222" stroke="#222" stroke-width="0.2" transform="translate(242.6,578.6) scale(1.0,1)" x="0" y="0">1<tspan dx="0.3">0</tspan><tspan font-size="3.54" dx="0.4" dy="-2.66">3</tspan></text>
<text font-size="5.9" text-anchor="start" fill="#222" stroke="#222" stroke-width="0.2" transform="translate(257.4,578.6) scale(1.0,1)" x="0" y="0">1<tspan dx="0.3">0</tspan><tspan font-size="3.54" dx="0.4" dy="-2.66">4</tspan></text>
<text font-size="5.9" text-anchor="start" fill="#222" stroke="#222" stroke-width="0.2" transform="translate(271.5,578.6) scale(1.0,1)" x="0" y="0">1<tspan dx="0.3">0</tspan><tspan font-size="3.54" dx="0.4" dy="-2.66">5</tspan></text>
<text font-size="8.2" fill="#111" stroke="#111" stroke-width="0.4" font-weight="normal" text-anchor="middle" textLength="14.8" lengthAdjust="spacingAndGlyphs" transform="translate(229.1,591.6)" x="0" y="0">CD33</text>
<line x1="242.6" y1="588.9" x2="268.9" y2="588.9" stroke="#111" stroke-width="1.0" />
<path d="M267.9,585.9 L274.9,588.9 L267.9,591.9 Z" fill="#111"/>
<text font-size="8.2" fill="#111" stroke="#111" stroke-width="0.4" font-weight="normal" text-anchor="middle" textLength="11.4" lengthAdjust="spacingAndGlyphs" transform="translate(198.5,564.8) rotate(-90)" x="0" y="0">CD3</text>
<line x1="195.8" y1="556" x2="195.8" y2="527.5" stroke="#111" stroke-width="1.0" />
<path d="M192.8,528.5 L195.8,521.5 L198.8,528.5 Z" fill="#111"/>
<text font-size="4.2" fill="#6a9ad0" x="218.6" y="572">M</text>
<g filter="url(#bl2)">
<circle cx="339.33" cy="559.25" r="0.55" fill="#c6c6c6" stroke="none" stroke-width="0"/>
<circle cx="328.75" cy="560.56" r="0.55" fill="#c6c6c6" stroke="none" stroke-width="0"/>
<circle cx="327.85" cy="558.08" r="0.55" fill="#c6c6c6" stroke="none" stroke-width="0"/>
<circle cx="332.21" cy="558.49" r="0.55" fill="#c6c6c6" stroke="none" stroke-width="0"/>
<circle cx="331.77" cy="555.37" r="0.55" fill="#c6c6c6" stroke="none" stroke-width="0"/>
<circle cx="325.32" cy="558.36" r="0.55" fill="#c6c6c6" stroke="none" stroke-width="0"/>
<circle cx="335.65" cy="558.46" r="0.55" fill="#c6c6c6" stroke="none" stroke-width="0"/>
<circle cx="326.34" cy="556.58" r="0.55" fill="#c6c6c6" stroke="none" stroke-width="0"/>
<circle cx="326.29" cy="560.24" r="0.55" fill="#c6c6c6" stroke="none" stroke-width="0"/>
<circle cx="327.21" cy="559.71" r="0.55" fill="#c6c6c6" stroke="none" stroke-width="0"/>
<circle cx="326.29" cy="556.93" r="0.55" fill="#c6c6c6" stroke="none" stroke-width="0"/>
<circle cx="328.92" cy="560.53" r="0.55" fill="#c6c6c6" stroke="none" stroke-width="0"/>
<circle cx="328.58" cy="558.20" r="0.55" fill="#c6c6c6" stroke="none" stroke-width="0"/>
<circle cx="329.02" cy="557.68" r="0.55" fill="#c6c6c6" stroke="none" stroke-width="0"/>
<circle cx="336.76" cy="557.52" r="0.55" fill="#c6c6c6" stroke="none" stroke-width="0"/>
<circle cx="330.92" cy="556.59" r="0.55" fill="#c6c6c6" stroke="none" stroke-width="0"/>
<circle cx="328.50" cy="558.67" r="0.55" fill="#c6c6c6" stroke="none" stroke-width="0"/>
<circle cx="339.18" cy="561.35" r="0.55" fill="#c6c6c6" stroke="none" stroke-width="0"/>
<circle cx="326.01" cy="558.15" r="0.55" fill="#c6c6c6" stroke="none" stroke-width="0"/>
<circle cx="322.98" cy="558.00" r="0.55" fill="#c6c6c6" stroke="none" stroke-width="0"/>
<circle cx="332.22" cy="559.48" r="0.55" fill="#c6c6c6" stroke="none" stroke-width="0"/>
<circle cx="334.42" cy="556.90" r="0.55" fill="#c6c6c6" stroke="none" stroke-width="0"/>
<circle cx="326.05" cy="556.18" r="0.55" fill="#c6c6c6" stroke="none" stroke-width="0"/>
<circle cx="339.91" cy="556.51" r="0.55" fill="#c6c6c6" stroke="none" stroke-width="0"/>
<circle cx="336.72" cy="558.92" r="0.55" fill="#c6c6c6" stroke="none" stroke-width="0"/>
<circle cx="336.55" cy="555.93" r="0.55" fill="#c6c6c6" stroke="none" stroke-width="0"/>
<circle cx="334.07" cy="559.15" r="0.55" fill="#c6c6c6" stroke="none" stroke-width="0"/>
<circle cx="331.98" cy="559.25" r="0.55" fill="#c6c6c6" stroke="none" stroke-width="0"/>
<circle cx="326.40" cy="560.76" r="0.55" fill="#c6c6c6" stroke="none" stroke-width="0"/>
<circle cx="326.56" cy="558.26" r="0.55" fill="#c6c6c6" stroke="none" stroke-width="0"/>
</g>
<rect x="318.3" y="519" width="59.0" height="49.200000000000045" fill="none" stroke="#666" stroke-width="0.8" rx="0" />
<line x1="331" y1="519" x2="331" y2="568.2" stroke="#555" stroke-width="0.8" />
<line x1="318.3" y1="553.8" x2="377.3" y2="553.8" stroke="#555" stroke-width="0.8" />
<line x1="318.3" y1="522.0" x2="319.6" y2="522.0" stroke="#666" stroke-width="0.45" />
<line x1="318.3" y1="524.152380952381" x2="319.6" y2="524.152380952381" stroke="#666" stroke-width="0.45" />
<line x1="318.3" y1="526.3047619047619" x2="319.6" y2="526.3047619047619" stroke="#666" stroke-width="0.45" />
<line x1="318.3" y1="528.4571428571429" x2="319.6" y2="528.4571428571429" stroke="#666" stroke-width="0.45" />
<line x1="318.3" y1="530.6095238095238" x2="319.6" y2="530.6095238095238" stroke="#666" stroke-width="0.45" />
<line x1="318.3" y1="532.7619047619048" x2="319.6" y2="532.7619047619048" stroke="#666" stroke-width="0.45" />
<line x1="318.3" y1="534.9142857142857" x2="319.6" y2="534.9142857142857" stroke="#666" stroke-width="0.45" />
<line x1="318.3" y1="537.0666666666667" x2="319.6" y2="537.0666666666667" stroke="#666" stroke-width="0.45" />
<line x1="318.3" y1="539.2190476190476" x2="319.6" y2="539.2190476190476" stroke="#666" stroke-width="0.45" />
<line x1="318.3" y1="541.3714285714286" x2="319.6" y2="541.3714285714286" stroke="#666" stroke-width="0.45" />
<line x1="318.3" y1="543.5238095238095" x2="319.6" y2="543.5238095238095" stroke="#666" stroke-width="0.45" />
<line x1="318.3" y1="545.6761904761905" x2="319.6" y2="545.6761904761905" stroke="#666" stroke-width="0.45" />
<line x1="318.3" y1="547.8285714285714" x2="319.6" y2="547.8285714285714" stroke="#666" stroke-width="0.45" />
<line x1="318.3" y1="549.9809523809524" x2="319.6" y2="549.9809523809524" stroke="#666" stroke-width="0.45" />
<line x1="318.3" y1="552.1333333333333" x2="319.6" y2="552.1333333333333" stroke="#666" stroke-width="0.45" />
<line x1="318.3" y1="554.2857142857143" x2="319.6" y2="554.2857142857143" stroke="#666" stroke-width="0.45" />
<line x1="318.3" y1="556.4380952380952" x2="319.6" y2="556.4380952380952" stroke="#666" stroke-width="0.45" />
<line x1="318.3" y1="558.5904761904762" x2="319.6" y2="558.5904761904762" stroke="#666" stroke-width="0.45" />
<line x1="318.3" y1="560.7428571428571" x2="319.6" y2="560.7428571428571" stroke="#666" stroke-width="0.45" />
<line x1="318.3" y1="562.8952380952381" x2="319.6" y2="562.8952380952381" stroke="#666" stroke-width="0.45" />
<line x1="318.3" y1="565.047619047619" x2="319.6" y2="565.047619047619" stroke="#666" stroke-width="0.45" />
<line x1="318.3" y1="567.2" x2="319.6" y2="567.2" stroke="#666" stroke-width="0.45" />
<line x1="320.3" y1="568.2" x2="320.3" y2="566.9000000000001" stroke="#666" stroke-width="0.45" />
<line x1="322.5" y1="568.2" x2="322.5" y2="566.9000000000001" stroke="#666" stroke-width="0.45" />
<line x1="324.7" y1="568.2" x2="324.7" y2="566.9000000000001" stroke="#666" stroke-width="0.45" />
<line x1="326.90000000000003" y1="568.2" x2="326.90000000000003" y2="566.9000000000001" stroke="#666" stroke-width="0.45" />
<line x1="329.1" y1="568.2" x2="329.1" y2="566.9000000000001" stroke="#666" stroke-width="0.45" />
<line x1="331.3" y1="568.2" x2="331.3" y2="566.9000000000001" stroke="#666" stroke-width="0.45" />
<line x1="333.5" y1="568.2" x2="333.5" y2="566.9000000000001" stroke="#666" stroke-width="0.45" />
<line x1="335.7" y1="568.2" x2="335.7" y2="566.9000000000001" stroke="#666" stroke-width="0.45" />
<line x1="337.90000000000003" y1="568.2" x2="337.90000000000003" y2="566.9000000000001" stroke="#666" stroke-width="0.45" />
<line x1="340.1" y1="568.2" x2="340.1" y2="566.9000000000001" stroke="#666" stroke-width="0.45" />
<line x1="342.3" y1="568.2" x2="342.3" y2="566.9000000000001" stroke="#666" stroke-width="0.45" />
<line x1="344.5" y1="568.2" x2="344.5" y2="566.9000000000001" stroke="#666" stroke-width="0.45" />
<line x1="346.7" y1="568.2" x2="346.7" y2="566.9000000000001" stroke="#666" stroke-width="0.45" />
<line x1="348.90000000000003" y1="568.2" x2="348.90000000000003" y2="566.9000000000001" stroke="#666" stroke-width="0.45" />
<line x1="351.1" y1="568.2" x2="351.1" y2="566.9000000000001" stroke="#666" stroke-width="0.45" />
<line x1="353.3" y1="568.2" x2="353.3" y2="566.9000000000001" stroke="#666" stroke-width="0.45" />
<line x1="355.5" y1="568.2" x2="355.5" y2="566.9000000000001" stroke="#666" stroke-width="0.45" />
<line x1="357.7" y1="568.2" x2="357.7" y2="566.9000000000001" stroke="#666" stroke-width="0.45" />
<line x1="359.90000000000003" y1="568.2" x2="359.90000000000003" y2="566.9000000000001" stroke="#666" stroke-width="0.45" />
<line x1="362.1" y1="568.2" x2="362.1" y2="566.9000000000001" stroke="#666" stroke-width="0.45" />
<line x1="364.3" y1="568.2" x2="364.3" y2="566.9000000000001" stroke="#666" stroke-width="0.45" />
<line x1="366.5" y1="568.2" x2="366.5" y2="566.9000000000001" stroke="#666" stroke-width="0.45" />
<line x1="368.7" y1="568.2" x2="368.7" y2="566.9000000000001" stroke="#666" stroke-width="0.45" />
<line x1="370.90000000000003" y1="568.2" x2="370.90000000000003" y2="566.9000000000001" stroke="#666" stroke-width="0.45" />
<line x1="373.1" y1="568.2" x2="373.1" y2="566.9000000000001" stroke="#666" stroke-width="0.45" />
<line x1="375.3" y1="568.2" x2="375.3" y2="566.9000000000001" stroke="#666" stroke-width="0.45" />
<text font-size="4.6" fill="#444" stroke="#444" stroke-width="0.1" textLength="8" lengthAdjust="spacingAndGlyphs" x="319.6" y="527.0">Q1-2</text>
<text font-size="4.6" fill="#444" stroke="#444" stroke-width="0.1" textLength="8" lengthAdjust="spacingAndGlyphs" x="367.8" y="527.0">Q2-2</text>
<text font-size="4.6" fill="#444" stroke="#444" stroke-width="0.1" textLength="8" lengthAdjust="spacingAndGlyphs" x="319.6" y="565.8000000000001">Q3-2</text>
<text font-size="4.6" fill="#444" stroke="#444" stroke-width="0.1" textLength="8" lengthAdjust="spacingAndGlyphs" x="367.8" y="565.8000000000001">Q4-2</text>
<line x1="316.5" y1="523" x2="318.3" y2="523" stroke="#333" stroke-width="0.7" />
<line x1="316.5" y1="534.5" x2="318.3" y2="534.5" stroke="#333" stroke-width="0.7" />
<line x1="316.5" y1="545.1" x2="318.3" y2="545.1" stroke="#333" stroke-width="0.7" />
<line x1="316.5" y1="557.4" x2="318.3" y2="557.4" stroke="#333" stroke-width="0.7" />
<line x1="316.5" y1="562.3" x2="318.3" y2="562.3" stroke="#333" stroke-width="0.7" />
<text font-size="5.9" text-anchor="end" fill="#222" stroke="#222" stroke-width="0.2" transform="translate(313.79999999999995,525.2) scale(1.0,1)" x="0" y="0">1<tspan dx="0.3">0</tspan><tspan font-size="3.54" dx="0.4" dy="-2.66">5</tspan></text>
<text font-size="5.9" text-anchor="end" fill="#222" stroke="#222" stroke-width="0.2" transform="translate(313.79999999999995,536.7) scale(1.0,1)" x="0" y="0">1<tspan dx="0.3">0</tspan><tspan font-size="3.54" dx="0.4" dy="-2.66">4</tspan></text>
<text font-size="5.9" text-anchor="end" fill="#222" stroke="#222" stroke-width="0.2" transform="translate(313.79999999999995,547.3000000000001) scale(1.0,1)" x="0" y="0">1<tspan dx="0.3">0</tspan><tspan font-size="3.54" dx="0.4" dy="-2.66">3</tspan></text>
<text font-size="5.9" text-anchor="end" fill="#222" stroke="#222" stroke-width="0.2" transform="translate(313.79999999999995,559.6) scale(1.0,1)" x="0" y="0">1<tspan dx="0.3">0</tspan><tspan font-size="3.54" dx="0.4" dy="-2.66">2</tspan></text>
<text font-size="5.9" text-anchor="end" fill="#222" stroke="#222" stroke-width="0.2" transform="translate(313.79999999999995,564.4)" x="0" y="0">0</text>
<text font-size="5.9" text-anchor="end" fill="#222" stroke="#222" stroke-width="0.2" transform="translate(313.79999999999995,570.1)" x="0" y="0">−139</text>
<text font-size="5.9" text-anchor="start" fill="#222" stroke="#222" stroke-width="0.2" transform="translate(305.7,578.5)" x="0" y="0">−103</text>
<text font-size="5.9" text-anchor="start" fill="#222" stroke="#222" stroke-width="0.2" transform="translate(323.3,578.5)" x="0" y="0">0</text>
<text font-size="5.9" text-anchor="start" fill="#222" stroke="#222" stroke-width="0.2" transform="translate(327,578.6) scale(1.0,1)" x="0" y="0">1<tspan dx="0.3">0</tspan><tspan font-size="3.54" dx="0.4" dy="-2.66">2</tspan></text>
<text font-size="5.9" text-anchor="start" fill="#222" stroke="#222" stroke-width="0.2" transform="translate(340,578.6) scale(1.0,1)" x="0" y="0">1<tspan dx="0.3">0</tspan><tspan font-size="3.54" dx="0.4" dy="-2.66">3</tspan></text>
<text font-size="5.9" text-anchor="start" fill="#222" stroke="#222" stroke-width="0.2" transform="translate(353.9,578.6) scale(1.0,1)" x="0" y="0">1<tspan dx="0.3">0</tspan><tspan font-size="3.54" dx="0.4" dy="-2.66">4</tspan></text>
<text font-size="5.9" text-anchor="start" fill="#222" stroke="#222" stroke-width="0.2" transform="translate(367.8,578.6) scale(1.0,1)" x="0" y="0">1<tspan dx="0.3">0</tspan><tspan font-size="3.54" dx="0.4" dy="-2.66">5</tspan></text>
<text font-size="8.2" fill="#111" stroke="#111" stroke-width="0.4" font-weight="normal" text-anchor="middle" textLength="18.8" lengthAdjust="spacingAndGlyphs" transform="translate(324.9,592)" x="0" y="0">CD123</text>
<line x1="338.4" y1="589.1" x2="365.1" y2="589.1" stroke="#111" stroke-width="1.0" />
<path d="M364.1,586.1 L371.1,589.1 L364.1,592.1 Z" fill="#111"/>
<text font-size="4.2" fill="#6a9ad0" x="313.6" y="572">M</text>
<g filter="url(#bl2)">
<circle cx="148.12" cy="653.36" r="0.55" fill="#d4d4d4" stroke="none" stroke-width="0"/>
<circle cx="152.24" cy="652.14" r="0.55" fill="#d4d4d4" stroke="none" stroke-width="0"/>
<circle cx="136.50" cy="652.99" r="0.55" fill="#d4d4d4" stroke="none" stroke-width="0"/>
<circle cx="146.02" cy="648.66" r="0.55" fill="#d4d4d4" stroke="none" stroke-width="0"/>
<circle cx="148.33" cy="654.89" r="0.55" fill="#d4d4d4" stroke="none" stroke-width="0"/>
<circle cx="138.12" cy="654.18" r="0.55" fill="#d4d4d4" stroke="none" stroke-width="0"/>
<circle cx="143.45" cy="654.31" r="0.55" fill="#d4d4d4" stroke="none" stroke-width="0"/>
<circle cx="139.85" cy="654.02" r="0.55" fill="#d4d4d4" stroke="none" stroke-width="0"/>
<circle cx="146.99" cy="652.36" r="0.55" fill="#d4d4d4" stroke="none" stroke-width="0"/>
<circle cx="141.13" cy="651.87" r="0.55" fill="#d4d4d4" stroke="none" stroke-width="0"/>
<circle cx="147.15" cy="655.35" r="0.55" fill="#d4d4d4" stroke="none" stroke-width="0"/>
<circle cx="142.18" cy="654.12" r="0.55" fill="#d4d4d4" stroke="none" stroke-width="0"/>
<circle cx="143.58" cy="656.36" r="0.55" fill="#d4d4d4" stroke="none" stroke-width="0"/>
<circle cx="150.17" cy="653.90" r="0.55" fill="#d4d4d4" stroke="none" stroke-width="0"/>
<circle cx="145.55" cy="651.06" r="0.55" fill="#d4d4d4" stroke="none" stroke-width="0"/>
<circle cx="133.58" cy="654.01" r="0.55" fill="#d4d4d4" stroke="none" stroke-width="0"/>
<circle cx="138.73" cy="650.77" r="0.55" fill="#d4d4d4" stroke="none" stroke-width="0"/>
<circle cx="149.24" cy="652.85" r="0.55" fill="#d4d4d4" stroke="none" stroke-width="0"/>
<circle cx="136.64" cy="654.77" r="0.55" fill="#d4d4d4" stroke="none" stroke-width="0"/>
<circle cx="141.28" cy="654.36" r="0.55" fill="#d4d4d4" stroke="none" stroke-width="0"/>
<circle cx="136.46" cy="648.98" r="0.55" fill="#d4d4d4" stroke="none" stroke-width="0"/>
<circle cx="139.45" cy="653.94" r="0.55" fill="#d4d4d4" stroke="none" stroke-width="0"/>
<circle cx="130.99" cy="649.82" r="0.55" fill="#d4d4d4" stroke="none" stroke-width="0"/>
<circle cx="148.74" cy="657.67" r="0.55" fill="#d4d4d4" stroke="none" stroke-width="0"/>
<circle cx="141.63" cy="650.14" r="0.55" fill="#d4d4d4" stroke="none" stroke-width="0"/>
</g>
<g filter="url(#bl2)">
<circle cx="126.19" cy="641.89" r="0.55" fill="#d0d0d0" stroke="none" stroke-width="0"/>
<circle cx="134.07" cy="646.37" r="0.55" fill="#d0d0d0" stroke="none" stroke-width="0"/>
<circle cx="124.45" cy="646.72" r="0.55" fill="#d0d0d0" stroke="none" stroke-width="0"/>
<circle cx="119.39" cy="644.34" r="0.55" fill="#d0d0d0" stroke="none" stroke-width="0"/>
<circle cx="128.04" cy="643.52" r="0.55" fill="#d0d0d0" stroke="none" stroke-width="0"/>
<circle cx="124.28" cy="642.36" r="0.55" fill="#d0d0d0" stroke="none" stroke-width="0"/>
<circle cx="120.56" cy="645.55" r="0.55" fill="#d0d0d0" stroke="none" stroke-width="0"/>
<circle cx="124.10" cy="645.93" r="0.55" fill="#d0d0d0" stroke="none" stroke-width="0"/>
<circle cx="131.32" cy="642.15" r="0.55" fill="#d0d0d0" stroke="none" stroke-width="0"/>
<circle cx="123.22" cy="644.40" r="0.55" fill="#d0d0d0" stroke="none" stroke-width="0"/>
<circle cx="130.69" cy="640.21" r="0.55" fill="#d0d0d0" stroke="none" stroke-width="0"/>
<circle cx="127.76" cy="641.16" r="0.55" fill="#d0d0d0" stroke="none" stroke-width="0"/>
<circle cx="133.84" cy="645.34" r="0.55" fill="#d0d0d0" stroke="none" stroke-width="0"/>
<circle cx="121.54" cy="642.49" r="0.55" fill="#d0d0d0" stroke="none" stroke-width="0"/>
<circle cx="128.25" cy="642.71" r="0.55" fill="#d0d0d0" stroke="none" stroke-width="0"/>
<circle cx="128.29" cy="645.38" r="0.55" fill="#d0d0d0" stroke="none" stroke-width="0"/>
<circle cx="128.76" cy="642.93" r="0.55" fill="#d0d0d0" stroke="none" stroke-width="0"/>
<circle cx="133.69" cy="646.84" r="0.55" fill="#d0d0d0" stroke="none" stroke-width="0"/>
<circle cx="126.76" cy="643.80" r="0.55" fill="#d0d0d0" stroke="none" stroke-width="0"/>
<circle cx="125.35" cy="639.91" r="0.55" fill="#d0d0d0" stroke="none" stroke-width="0"/>
<circle cx="126.67" cy="644.31" r="0.55" fill="#d0d0d0" stroke="none" stroke-width="0"/>
<circle cx="126.49" cy="641.29" r="0.55" fill="#d0d0d0" stroke="none" stroke-width="0"/>
<circle cx="115.77" cy="638.86" r="0.55" fill="#d0d0d0" stroke="none" stroke-width="0"/>
<circle cx="131.31" cy="638.65" r="0.55" fill="#d0d0d0" stroke="none" stroke-width="0"/>
<circle cx="130.20" cy="646.34" r="0.55" fill="#d0d0d0" stroke="none" stroke-width="0"/>
</g>
<ellipse cx="149.3" cy="652.2" rx="1.3" ry="2.2" fill="#8a8a8a" filter="url(#bl2)"/>
<circle cx="131.66" cy="632.16" r="0.6" fill="#111" stroke="none" stroke-width="0"/>
<circle cx="134.48" cy="632.03" r="0.6" fill="#111" stroke="none" stroke-width="0"/>
<circle cx="131.79" cy="634.71" r="0.6" fill="#111" stroke="none" stroke-width="0"/>
<circle cx="131.81" cy="637.94" r="0.6" fill="#111" stroke="none" stroke-width="0"/>
<circle cx="128.52" cy="631.01" r="0.6" fill="#111" stroke="none" stroke-width="0"/>
<circle cx="131.12" cy="632.65" r="0.6" fill="#111" stroke="none" stroke-width="0"/>
<circle cx="129.91" cy="637.68" r="0.6" fill="#111" stroke="none" stroke-width="0"/>
<circle cx="133.96" cy="626.79" r="0.6" fill="#111" stroke="none" stroke-width="0"/>
<circle cx="131.91" cy="634.15" r="0.6" fill="#111" stroke="none" stroke-width="0"/>
<circle cx="135.64" cy="633.36" r="0.6" fill="#111" stroke="none" stroke-width="0"/>
<circle cx="129.57" cy="634.51" r="0.6" fill="#111" stroke="none" stroke-width="0"/>
<circle cx="127.91" cy="632.47" r="0.6" fill="#111" stroke="none" stroke-width="0"/>
<circle cx="128.29" cy="636.10" r="0.6" fill="#111" stroke="none" stroke-width="0"/>
<circle cx="134.14" cy="638.39" r="0.6" fill="#111" stroke="none" stroke-width="0"/>
<circle cx="131.06" cy="631.88" r="0.6" fill="#111" stroke="none" stroke-width="0"/>
<circle cx="130.50" cy="635.49" r="0.6" fill="#111" stroke="none" stroke-width="0"/>
<circle cx="128.64" cy="634.23" r="0.6" fill="#111" stroke="none" stroke-width="0"/>
<circle cx="130.89" cy="634.28" r="0.6" fill="#111" stroke="none" stroke-width="0"/>
<circle cx="132.73" cy="629.89" r="0.6" fill="#111" stroke="none" stroke-width="0"/>
<circle cx="130.63" cy="627.14" r="0.6" fill="#111" stroke="none" stroke-width="0"/>
<circle cx="129.14" cy="630.45" r="0.6" fill="#111" stroke="none" stroke-width="0"/>
<circle cx="135.09" cy="630.95" r="0.6" fill="#111" stroke="none" stroke-width="0"/>
<circle cx="132.77" cy="631.51" r="0.6" fill="#111" stroke="none" stroke-width="0"/>
<circle cx="127.95" cy="633.88" r="0.6" fill="#111" stroke="none" stroke-width="0"/>
<circle cx="137.89" cy="633.95" r="0.6" fill="#111" stroke="none" stroke-width="0"/>
<circle cx="135.76" cy="633.91" r="0.6" fill="#111" stroke="none" stroke-width="0"/>
<circle cx="134.98" cy="638.14" r="0.6" fill="#111" stroke="none" stroke-width="0"/>
<circle cx="126.84" cy="630.25" r="0.6" fill="#111" stroke="none" stroke-width="0"/>
<circle cx="127.36" cy="632.25" r="0.6" fill="#111" stroke="none" stroke-width="0"/>
<circle cx="130.82" cy="630.04" r="0.6" fill="#111" stroke="none" stroke-width="0"/>
<circle cx="133.43" cy="637.57" r="0.6" fill="#111" stroke="none" stroke-width="0"/>
<circle cx="136.22" cy="637.34" r="0.6" fill="#111" stroke="none" stroke-width="0"/>
<circle cx="132.38" cy="633.49" r="0.6" fill="#111" stroke="none" stroke-width="0"/>
<circle cx="136.49" cy="635.06" r="0.6" fill="#111" stroke="none" stroke-width="0"/>
<circle cx="135.06" cy="631.29" r="0.6" fill="#111" stroke="none" stroke-width="0"/>
<circle cx="130.70" cy="630.32" r="0.6" fill="#111" stroke="none" stroke-width="0"/>
<circle cx="135.92" cy="629.74" r="0.6" fill="#111" stroke="none" stroke-width="0"/>
<circle cx="132.60" cy="633.02" r="0.6" fill="#111" stroke="none" stroke-width="0"/>
<circle cx="131.70" cy="631.40" r="0.6" fill="#111" stroke="none" stroke-width="0"/>
<circle cx="133.33" cy="630.13" r="0.6" fill="#111" stroke="none" stroke-width="0"/>
<circle cx="132.45" cy="636.01" r="0.6" fill="#111" stroke="none" stroke-width="0"/>
<circle cx="130.34" cy="635.58" r="0.6" fill="#111" stroke="none" stroke-width="0"/>
<circle cx="135.88" cy="637.46" r="0.6" fill="#111" stroke="none" stroke-width="0"/>
<circle cx="129.32" cy="637.17" r="0.6" fill="#111" stroke="none" stroke-width="0"/>
<circle cx="135.21" cy="636.44" r="0.6" fill="#111" stroke="none" stroke-width="0"/>
<circle cx="135.07" cy="631.84" r="0.6" fill="#111" stroke="none" stroke-width="0"/>
<circle cx="134.97" cy="632.78" r="0.6" fill="#111" stroke="none" stroke-width="0"/>
<circle cx="130.60" cy="630.60" r="0.6" fill="#111" stroke="none" stroke-width="0"/>
<circle cx="130.68" cy="631.84" r="0.6" fill="#111" stroke="none" stroke-width="0"/>
<circle cx="127.12" cy="633.24" r="0.6" fill="#111" stroke="none" stroke-width="0"/>
<circle cx="127.77" cy="634.06" r="0.6" fill="#111" stroke="none" stroke-width="0"/>
<circle cx="136.38" cy="635.79" r="0.6" fill="#111" stroke="none" stroke-width="0"/>
<circle cx="137.06" cy="636.76" r="0.6" fill="#111" stroke="none" stroke-width="0"/>
<circle cx="139.34" cy="632.03" r="0.6" fill="#111" stroke="none" stroke-width="0"/>
<circle cx="129.47" cy="631.80" r="0.6" fill="#111" stroke="none" stroke-width="0"/>
<circle cx="129.02" cy="636.14" r="0.6" fill="#111" stroke="none" stroke-width="0"/>
<circle cx="124.86" cy="632.34" r="0.6" fill="#111" stroke="none" stroke-width="0"/>
<circle cx="134.98" cy="634.04" r="0.6" fill="#111" stroke="none" stroke-width="0"/>
<circle cx="134.75" cy="629.25" r="0.6" fill="#111" stroke="none" stroke-width="0"/>
<circle cx="130.71" cy="631.88" r="0.6" fill="#111" stroke="none" stroke-width="0"/>
<circle cx="133.58" cy="633.97" r="0.6" fill="#111" stroke="none" stroke-width="0"/>
<circle cx="136.69" cy="628.71" r="0.6" fill="#111" stroke="none" stroke-width="0"/>
<circle cx="133.01" cy="638.73" r="0.6" fill="#111" stroke="none" stroke-width="0"/>
<circle cx="136.10" cy="632.99" r="0.6" fill="#111" stroke="none" stroke-width="0"/>
<circle cx="134.79" cy="631.66" r="0.6" fill="#111" stroke="none" stroke-width="0"/>
<circle cx="136.26" cy="630.75" r="0.6" fill="#111" stroke="none" stroke-width="0"/>
<circle cx="134.65" cy="633.01" r="0.6" fill="#111" stroke="none" stroke-width="0"/>
<circle cx="129.78" cy="632.88" r="0.6" fill="#111" stroke="none" stroke-width="0"/>
<circle cx="131.91" cy="630.38" r="0.6" fill="#111" stroke="none" stroke-width="0"/>
<circle cx="132.61" cy="629.83" r="0.6" fill="#111" stroke="none" stroke-width="0"/>
<circle cx="135.60" cy="633.77" r="0.6" fill="#111" stroke="none" stroke-width="0"/>
<circle cx="135.24" cy="634.28" r="0.6" fill="#111" stroke="none" stroke-width="0"/>
<circle cx="132.99" cy="628.41" r="0.6" fill="#111" stroke="none" stroke-width="0"/>
<circle cx="131.21" cy="632.38" r="0.6" fill="#111" stroke="none" stroke-width="0"/>
<circle cx="130.60" cy="632.09" r="0.6" fill="#111" stroke="none" stroke-width="0"/>
<circle cx="131.00" cy="630.97" r="0.6" fill="#111" stroke="none" stroke-width="0"/>
<circle cx="129.45" cy="630.93" r="0.6" fill="#111" stroke="none" stroke-width="0"/>
<circle cx="128.77" cy="635.23" r="0.6" fill="#111" stroke="none" stroke-width="0"/>
<circle cx="132.97" cy="633.72" r="0.6" fill="#111" stroke="none" stroke-width="0"/>
<circle cx="134.60" cy="631.27" r="0.6" fill="#111" stroke="none" stroke-width="0"/>
<circle cx="135.45" cy="627.27" r="0.6" fill="#111" stroke="none" stroke-width="0"/>
<circle cx="130.25" cy="632.40" r="0.6" fill="#111" stroke="none" stroke-width="0"/>
<circle cx="137.29" cy="635.52" r="0.6" fill="#111" stroke="none" stroke-width="0"/>
<circle cx="134.69" cy="634.48" r="0.6" fill="#111" stroke="none" stroke-width="0"/>
<circle cx="130.49" cy="631.87" r="0.6" fill="#111" stroke="none" stroke-width="0"/>
<circle cx="130.18" cy="632.55" r="0.6" fill="#111" stroke="none" stroke-width="0"/>
<circle cx="128.41" cy="631.44" r="0.6" fill="#111" stroke="none" stroke-width="0"/>
<circle cx="130.62" cy="633.63" r="0.6" fill="#111" stroke="none" stroke-width="0"/>
<circle cx="130.28" cy="633.31" r="0.6" fill="#111" stroke="none" stroke-width="0"/>
<circle cx="133.60" cy="633.74" r="0.6" fill="#111" stroke="none" stroke-width="0"/>
<circle cx="134.53" cy="629.73" r="0.6" fill="#111" stroke="none" stroke-width="0"/>
<circle cx="132.42" cy="631.88" r="0.6" fill="#111" stroke="none" stroke-width="0"/>
<circle cx="135.36" cy="631.03" r="0.6" fill="#111" stroke="none" stroke-width="0"/>
<circle cx="133.03" cy="628.55" r="0.6" fill="#111" stroke="none" stroke-width="0"/>
<circle cx="131.16" cy="630.26" r="0.6" fill="#111" stroke="none" stroke-width="0"/>
<circle cx="132.00" cy="630.52" r="0.6" fill="#111" stroke="none" stroke-width="0"/>
<circle cx="131.93" cy="632.92" r="0.6" fill="#111" stroke="none" stroke-width="0"/>
<circle cx="129.07" cy="634.38" r="0.6" fill="#111" stroke="none" stroke-width="0"/>
<circle cx="130.30" cy="638.09" r="0.6" fill="#111" stroke="none" stroke-width="0"/>
<circle cx="135.52" cy="634.13" r="0.6" fill="#111" stroke="none" stroke-width="0"/>
<circle cx="132.42" cy="636.08" r="0.6" fill="#111" stroke="none" stroke-width="0"/>
<circle cx="133.04" cy="627.74" r="0.6" fill="#111" stroke="none" stroke-width="0"/>
<circle cx="134.15" cy="633.03" r="0.6" fill="#111" stroke="none" stroke-width="0"/>
<circle cx="124.82" cy="627.37" r="0.6" fill="#111" stroke="none" stroke-width="0"/>
<circle cx="136.16" cy="633.23" r="0.6" fill="#111" stroke="none" stroke-width="0"/>
<circle cx="129.97" cy="627.23" r="0.6" fill="#111" stroke="none" stroke-width="0"/>
<circle cx="128.91" cy="636.63" r="0.6" fill="#111" stroke="none" stroke-width="0"/>
<circle cx="125.22" cy="633.75" r="0.6" fill="#111" stroke="none" stroke-width="0"/>
<circle cx="139.34" cy="632.67" r="0.6" fill="#111" stroke="none" stroke-width="0"/>
<circle cx="129.30" cy="633.76" r="0.6" fill="#111" stroke="none" stroke-width="0"/>
<circle cx="133.98" cy="633.34" r="0.6" fill="#111" stroke="none" stroke-width="0"/>
<circle cx="131.52" cy="627.85" r="0.6" fill="#111" stroke="none" stroke-width="0"/>
<circle cx="133.66" cy="634.37" r="0.6" fill="#111" stroke="none" stroke-width="0"/>
<circle cx="133.31" cy="633.69" r="0.6" fill="#111" stroke="none" stroke-width="0"/>
<circle cx="132.53" cy="634.75" r="0.6" fill="#111" stroke="none" stroke-width="0"/>
<circle cx="142.54" cy="630.70" r="0.6" fill="#111" stroke="none" stroke-width="0"/>
<circle cx="132.92" cy="629.00" r="0.6" fill="#111" stroke="none" stroke-width="0"/>
<circle cx="126.61" cy="632.28" r="0.6" fill="#111" stroke="none" stroke-width="0"/>
<circle cx="136.33" cy="629.56" r="0.6" fill="#111" stroke="none" stroke-width="0"/>
<circle cx="130.65" cy="630.74" r="0.6" fill="#111" stroke="none" stroke-width="0"/>
<circle cx="127.77" cy="628.23" r="0.6" fill="#111" stroke="none" stroke-width="0"/>
<circle cx="132.31" cy="630.96" r="0.6" fill="#111" stroke="none" stroke-width="0"/>
<circle cx="131.42" cy="629.57" r="0.6" fill="#111" stroke="none" stroke-width="0"/>
<circle cx="136.22" cy="638.62" r="0.6" fill="#111" stroke="none" stroke-width="0"/>
<circle cx="129.61" cy="627.96" r="0.6" fill="#111" stroke="none" stroke-width="0"/>
<circle cx="135.85" cy="636.28" r="0.6" fill="#111" stroke="none" stroke-width="0"/>
<circle cx="138.21" cy="629.78" r="0.6" fill="#111" stroke="none" stroke-width="0"/>
<circle cx="131.81" cy="626.72" r="0.6" fill="#111" stroke="none" stroke-width="0"/>
<circle cx="133.33" cy="628.53" r="0.6" fill="#111" stroke="none" stroke-width="0"/>
<circle cx="126.68" cy="634.34" r="0.6" fill="#111" stroke="none" stroke-width="0"/>
<circle cx="133.35" cy="626.47" r="0.6" fill="#111" stroke="none" stroke-width="0"/>
<circle cx="129.61" cy="639.24" r="0.6" fill="#111" stroke="none" stroke-width="0"/>
<circle cx="124.66" cy="630.82" r="0.6" fill="#111" stroke="none" stroke-width="0"/>
<circle cx="138.09" cy="637.27" r="0.6" fill="#111" stroke="none" stroke-width="0"/>
<circle cx="132.55" cy="630.05" r="0.6" fill="#111" stroke="none" stroke-width="0"/>
<circle cx="133.19" cy="630.41" r="0.6" fill="#111" stroke="none" stroke-width="0"/>
<circle cx="133.10" cy="635.24" r="0.6" fill="#111" stroke="none" stroke-width="0"/>
<circle cx="132.30" cy="635.57" r="0.6" fill="#111" stroke="none" stroke-width="0"/>
<circle cx="135.95" cy="629.79" r="0.6" fill="#111" stroke="none" stroke-width="0"/>
<circle cx="131.24" cy="629.40" r="0.6" fill="#111" stroke="none" stroke-width="0"/>
<circle cx="133.16" cy="627.16" r="0.6" fill="#111" stroke="none" stroke-width="0"/>
<circle cx="128.97" cy="625.89" r="0.6" fill="#111" stroke="none" stroke-width="0"/>
<circle cx="133.45" cy="629.57" r="0.6" fill="#111" stroke="none" stroke-width="0"/>
<circle cx="135.85" cy="634.39" r="0.6" fill="#111" stroke="none" stroke-width="0"/>
<circle cx="133.46" cy="629.94" r="0.6" fill="#111" stroke="none" stroke-width="0"/>
<circle cx="127.12" cy="629.10" r="0.6" fill="#111" stroke="none" stroke-width="0"/>
<circle cx="132.08" cy="631.93" r="0.6" fill="#111" stroke="none" stroke-width="0"/>
<circle cx="131.44" cy="632.24" r="0.6" fill="#111" stroke="none" stroke-width="0"/>
<circle cx="136.36" cy="635.60" r="0.6" fill="#111" stroke="none" stroke-width="0"/>
<circle cx="128.32" cy="634.13" r="0.6" fill="#111" stroke="none" stroke-width="0"/>
<circle cx="129.30" cy="632.89" r="0.6" fill="#111" stroke="none" stroke-width="0"/>
<circle cx="132.66" cy="634.84" r="0.6" fill="#111" stroke="none" stroke-width="0"/>
<circle cx="134.41" cy="628.86" r="0.6" fill="#111" stroke="none" stroke-width="0"/>
<circle cx="131.65" cy="633.40" r="0.6" fill="#111" stroke="none" stroke-width="0"/>
<circle cx="131.37" cy="636.67" r="0.6" fill="#111" stroke="none" stroke-width="0"/>
<circle cx="127.74" cy="633.72" r="0.6" fill="#111" stroke="none" stroke-width="0"/>
<circle cx="132.55" cy="630.82" r="0.6" fill="#111" stroke="none" stroke-width="0"/>
<circle cx="131.63" cy="631.43" r="0.6" fill="#111" stroke="none" stroke-width="0"/>
<circle cx="132.87" cy="630.54" r="0.6" fill="#111" stroke="none" stroke-width="0"/>
<circle cx="130.95" cy="639.43" r="0.6" fill="#111" stroke="none" stroke-width="0"/>
<circle cx="130.57" cy="633.77" r="0.6" fill="#111" stroke="none" stroke-width="0"/>
<circle cx="135.28" cy="629.66" r="0.6" fill="#111" stroke="none" stroke-width="0"/>
<circle cx="134.44" cy="630.40" r="0.6" fill="#111" stroke="none" stroke-width="0"/>
<circle cx="124.26" cy="632.21" r="0.6" fill="#111" stroke="none" stroke-width="0"/>
<circle cx="122.74" cy="631.83" r="0.6" fill="#111" stroke="none" stroke-width="0"/>
<circle cx="134.17" cy="637.27" r="0.6" fill="#111" stroke="none" stroke-width="0"/>
<circle cx="133.99" cy="635.22" r="0.6" fill="#111" stroke="none" stroke-width="0"/>
<circle cx="133.92" cy="632.20" r="0.6" fill="#111" stroke="none" stroke-width="0"/>
<circle cx="135.21" cy="631.12" r="0.6" fill="#111" stroke="none" stroke-width="0"/>
<circle cx="132.86" cy="630.15" r="0.6" fill="#111" stroke="none" stroke-width="0"/>
<circle cx="131.14" cy="633.27" r="0.6" fill="#111" stroke="none" stroke-width="0"/>
<circle cx="126.16" cy="630.32" r="0.6" fill="#111" stroke="none" stroke-width="0"/>
<circle cx="129.00" cy="631.95" r="0.6" fill="#111" stroke="none" stroke-width="0"/>
<circle cx="137.92" cy="629.54" r="0.6" fill="#111" stroke="none" stroke-width="0"/>
<circle cx="131.38" cy="631.20" r="0.6" fill="#111" stroke="none" stroke-width="0"/>
<circle cx="129.61" cy="629.99" r="0.6" fill="#111" stroke="none" stroke-width="0"/>
<circle cx="134.84" cy="631.48" r="0.6" fill="#111" stroke="none" stroke-width="0"/>
<circle cx="129.68" cy="628.72" r="0.6" fill="#111" stroke="none" stroke-width="0"/>
<circle cx="129.32" cy="634.68" r="0.6" fill="#111" stroke="none" stroke-width="0"/>
<circle cx="128.99" cy="626.54" r="0.6" fill="#111" stroke="none" stroke-width="0"/>
<circle cx="129.05" cy="632.23" r="0.6" fill="#111" stroke="none" stroke-width="0"/>
<circle cx="133.05" cy="632.05" r="0.6" fill="#111" stroke="none" stroke-width="0"/>
<circle cx="134.39" cy="628.41" r="0.6" fill="#111" stroke="none" stroke-width="0"/>
<circle cx="128.84" cy="631.08" r="0.6" fill="#111" stroke="none" stroke-width="0"/>
<circle cx="132.04" cy="626.09" r="0.6" fill="#111" stroke="none" stroke-width="0"/>
<circle cx="131.32" cy="627.41" r="0.6" fill="#111" stroke="none" stroke-width="0"/>
<circle cx="134.68" cy="632.76" r="0.6" fill="#111" stroke="none" stroke-width="0"/>
<circle cx="137.00" cy="637.64" r="0.6" fill="#111" stroke="none" stroke-width="0"/>
<circle cx="133.34" cy="631.18" r="0.6" fill="#111" stroke="none" stroke-width="0"/>
<circle cx="128.53" cy="630.21" r="0.6" fill="#111" stroke="none" stroke-width="0"/>
<circle cx="134.96" cy="633.04" r="0.6" fill="#111" stroke="none" stroke-width="0"/>
<circle cx="131.93" cy="628.05" r="0.6" fill="#111" stroke="none" stroke-width="0"/>
<circle cx="130.99" cy="637.02" r="0.6" fill="#111" stroke="none" stroke-width="0"/>
<circle cx="131.01" cy="635.71" r="0.6" fill="#111" stroke="none" stroke-width="0"/>
<circle cx="124.47" cy="636.03" r="0.6" fill="#111" stroke="none" stroke-width="0"/>
<circle cx="128.67" cy="627.98" r="0.6" fill="#111" stroke="none" stroke-width="0"/>
<circle cx="130.65" cy="629.66" r="0.6" fill="#111" stroke="none" stroke-width="0"/>
<circle cx="136.74" cy="631.15" r="0.6" fill="#111" stroke="none" stroke-width="0"/>
<circle cx="131.09" cy="630.02" r="0.6" fill="#111" stroke="none" stroke-width="0"/>
<circle cx="134.13" cy="635.43" r="0.6" fill="#111" stroke="none" stroke-width="0"/>
<circle cx="134.53" cy="627.62" r="0.6" fill="#111" stroke="none" stroke-width="0"/>
<circle cx="131.02" cy="633.50" r="0.6" fill="#111" stroke="none" stroke-width="0"/>
<circle cx="125.68" cy="631.60" r="0.6" fill="#111" stroke="none" stroke-width="0"/>
<circle cx="134.66" cy="636.24" r="0.6" fill="#111" stroke="none" stroke-width="0"/>
<circle cx="133.28" cy="634.40" r="0.6" fill="#111" stroke="none" stroke-width="0"/>
<circle cx="134.46" cy="633.00" r="0.6" fill="#111" stroke="none" stroke-width="0"/>
<circle cx="126.00" cy="637.28" r="0.6" fill="#111" stroke="none" stroke-width="0"/>
<circle cx="133.94" cy="631.76" r="0.6" fill="#111" stroke="none" stroke-width="0"/>
<circle cx="129.29" cy="638.68" r="0.6" fill="#111" stroke="none" stroke-width="0"/>
<circle cx="132.89" cy="634.61" r="0.6" fill="#111" stroke="none" stroke-width="0"/>
<circle cx="130.63" cy="632.73" r="0.6" fill="#111" stroke="none" stroke-width="0"/>
<circle cx="131.80" cy="635.10" r="0.6" fill="#111" stroke="none" stroke-width="0"/>
<circle cx="126.00" cy="637.12" r="0.6" fill="#111" stroke="none" stroke-width="0"/>
<circle cx="131.78" cy="634.15" r="0.6" fill="#111" stroke="none" stroke-width="0"/>
<circle cx="134.85" cy="630.48" r="0.6" fill="#111" stroke="none" stroke-width="0"/>
<circle cx="134.30" cy="628.67" r="0.6" fill="#111" stroke="none" stroke-width="0"/>
<circle cx="132.48" cy="629.72" r="0.6" fill="#111" stroke="none" stroke-width="0"/>
<circle cx="135.01" cy="636.18" r="0.6" fill="#111" stroke="none" stroke-width="0"/>
<circle cx="128.10" cy="632.89" r="0.6" fill="#111" stroke="none" stroke-width="0"/>
<circle cx="129.52" cy="627.94" r="0.6" fill="#111" stroke="none" stroke-width="0"/>
<circle cx="131.53" cy="634.92" r="0.6" fill="#111" stroke="none" stroke-width="0"/>
<circle cx="135.31" cy="630.44" r="0.6" fill="#111" stroke="none" stroke-width="0"/>
<circle cx="130.96" cy="636.17" r="0.6" fill="#111" stroke="none" stroke-width="0"/>
<circle cx="131.67" cy="637.17" r="0.6" fill="#111" stroke="none" stroke-width="0"/>
<circle cx="137.61" cy="633.59" r="0.6" fill="#111" stroke="none" stroke-width="0"/>
<circle cx="129.35" cy="631.10" r="0.6" fill="#111" stroke="none" stroke-width="0"/>
<circle cx="134.26" cy="631.36" r="0.6" fill="#111" stroke="none" stroke-width="0"/>
<circle cx="132.05" cy="633.30" r="0.6" fill="#111" stroke="none" stroke-width="0"/>
<circle cx="127.05" cy="630.74" r="0.6" fill="#111" stroke="none" stroke-width="0"/>
<circle cx="130.60" cy="629.51" r="0.6" fill="#111" stroke="none" stroke-width="0"/>
<circle cx="132.53" cy="630.88" r="0.6" fill="#111" stroke="none" stroke-width="0"/>
<circle cx="130.44" cy="636.11" r="0.6" fill="#111" stroke="none" stroke-width="0"/>
<circle cx="136.30" cy="631.36" r="0.6" fill="#111" stroke="none" stroke-width="0"/>
<circle cx="130.09" cy="627.52" r="0.6" fill="#111" stroke="none" stroke-width="0"/>
<circle cx="126.20" cy="636.44" r="0.6" fill="#111" stroke="none" stroke-width="0"/>
<circle cx="131.87" cy="629.55" r="0.6" fill="#111" stroke="none" stroke-width="0"/>
<circle cx="127.62" cy="635.48" r="0.6" fill="#111" stroke="none" stroke-width="0"/>
<circle cx="130.83" cy="633.71" r="0.6" fill="#111" stroke="none" stroke-width="0"/>
<circle cx="134.64" cy="629.62" r="0.6" fill="#111" stroke="none" stroke-width="0"/>
<circle cx="127.43" cy="631.63" r="0.6" fill="#111" stroke="none" stroke-width="0"/>
<circle cx="133.35" cy="631.30" r="0.6" fill="#111" stroke="none" stroke-width="0"/>
<circle cx="131.39" cy="633.11" r="0.6" fill="#111" stroke="none" stroke-width="0"/>
<circle cx="128.87" cy="633.98" r="0.6" fill="#111" stroke="none" stroke-width="0"/>
<circle cx="134.75" cy="628.75" r="0.6" fill="#111" stroke="none" stroke-width="0"/>
<circle cx="129.22" cy="630.81" r="0.6" fill="#111" stroke="none" stroke-width="0"/>
<circle cx="129.78" cy="631.16" r="0.6" fill="#111" stroke="none" stroke-width="0"/>
<circle cx="135.07" cy="627.97" r="0.6" fill="#111" stroke="none" stroke-width="0"/>
<circle cx="132.94" cy="630.79" r="0.6" fill="#111" stroke="none" stroke-width="0"/>
<circle cx="129.54" cy="627.92" r="0.6" fill="#111" stroke="none" stroke-width="0"/>
<circle cx="125.37" cy="632.18" r="0.6" fill="#111" stroke="none" stroke-width="0"/>
<circle cx="136.11" cy="629.36" r="0.6" fill="#111" stroke="none" stroke-width="0"/>
<circle cx="133.93" cy="628.41" r="0.6" fill="#111" stroke="none" stroke-width="0"/>
<circle cx="133.19" cy="631.14" r="0.6" fill="#111" stroke="none" stroke-width="0"/>
<circle cx="130.62" cy="627.86" r="0.6" fill="#111" stroke="none" stroke-width="0"/>
<circle cx="130.11" cy="630.69" r="0.6" fill="#111" stroke="none" stroke-width="0"/>
<circle cx="135.84" cy="633.82" r="0.6" fill="#111" stroke="none" stroke-width="0"/>
<circle cx="133.11" cy="630.13" r="0.6" fill="#111" stroke="none" stroke-width="0"/>
<circle cx="132.51" cy="634.21" r="0.6" fill="#111" stroke="none" stroke-width="0"/>
<circle cx="135.87" cy="634.62" r="0.6" fill="#111" stroke="none" stroke-width="0"/>
<circle cx="137.51" cy="631.38" r="0.6" fill="#111" stroke="none" stroke-width="0"/>
<circle cx="128.94" cy="635.67" r="0.6" fill="#111" stroke="none" stroke-width="0"/>
<circle cx="137.32" cy="634.63" r="0.6" fill="#111" stroke="none" stroke-width="0"/>
<circle cx="131.88" cy="632.41" r="0.6" fill="#111" stroke="none" stroke-width="0"/>
<circle cx="130.83" cy="631.05" r="0.6" fill="#111" stroke="none" stroke-width="0"/>
<circle cx="131.83" cy="633.20" r="0.6" fill="#111" stroke="none" stroke-width="0"/>
<circle cx="128.28" cy="633.43" r="0.6" fill="#111" stroke="none" stroke-width="0"/>
<circle cx="132.31" cy="631.43" r="0.6" fill="#111" stroke="none" stroke-width="0"/>
<circle cx="132.70" cy="630.96" r="0.6" fill="#111" stroke="none" stroke-width="0"/>
<circle cx="132.70" cy="636.23" r="0.6" fill="#111" stroke="none" stroke-width="0"/>
<circle cx="130.51" cy="634.39" r="0.6" fill="#111" stroke="none" stroke-width="0"/>
<circle cx="130.02" cy="631.35" r="0.6" fill="#111" stroke="none" stroke-width="0"/>
<circle cx="132.57" cy="630.29" r="0.6" fill="#111" stroke="none" stroke-width="0"/>
<circle cx="135.00" cy="627.74" r="0.6" fill="#111" stroke="none" stroke-width="0"/>
<circle cx="131.25" cy="632.03" r="0.6" fill="#111" stroke="none" stroke-width="0"/>
<circle cx="132.13" cy="631.52" r="0.6" fill="#111" stroke="none" stroke-width="0"/>
<circle cx="128.75" cy="632.11" r="0.6" fill="#111" stroke="none" stroke-width="0"/>
<circle cx="136.03" cy="633.78" r="0.6" fill="#111" stroke="none" stroke-width="0"/>
<circle cx="131.34" cy="628.40" r="0.6" fill="#111" stroke="none" stroke-width="0"/>
<circle cx="128.99" cy="634.24" r="0.6" fill="#111" stroke="none" stroke-width="0"/>
<circle cx="130.12" cy="631.10" r="0.6" fill="#111" stroke="none" stroke-width="0"/>
<circle cx="138.89" cy="625.13" r="0.6" fill="#111" stroke="none" stroke-width="0"/>
<circle cx="134.64" cy="625.23" r="0.6" fill="#111" stroke="none" stroke-width="0"/>
<circle cx="127.66" cy="639.66" r="0.6" fill="#111" stroke="none" stroke-width="0"/>
<circle cx="135.18" cy="633.63" r="0.6" fill="#111" stroke="none" stroke-width="0"/>
<circle cx="134.28" cy="634.58" r="0.6" fill="#111" stroke="none" stroke-width="0"/>
<circle cx="130.00" cy="628.05" r="0.6" fill="#111" stroke="none" stroke-width="0"/>
<circle cx="129.28" cy="632.95" r="0.6" fill="#111" stroke="none" stroke-width="0"/>
<circle cx="133.16" cy="634.94" r="0.6" fill="#111" stroke="none" stroke-width="0"/>
<circle cx="131.59" cy="634.07" r="0.6" fill="#111" stroke="none" stroke-width="0"/>
<circle cx="131.67" cy="628.72" r="0.6" fill="#111" stroke="none" stroke-width="0"/>
<circle cx="130.09" cy="632.92" r="0.6" fill="#111" stroke="none" stroke-width="0"/>
<circle cx="131.41" cy="630.36" r="0.6" fill="#111" stroke="none" stroke-width="0"/>
<circle cx="131.61" cy="635.90" r="0.6" fill="#111" stroke="none" stroke-width="0"/>
<circle cx="129.49" cy="624.77" r="0.6" fill="#111" stroke="none" stroke-width="0"/>
<circle cx="131.89" cy="625.14" r="0.6" fill="#111" stroke="none" stroke-width="0"/>
<circle cx="136.35" cy="629.96" r="0.6" fill="#111" stroke="none" stroke-width="0"/>
<circle cx="131.79" cy="631.18" r="0.6" fill="#111" stroke="none" stroke-width="0"/>
<circle cx="132.14" cy="632.65" r="0.6" fill="#111" stroke="none" stroke-width="0"/>
<circle cx="135.25" cy="628.69" r="0.6" fill="#111" stroke="none" stroke-width="0"/>
<circle cx="130.34" cy="630.54" r="0.6" fill="#111" stroke="none" stroke-width="0"/>
<circle cx="135.26" cy="637.95" r="0.5" fill="#222" stroke="none" stroke-width="0"/>
<circle cx="131.84" cy="633.55" r="0.5" fill="#222" stroke="none" stroke-width="0"/>
<circle cx="135.79" cy="637.65" r="0.5" fill="#222" stroke="none" stroke-width="0"/>
<circle cx="136.85" cy="638.54" r="0.5" fill="#222" stroke="none" stroke-width="0"/>
<circle cx="138.91" cy="635.49" r="0.5" fill="#222" stroke="none" stroke-width="0"/>
<circle cx="135.11" cy="637.41" r="0.5" fill="#222" stroke="none" stroke-width="0"/>
<circle cx="136.91" cy="637.77" r="0.5" fill="#222" stroke="none" stroke-width="0"/>
<circle cx="136.39" cy="635.42" r="0.5" fill="#222" stroke="none" stroke-width="0"/>
<circle cx="140.40" cy="636.99" r="0.5" fill="#222" stroke="none" stroke-width="0"/>
<circle cx="136.63" cy="635.45" r="0.5" fill="#222" stroke="none" stroke-width="0"/>
<circle cx="136.46" cy="636.45" r="0.5" fill="#222" stroke="none" stroke-width="0"/>
<circle cx="138.00" cy="638.50" r="0.5" fill="#222" stroke="none" stroke-width="0"/>
<circle cx="134.63" cy="637.15" r="0.5" fill="#222" stroke="none" stroke-width="0"/>
<circle cx="135.99" cy="637.53" r="0.5" fill="#222" stroke="none" stroke-width="0"/>
<circle cx="138.65" cy="635.84" r="0.5" fill="#222" stroke="none" stroke-width="0"/>
<circle cx="141.29" cy="635.69" r="0.5" fill="#222" stroke="none" stroke-width="0"/>
<circle cx="133.01" cy="638.21" r="0.5" fill="#222" stroke="none" stroke-width="0"/>
<circle cx="133.27" cy="639.15" r="0.5" fill="#222" stroke="none" stroke-width="0"/>
<circle cx="136.58" cy="636.48" r="0.5" fill="#222" stroke="none" stroke-width="0"/>
<circle cx="137.38" cy="637.29" r="0.5" fill="#222" stroke="none" stroke-width="0"/>
<circle cx="134.32" cy="636.40" r="0.5" fill="#222" stroke="none" stroke-width="0"/>
<circle cx="139.76" cy="637.37" r="0.5" fill="#222" stroke="none" stroke-width="0"/>
<circle cx="136.50" cy="635.46" r="0.5" fill="#222" stroke="none" stroke-width="0"/>
<circle cx="140.04" cy="638.10" r="0.5" fill="#222" stroke="none" stroke-width="0"/>
<circle cx="135.25" cy="637.07" r="0.5" fill="#222" stroke="none" stroke-width="0"/>
<circle cx="134.75" cy="639.21" r="0.5" fill="#222" stroke="none" stroke-width="0"/>
<circle cx="137.73" cy="635.98" r="0.5" fill="#222" stroke="none" stroke-width="0"/>
<circle cx="135.13" cy="636.37" r="0.5" fill="#222" stroke="none" stroke-width="0"/>
<circle cx="136.18" cy="640.67" r="0.5" fill="#222" stroke="none" stroke-width="0"/>
<circle cx="135.31" cy="637.70" r="0.5" fill="#222" stroke="none" stroke-width="0"/>
<ellipse cx="132" cy="632.2" rx="4.2" ry="4.2" fill="#111"/>
<rect x="118.8" y="611.6" width="59.7" height="47.89999999999998" fill="none" stroke="#666" stroke-width="0.8" rx="0" />
<path d="M120.4,624.2 L132.4,619.6 L142.7,625.4000000000001 L138.5,638.7 L127.3,641.6 L120.4,632.2 Z" fill="none" stroke="#555" stroke-width="0.6"/>
<path d="M142,644.4000000000001 L167.7,637.7 L172,640.2 L175.4,656.0 L133,657.0 L131.5,652.2 L134,648.2 Z" fill="none" stroke="#555" stroke-width="0.6"/>
<text font-size="4.4" fill="#333" x="122" y="620.2">P3</text>
<text font-size="4.4" fill="#333" x="149" y="638.4000000000001">P4</text>
<line x1="118.8" y1="614.6" x2="120.1" y2="614.6" stroke="#666" stroke-width="0.45" />
<line x1="118.8" y1="616.6904761904763" x2="120.1" y2="616.6904761904763" stroke="#666" stroke-width="0.45" />
<line x1="118.8" y1="618.7809523809524" x2="120.1" y2="618.7809523809524" stroke="#666" stroke-width="0.45" />
<line x1="118.8" y1="620.8714285714286" x2="120.1" y2="620.8714285714286" stroke="#666" stroke-width="0.45" />
<line x1="118.8" y1="622.9619047619047" x2="120.1" y2="622.9619047619047" stroke="#666" stroke-width="0.45" />
<line x1="118.8" y1="625.052380952381" x2="120.1" y2="625.052380952381" stroke="#666" stroke-width="0.45" />
<line x1="118.8" y1="627.1428571428571" x2="120.1" y2="627.1428571428571" stroke="#666" stroke-width="0.45" />
<line x1="118.8" y1="629.2333333333333" x2="120.1" y2="629.2333333333333" stroke="#666" stroke-width="0.45" />
<line x1="118.8" y1="631.3238095238096" x2="120.1" y2="631.3238095238096" stroke="#666" stroke-width="0.45" />
<line x1="118.8" y1="633.4142857142857" x2="120.1" y2="633.4142857142857" stroke="#666" stroke-width="0.45" />
<line x1="118.8" y1="635.504761904762" x2="120.1" y2="635.504761904762" stroke="#666" stroke-width="0.45" />
<line x1="118.8" y1="637.5952380952381" x2="120.1" y2="637.5952380952381" stroke="#666" stroke-width="0.45" />
<line x1="118.8" y1="639.6857142857143" x2="120.1" y2="639.6857142857143" stroke="#666" stroke-width="0.45" />
<line x1="118.8" y1="641.7761904761904" x2="120.1" y2="641.7761904761904" stroke="#666" stroke-width="0.45" />
<line x1="118.8" y1="643.8666666666667" x2="120.1" y2="643.8666666666667" stroke="#666" stroke-width="0.45" />
<line x1="118.8" y1="645.9571428571429" x2="120.1" y2="645.9571428571429" stroke="#666" stroke-width="0.45" />
<line x1="118.8" y1="648.047619047619" x2="120.1" y2="648.047619047619" stroke="#666" stroke-width="0.45" />
<line x1="118.8" y1="650.1380952380953" x2="120.1" y2="650.1380952380953" stroke="#666" stroke-width="0.45" />
<line x1="118.8" y1="652.2285714285714" x2="120.1" y2="652.2285714285714" stroke="#666" stroke-width="0.45" />
<line x1="118.8" y1="654.3190476190476" x2="120.1" y2="654.3190476190476" stroke="#666" stroke-width="0.45" />
<line x1="118.8" y1="656.4095238095238" x2="120.1" y2="656.4095238095238" stroke="#666" stroke-width="0.45" />
<line x1="118.8" y1="658.5" x2="120.1" y2="658.5" stroke="#666" stroke-width="0.45" />
<line x1="120.8" y1="659.5" x2="120.8" y2="658.2" stroke="#666" stroke-width="0.45" />
<line x1="123.02799999999999" y1="659.5" x2="123.02799999999999" y2="658.2" stroke="#666" stroke-width="0.45" />
<line x1="125.256" y1="659.5" x2="125.256" y2="658.2" stroke="#666" stroke-width="0.45" />
<line x1="127.484" y1="659.5" x2="127.484" y2="658.2" stroke="#666" stroke-width="0.45" />
<line x1="129.712" y1="659.5" x2="129.712" y2="658.2" stroke="#666" stroke-width="0.45" />
<line x1="131.94" y1="659.5" x2="131.94" y2="658.2" stroke="#666" stroke-width="0.45" />
<line x1="134.168" y1="659.5" x2="134.168" y2="658.2" stroke="#666" stroke-width="0.45" />
<line x1="136.396" y1="659.5" x2="136.396" y2="658.2" stroke="#666" stroke-width="0.45" />
<line x1="138.624" y1="659.5" x2="138.624" y2="658.2" stroke="#666" stroke-width="0.45" />
<line x1="140.852" y1="659.5" x2="140.852" y2="658.2" stroke="#666" stroke-width="0.45" />
<line x1="143.07999999999998" y1="659.5" x2="143.07999999999998" y2="658.2" stroke="#666" stroke-width="0.45" />
<line x1="145.308" y1="659.5" x2="145.308" y2="658.2" stroke="#666" stroke-width="0.45" />
<line x1="147.536" y1="659.5" x2="147.536" y2="658.2" stroke="#666" stroke-width="0.45" />
<line x1="149.764" y1="659.5" x2="149.764" y2="658.2" stroke="#666" stroke-width="0.45" />
<line x1="151.992" y1="659.5" x2="151.992" y2="658.2" stroke="#666" stroke-width="0.45" />
<line x1="154.22" y1="659.5" x2="154.22" y2="658.2" stroke="#666" stroke-width="0.45" />
<line x1="156.448" y1="659.5" x2="156.448" y2="658.2" stroke="#666" stroke-width="0.45" />
<line x1="158.676" y1="659.5" x2="158.676" y2="658.2" stroke="#666" stroke-width="0.45" />
<line x1="160.904" y1="659.5" x2="160.904" y2="658.2" stroke="#666" stroke-width="0.45" />
<line x1="163.132" y1="659.5" x2="163.132" y2="658.2" stroke="#666" stroke-width="0.45" />
<line x1="165.36" y1="659.5" x2="165.36" y2="658.2" stroke="#666" stroke-width="0.45" />
<line x1="167.588" y1="659.5" x2="167.588" y2="658.2" stroke="#666" stroke-width="0.45" />
<line x1="169.816" y1="659.5" x2="169.816" y2="658.2" stroke="#666" stroke-width="0.45" />
<line x1="172.044" y1="659.5" x2="172.044" y2="658.2" stroke="#666" stroke-width="0.45" />
<line x1="174.272" y1="659.5" x2="174.272" y2="658.2" stroke="#666" stroke-width="0.45" />
<line x1="176.5" y1="659.5" x2="176.5" y2="658.2" stroke="#666" stroke-width="0.45" />
<line x1="117.0" y1="615.9000000000001" x2="118.8" y2="615.9000000000001" stroke="#333" stroke-width="0.7" />
<line x1="117.0" y1="627.0" x2="118.8" y2="627.0" stroke="#333" stroke-width="0.7" />
<line x1="117.0" y1="638.7" x2="118.8" y2="638.7" stroke="#333" stroke-width="0.7" />
<line x1="117.0" y1="647.4000000000001" x2="118.8" y2="647.4000000000001" stroke="#333" stroke-width="0.7" />
<line x1="117.0" y1="653.5" x2="118.8" y2="653.5" stroke="#333" stroke-width="0.7" />
<text font-size="5.9" text-anchor="end" fill="#222" stroke="#222" stroke-width="0.2" transform="translate(113.7,618.1000000000001) scale(1.0,1)" x="0" y="0">1<tspan dx="0.3">0</tspan><tspan font-size="3.54" dx="0.4" dy="-2.66">5</tspan></text>
<text font-size="5.9" text-anchor="end" fill="#222" stroke="#222" stroke-width="0.2" transform="translate(113.7,629.2) scale(1.0,1)" x="0" y="0">1<tspan dx="0.3">0</tspan><tspan font-size="3.54" dx="0.4" dy="-2.66">4</tspan></text>
<text font-size="5.9" text-anchor="end" fill="#222" stroke="#222" stroke-width="0.2" transform="translate(113.7,640.9000000000001) scale(1.0,1)" x="0" y="0">1<tspan dx="0.3">0</tspan><tspan font-size="3.54" dx="0.4" dy="-2.66">3</tspan></text>
<text font-size="5.9" text-anchor="end" fill="#222" stroke="#222" stroke-width="0.2" transform="translate(113.7,649.9000000000001) scale(1.0,1)" x="0" y="0">1<tspan dx="0.3">0</tspan><tspan font-size="3.54" dx="0.4" dy="-2.66">2</tspan></text>
<text font-size="5.9" text-anchor="end" fill="#222" stroke="#222" stroke-width="0.2" transform="translate(113.7,655.9000000000001)" x="0" y="0">0</text>
<text font-size="5.9" text-anchor="end" fill="#222" stroke="#222" stroke-width="0.2" transform="translate(113.7,661.5000000000001)" x="0" y="0">−139</text>
<text font-size="5.9" text-anchor="start" fill="#222" stroke="#222" stroke-width="0.2" transform="translate(117.8,669.1)" x="0" y="0">0</text>
<text font-size="5.9" text-anchor="start" fill="#222" stroke="#222" stroke-width="0.2" transform="translate(121.3,669.2) scale(1.0,1)" x="0" y="0">1<tspan dx="0.3">0</tspan><tspan font-size="3.54" dx="0.4" dy="-2.66">1</tspan></text>
<text font-size="5.9" text-anchor="start" fill="#222" stroke="#222" stroke-width="0.2" transform="translate(129.4,669.2) scale(1.0,1)" x="0" y="0">1<tspan dx="0.3">0</tspan><tspan font-size="3.54" dx="0.4" dy="-2.66">2</tspan></text>
<text font-size="5.9" text-anchor="start" fill="#222" stroke="#222" stroke-width="0.2" transform="translate(141,669.2) scale(1.0,1)" x="0" y="0">1<tspan dx="0.3">0</tspan><tspan font-size="3.54" dx="0.4" dy="-2.66">3</tspan></text>
<text font-size="5.9" text-anchor="start" fill="#222" stroke="#222" stroke-width="0.2" transform="translate(156.5,669.2) scale(1.0,1)" x="0" y="0">1<tspan dx="0.3">0</tspan><tspan font-size="3.54" dx="0.4" dy="-2.66">4</tspan></text>
<text font-size="5.9" text-anchor="start" fill="#222" stroke="#222" stroke-width="0.2" transform="translate(169.5,669.2) scale(1.0,1)" x="0" y="0">1<tspan dx="0.3">0</tspan><tspan font-size="3.54" dx="0.4" dy="-2.66">5</tspan></text>
<text font-size="8.2" fill="#111" stroke="#111" stroke-width="0.4" font-weight="normal" text-anchor="middle" textLength="19" lengthAdjust="spacingAndGlyphs" transform="translate(125.1,680.0)" x="0" y="0">hCD45</text>
<line x1="137.9" y1="677.3" x2="163.8" y2="677.3" stroke="#111" stroke-width="1.0" />
<path d="M162.8,674.3 L169.8,677.3 L162.8,680.3 Z" fill="#111"/>
<text font-size="8.2" fill="#111" stroke="#111" stroke-width="0.4" font-weight="normal" text-anchor="middle" textLength="21.3" lengthAdjust="spacingAndGlyphs" transform="translate(96.1,644.6) rotate(-90)" x="0" y="0">mCD45</text>
<line x1="93.1" y1="631.4" x2="93.1" y2="617.1999999999999" stroke="#111" stroke-width="1.0" />
<path d="M90.1,618.1999999999999 L93.1,611.1999999999999 L96.1,618.1999999999999 Z" fill="#111"/>
<g filter="url(#bl2)">
<circle cx="227.71" cy="637.08" r="0.55" fill="#b0b0b0" stroke="none" stroke-width="0"/>
<circle cx="229.12" cy="640.01" r="0.55" fill="#b0b0b0" stroke="none" stroke-width="0"/>
<circle cx="226.30" cy="636.10" r="0.55" fill="#b0b0b0" stroke="none" stroke-width="0"/>
<circle cx="227.98" cy="635.42" r="0.55" fill="#b0b0b0" stroke="none" stroke-width="0"/>
<circle cx="231.13" cy="639.15" r="0.55" fill="#b0b0b0" stroke="none" stroke-width="0"/>
<circle cx="230.42" cy="638.52" r="0.55" fill="#b0b0b0" stroke="none" stroke-width="0"/>
<circle cx="226.32" cy="639.63" r="0.55" fill="#b0b0b0" stroke="none" stroke-width="0"/>
<circle cx="228.20" cy="636.11" r="0.55" fill="#b0b0b0" stroke="none" stroke-width="0"/>
<circle cx="226.87" cy="634.97" r="0.55" fill="#b0b0b0" stroke="none" stroke-width="0"/>
<circle cx="227.52" cy="637.92" r="0.55" fill="#b0b0b0" stroke="none" stroke-width="0"/>
<circle cx="230.55" cy="636.09" r="0.55" fill="#b0b0b0" stroke="none" stroke-width="0"/>
<circle cx="229.73" cy="638.32" r="0.55" fill="#b0b0b0" stroke="none" stroke-width="0"/>
<circle cx="229.79" cy="637.57" r="0.55" fill="#b0b0b0" stroke="none" stroke-width="0"/>
<circle cx="226.03" cy="640.13" r="0.55" fill="#b0b0b0" stroke="none" stroke-width="0"/>
<circle cx="229.64" cy="634.91" r="0.55" fill="#b0b0b0" stroke="none" stroke-width="0"/>
<circle cx="228.47" cy="637.09" r="0.55" fill="#b0b0b0" stroke="none" stroke-width="0"/>
<circle cx="232.59" cy="641.04" r="0.55" fill="#b0b0b0" stroke="none" stroke-width="0"/>
<circle cx="228.66" cy="637.12" r="0.55" fill="#b0b0b0" stroke="none" stroke-width="0"/>
<circle cx="229.77" cy="638.19" r="0.55" fill="#b0b0b0" stroke="none" stroke-width="0"/>
<circle cx="229.65" cy="637.05" r="0.55" fill="#b0b0b0" stroke="none" stroke-width="0"/>
<circle cx="226.54" cy="633.22" r="0.55" fill="#b0b0b0" stroke="none" stroke-width="0"/>
<circle cx="225.90" cy="633.92" r="0.55" fill="#b0b0b0" stroke="none" stroke-width="0"/>
<circle cx="228.42" cy="638.97" r="0.55" fill="#b0b0b0" stroke="none" stroke-width="0"/>
<circle cx="231.51" cy="638.12" r="0.55" fill="#b0b0b0" stroke="none" stroke-width="0"/>
<circle cx="232.35" cy="641.29" r="0.55" fill="#b0b0b0" stroke="none" stroke-width="0"/>
<circle cx="228.21" cy="636.33" r="0.55" fill="#b0b0b0" stroke="none" stroke-width="0"/>
<circle cx="228.88" cy="636.47" r="0.55" fill="#b0b0b0" stroke="none" stroke-width="0"/>
<circle cx="227.65" cy="637.62" r="0.55" fill="#b0b0b0" stroke="none" stroke-width="0"/>
<circle cx="229.37" cy="633.20" r="0.55" fill="#b0b0b0" stroke="none" stroke-width="0"/>
<circle cx="228.60" cy="637.63" r="0.55" fill="#b0b0b0" stroke="none" stroke-width="0"/>
<circle cx="229.86" cy="635.45" r="0.55" fill="#b0b0b0" stroke="none" stroke-width="0"/>
<circle cx="229.42" cy="635.36" r="0.55" fill="#b0b0b0" stroke="none" stroke-width="0"/>
<circle cx="226.74" cy="635.68" r="0.55" fill="#b0b0b0" stroke="none" stroke-width="0"/>
<circle cx="228.72" cy="636.86" r="0.55" fill="#b0b0b0" stroke="none" stroke-width="0"/>
<circle cx="230.63" cy="638.62" r="0.55" fill="#b0b0b0" stroke="none" stroke-width="0"/>
<circle cx="228.04" cy="639.84" r="0.55" fill="#b0b0b0" stroke="none" stroke-width="0"/>
<circle cx="231.47" cy="637.87" r="0.55" fill="#b0b0b0" stroke="none" stroke-width="0"/>
<circle cx="231.85" cy="638.32" r="0.55" fill="#b0b0b0" stroke="none" stroke-width="0"/>
<circle cx="229.25" cy="635.44" r="0.55" fill="#b0b0b0" stroke="none" stroke-width="0"/>
<circle cx="230.38" cy="639.91" r="0.55" fill="#b0b0b0" stroke="none" stroke-width="0"/>
<circle cx="229.01" cy="639.95" r="0.55" fill="#b0b0b0" stroke="none" stroke-width="0"/>
<circle cx="232.29" cy="641.55" r="0.55" fill="#b0b0b0" stroke="none" stroke-width="0"/>
<circle cx="226.89" cy="637.11" r="0.55" fill="#b0b0b0" stroke="none" stroke-width="0"/>
<circle cx="230.92" cy="639.68" r="0.55" fill="#b0b0b0" stroke="none" stroke-width="0"/>
<circle cx="230.55" cy="634.24" r="0.55" fill="#b0b0b0" stroke="none" stroke-width="0"/>
</g>
<g filter="url(#bl2)">
<circle cx="242.38" cy="626.48" r="0.55" fill="#ccc" stroke="none" stroke-width="0"/>
<circle cx="241.72" cy="627.00" r="0.55" fill="#ccc" stroke="none" stroke-width="0"/>
<circle cx="242.41" cy="626.75" r="0.55" fill="#ccc" stroke="none" stroke-width="0"/>
</g>
<rect x="223.3" y="610.4000000000001" width="60.19999999999999" height="49.09999999999991" fill="none" stroke="#666" stroke-width="0.8" rx="0" />
<line x1="235.6" y1="610.4000000000001" x2="235.6" y2="659.5" stroke="#555" stroke-width="0.8" />
<line x1="223.3" y1="645.7" x2="283.5" y2="645.7" stroke="#555" stroke-width="0.8" />
<line x1="223.3" y1="613.4000000000001" x2="224.60000000000002" y2="613.4000000000001" stroke="#666" stroke-width="0.45" />
<line x1="223.3" y1="615.5476190476192" x2="224.60000000000002" y2="615.5476190476192" stroke="#666" stroke-width="0.45" />
<line x1="223.3" y1="617.6952380952382" x2="224.60000000000002" y2="617.6952380952382" stroke="#666" stroke-width="0.45" />
<line x1="223.3" y1="619.8428571428573" x2="224.60000000000002" y2="619.8428571428573" stroke="#666" stroke-width="0.45" />
<line x1="223.3" y1="621.9904761904762" x2="224.60000000000002" y2="621.9904761904762" stroke="#666" stroke-width="0.45" />
<line x1="223.3" y1="624.1380952380953" x2="224.60000000000002" y2="624.1380952380953" stroke="#666" stroke-width="0.45" />
<line x1="223.3" y1="626.2857142857143" x2="224.60000000000002" y2="626.2857142857143" stroke="#666" stroke-width="0.45" />
<line x1="223.3" y1="628.4333333333334" x2="224.60000000000002" y2="628.4333333333334" stroke="#666" stroke-width="0.45" />
<line x1="223.3" y1="630.5809523809525" x2="224.60000000000002" y2="630.5809523809525" stroke="#666" stroke-width="0.45" />
<line x1="223.3" y1="632.7285714285715" x2="224.60000000000002" y2="632.7285714285715" stroke="#666" stroke-width="0.45" />
<line x1="223.3" y1="634.8761904761906" x2="224.60000000000002" y2="634.8761904761906" stroke="#666" stroke-width="0.45" />
<line x1="223.3" y1="637.0238095238095" x2="224.60000000000002" y2="637.0238095238095" stroke="#666" stroke-width="0.45" />
<line x1="223.3" y1="639.1714285714286" x2="224.60000000000002" y2="639.1714285714286" stroke="#666" stroke-width="0.45" />
<line x1="223.3" y1="641.3190476190476" x2="224.60000000000002" y2="641.3190476190476" stroke="#666" stroke-width="0.45" />
<line x1="223.3" y1="643.4666666666667" x2="224.60000000000002" y2="643.4666666666667" stroke="#666" stroke-width="0.45" />
<line x1="223.3" y1="645.6142857142858" x2="224.60000000000002" y2="645.6142857142858" stroke="#666" stroke-width="0.45" />
<line x1="223.3" y1="647.7619047619048" x2="224.60000000000002" y2="647.7619047619048" stroke="#666" stroke-width="0.45" />
<line x1="223.3" y1="649.9095238095239" x2="224.60000000000002" y2="649.9095238095239" stroke="#666" stroke-width="0.45" />
<line x1="223.3" y1="652.0571428571428" x2="224.60000000000002" y2="652.0571428571428" stroke="#666" stroke-width="0.45" />
<line x1="223.3" y1="654.2047619047619" x2="224.60000000000002" y2="654.2047619047619" stroke="#666" stroke-width="0.45" />
<line x1="223.3" y1="656.3523809523809" x2="224.60000000000002" y2="656.3523809523809" stroke="#666" stroke-width="0.45" />
<line x1="223.3" y1="658.5" x2="224.60000000000002" y2="658.5" stroke="#666" stroke-width="0.45" />
<line x1="225.3" y1="659.5" x2="225.3" y2="658.2" stroke="#666" stroke-width="0.45" />
<line x1="227.548" y1="659.5" x2="227.548" y2="658.2" stroke="#666" stroke-width="0.45" />
<line x1="229.79600000000002" y1="659.5" x2="229.79600000000002" y2="658.2" stroke="#666" stroke-width="0.45" />
<line x1="232.044" y1="659.5" x2="232.044" y2="658.2" stroke="#666" stroke-width="0.45" />
<line x1="234.292" y1="659.5" x2="234.292" y2="658.2" stroke="#666" stroke-width="0.45" />
<line x1="236.54000000000002" y1="659.5" x2="236.54000000000002" y2="658.2" stroke="#666" stroke-width="0.45" />
<line x1="238.788" y1="659.5" x2="238.788" y2="658.2" stroke="#666" stroke-width="0.45" />
<line x1="241.036" y1="659.5" x2="241.036" y2="658.2" stroke="#666" stroke-width="0.45" />
<line x1="243.284" y1="659.5" x2="243.284" y2="658.2" stroke="#666" stroke-width="0.45" />
<line x1="245.532" y1="659.5" x2="245.532" y2="658.2" stroke="#666" stroke-width="0.45" />
<line x1="247.78" y1="659.5" x2="247.78" y2="658.2" stroke="#666" stroke-width="0.45" />
<line x1="250.02800000000002" y1="659.5" x2="250.02800000000002" y2="658.2" stroke="#666" stroke-width="0.45" />
<line x1="252.276" y1="659.5" x2="252.276" y2="658.2" stroke="#666" stroke-width="0.45" />
<line x1="254.524" y1="659.5" x2="254.524" y2="658.2" stroke="#666" stroke-width="0.45" />
<line x1="256.772" y1="659.5" x2="256.772" y2="658.2" stroke="#666" stroke-width="0.45" />
<line x1="259.02" y1="659.5" x2="259.02" y2="658.2" stroke="#666" stroke-width="0.45" />
<line x1="261.26800000000003" y1="659.5" x2="261.26800000000003" y2="658.2" stroke="#666" stroke-width="0.45" />
<line x1="263.516" y1="659.5" x2="263.516" y2="658.2" stroke="#666" stroke-width="0.45" />
<line x1="265.764" y1="659.5" x2="265.764" y2="658.2" stroke="#666" stroke-width="0.45" />
<line x1="268.012" y1="659.5" x2="268.012" y2="658.2" stroke="#666" stroke-width="0.45" />
<line x1="270.26" y1="659.5" x2="270.26" y2="658.2" stroke="#666" stroke-width="0.45" />
<line x1="272.508" y1="659.5" x2="272.508" y2="658.2" stroke="#666" stroke-width="0.45" />
<line x1="274.756" y1="659.5" x2="274.756" y2="658.2" stroke="#666" stroke-width="0.45" />
<line x1="277.004" y1="659.5" x2="277.004" y2="658.2" stroke="#666" stroke-width="0.45" />
<line x1="279.252" y1="659.5" x2="279.252" y2="658.2" stroke="#666" stroke-width="0.45" />
<line x1="281.5" y1="659.5" x2="281.5" y2="658.2" stroke="#666" stroke-width="0.45" />
<text font-size="4.6" fill="#444" stroke="#444" stroke-width="0.1" textLength="8" lengthAdjust="spacingAndGlyphs" x="224.60000000000002" y="618.2">Q1-1</text>
<text font-size="4.6" fill="#444" stroke="#444" stroke-width="0.1" textLength="8" lengthAdjust="spacingAndGlyphs" x="274.0" y="618.2">Q2-1</text>
<text font-size="4.6" fill="#444" stroke="#444" stroke-width="0.1" textLength="8" lengthAdjust="spacingAndGlyphs" x="224.60000000000002" y="657.0000000000001">Q3-1</text>
<text font-size="4.6" fill="#444" stroke="#444" stroke-width="0.1" textLength="8" lengthAdjust="spacingAndGlyphs" x="274.0" y="657.0000000000001">Q4-1</text>
<line x1="221.5" y1="615.2" x2="223.3" y2="615.2" stroke="#333" stroke-width="0.7" />
<line x1="221.5" y1="626.5" x2="223.3" y2="626.5" stroke="#333" stroke-width="0.7" />
<line x1="221.5" y1="636.9000000000001" x2="223.3" y2="636.9000000000001" stroke="#333" stroke-width="0.7" />
<line x1="221.5" y1="648.2" x2="223.3" y2="648.2" stroke="#333" stroke-width="0.7" />
<line x1="221.5" y1="653.8000000000001" x2="223.3" y2="653.8000000000001" stroke="#333" stroke-width="0.7" />
<text font-size="5.9" text-anchor="end" fill="#222" stroke="#222" stroke-width="0.2" transform="translate(218.8,617.4000000000001) scale(1.0,1)" x="0" y="0">1<tspan dx="0.3">0</tspan><tspan font-size="3.54" dx="0.4" dy="-2.66">5</tspan></text>
<text font-size="5.9" text-anchor="end" fill="#222" stroke="#222" stroke-width="0.2" transform="translate(218.8,628.7) scale(1.0,1)" x="0" y="0">1<tspan dx="0.3">0</tspan><tspan font-size="3.54" dx="0.4" dy="-2.66">4</tspan></text>
<text font-size="5.9" text-anchor="end" fill="#222" stroke="#222" stroke-width="0.2" transform="translate(218.8,639.1000000000001) scale(1.0,1)" x="0" y="0">1<tspan dx="0.3">0</tspan><tspan font-size="3.54" dx="0.4" dy="-2.66">3</tspan></text>
<text font-size="5.9" text-anchor="end" fill="#222" stroke="#222" stroke-width="0.2" transform="translate(218.8,650.4000000000001) scale(1.0,1)" x="0" y="0">1<tspan dx="0.3">0</tspan><tspan font-size="3.54" dx="0.4" dy="-2.66">2</tspan></text>
<text font-size="5.9" text-anchor="end" fill="#222" stroke="#222" stroke-width="0.2" transform="translate(218.8,655.9000000000001)" x="0" y="0">0</text>
<text font-size="5.9" text-anchor="end" fill="#222" stroke="#222" stroke-width="0.2" transform="translate(218.8,661.6)" x="0" y="0">−139</text>
<text font-size="5.9" text-anchor="start" fill="#222" stroke="#222" stroke-width="0.2" transform="translate(227.1,669.0) scale(1.0,1)" x="0" y="0">1<tspan dx="0.3">0</tspan><tspan font-size="3.54" dx="0.4" dy="-2.66">2</tspan></text>
<text font-size="5.9" text-anchor="start" fill="#222" stroke="#222" stroke-width="0.2" transform="translate(242.6,669.0) scale(1.0,1)" x="0" y="0">1<tspan dx="0.3">0</tspan><tspan font-size="3.54" dx="0.4" dy="-2.66">3</tspan></text>
<text font-size="5.9" text-anchor="start" fill="#222" stroke="#222" stroke-width="0.2" transform="translate(257.4,669.0) scale(1.0,1)" x="0" y="0">1<tspan dx="0.3">0</tspan><tspan font-size="3.54" dx="0.4" dy="-2.66">4</tspan></text>
<text font-size="5.9" text-anchor="start" fill="#222" stroke="#222" stroke-width="0.2" transform="translate(271.5,669.0) scale(1.0,1)" x="0" y="0">1<tspan dx="0.3">0</tspan><tspan font-size="3.54" dx="0.4" dy="-2.66">5</tspan></text>
<text font-size="8.2" fill="#111" stroke="#111" stroke-width="0.4" font-weight="normal" text-anchor="middle" textLength="14.8" lengthAdjust="spacingAndGlyphs" transform="translate(229.1,680.0)" x="0" y="0">CD33</text>
<line x1="242.6" y1="677.3" x2="268.9" y2="677.3" stroke="#111" stroke-width="1.0" />
<path d="M267.9,674.3 L274.9,677.3 L267.9,680.3 Z" fill="#111"/>
<text font-size="8.2" fill="#111" stroke="#111" stroke-width="0.4" font-weight="normal" text-anchor="middle" textLength="11.4" lengthAdjust="spacingAndGlyphs" transform="translate(198.5,653.1999999999999) rotate(-90)" x="0" y="0">CD3</text>
<line x1="195.8" y1="644.4" x2="195.8" y2="615.9" stroke="#111" stroke-width="1.0" />
<path d="M192.8,616.9 L195.8,609.9 L198.8,616.9 Z" fill="#111"/>
<text font-size="4.2" fill="#6a9ad0" x="218.6" y="663.2">M</text>
<g filter="url(#bl2)">
<circle cx="327.04" cy="636.65" r="0.55" fill="#b0b0b0" stroke="none" stroke-width="0"/>
<circle cx="325.09" cy="637.24" r="0.55" fill="#b0b0b0" stroke="none" stroke-width="0"/>
<circle cx="326.24" cy="639.61" r="0.55" fill="#b0b0b0" stroke="none" stroke-width="0"/>
<circle cx="323.02" cy="635.51" r="0.55" fill="#b0b0b0" stroke="none" stroke-width="0"/>
<circle cx="323.02" cy="637.88" r="0.55" fill="#b0b0b0" stroke="none" stroke-width="0"/>
<circle cx="322.84" cy="634.97" r="0.55" fill="#b0b0b0" stroke="none" stroke-width="0"/>
<circle cx="326.61" cy="635.25" r="0.55" fill="#b0b0b0" stroke="none" stroke-width="0"/>
<circle cx="325.46" cy="632.12" r="0.55" fill="#b0b0b0" stroke="none" stroke-width="0"/>
<circle cx="325.74" cy="633.95" r="0.55" fill="#b0b0b0" stroke="none" stroke-width="0"/>
<circle cx="326.73" cy="637.89" r="0.55" fill="#b0b0b0" stroke="none" stroke-width="0"/>
<circle cx="325.44" cy="635.14" r="0.55" fill="#b0b0b0" stroke="none" stroke-width="0"/>
<circle cx="325.18" cy="636.15" r="0.55" fill="#b0b0b0" stroke="none" stroke-width="0"/>
<circle cx="326.02" cy="636.29" r="0.55" fill="#b0b0b0" stroke="none" stroke-width="0"/>
<circle cx="324.19" cy="635.44" r="0.55" fill="#b0b0b0" stroke="none" stroke-width="0"/>
<circle cx="324.07" cy="639.31" r="0.55" fill="#b0b0b0" stroke="none" stroke-width="0"/>
<circle cx="324.20" cy="638.16" r="0.55" fill="#b0b0b0" stroke="none" stroke-width="0"/>
<circle cx="320.55" cy="639.57" r="0.55" fill="#b0b0b0" stroke="none" stroke-width="0"/>
<circle cx="322.53" cy="632.61" r="0.55" fill="#b0b0b0" stroke="none" stroke-width="0"/>
<circle cx="324.72" cy="632.64" r="0.55" fill="#b0b0b0" stroke="none" stroke-width="0"/>
<circle cx="327.01" cy="637.06" r="0.55" fill="#b0b0b0" stroke="none" stroke-width="0"/>
<circle cx="324.33" cy="639.00" r="0.55" fill="#b0b0b0" stroke="none" stroke-width="0"/>
<circle cx="324.24" cy="637.46" r="0.55" fill="#b0b0b0" stroke="none" stroke-width="0"/>
<circle cx="324.88" cy="642.17" r="0.55" fill="#b0b0b0" stroke="none" stroke-width="0"/>
<circle cx="325.68" cy="636.18" r="0.55" fill="#b0b0b0" stroke="none" stroke-width="0"/>
<circle cx="324.83" cy="633.09" r="0.55" fill="#b0b0b0" stroke="none" stroke-width="0"/>
<circle cx="326.55" cy="634.47" r="0.55" fill="#b0b0b0" stroke="none" stroke-width="0"/>
<circle cx="323.81" cy="636.97" r="0.55" fill="#b0b0b0" stroke="none" stroke-width="0"/>
<circle cx="325.09" cy="635.35" r="0.55" fill="#b0b0b0" stroke="none" stroke-width="0"/>
<circle cx="323.50" cy="635.56" r="0.55" fill="#b0b0b0" stroke="none" stroke-width="0"/>
<circle cx="320.71" cy="635.75" r="0.55" fill="#b0b0b0" stroke="none" stroke-width="0"/>
<circle cx="325.48" cy="639.70" r="0.55" fill="#b0b0b0" stroke="none" stroke-width="0"/>
<circle cx="323.40" cy="634.79" r="0.55" fill="#b0b0b0" stroke="none" stroke-width="0"/>
<circle cx="325.92" cy="636.27" r="0.55" fill="#b0b0b0" stroke="none" stroke-width="0"/>
<circle cx="326.47" cy="635.31" r="0.55" fill="#b0b0b0" stroke="none" stroke-width="0"/>
<circle cx="325.14" cy="636.99" r="0.55" fill="#b0b0b0" stroke="none" stroke-width="0"/>
<circle cx="324.79" cy="639.12" r="0.55" fill="#b0b0b0" stroke="none" stroke-width="0"/>
<circle cx="324.71" cy="636.98" r="0.55" fill="#b0b0b0" stroke="none" stroke-width="0"/>
<circle cx="324.35" cy="641.00" r="0.55" fill="#b0b0b0" stroke="none" stroke-width="0"/>
<circle cx="325.43" cy="637.10" r="0.55" fill="#b0b0b0" stroke="none" stroke-width="0"/>
<circle cx="322.39" cy="638.59" r="0.55" fill="#b0b0b0" stroke="none" stroke-width="0"/>
</g>
<rect x="318.3" y="610.2" width="59.0" height="49.200000000000045" fill="none" stroke="#666" stroke-width="0.8" rx="0" />
<line x1="330" y1="610.2" x2="330" y2="659.4000000000001" stroke="#555" stroke-width="0.8" />
<line x1="318.3" y1="645.0" x2="377.3" y2="645.0" stroke="#555" stroke-width="0.8" />
<line x1="318.3" y1="613.2" x2="319.6" y2="613.2" stroke="#666" stroke-width="0.45" />
<line x1="318.3" y1="615.352380952381" x2="319.6" y2="615.352380952381" stroke="#666" stroke-width="0.45" />
<line x1="318.3" y1="617.504761904762" x2="319.6" y2="617.504761904762" stroke="#666" stroke-width="0.45" />
<line x1="318.3" y1="619.657142857143" x2="319.6" y2="619.657142857143" stroke="#666" stroke-width="0.45" />
<line x1="318.3" y1="621.8095238095239" x2="319.6" y2="621.8095238095239" stroke="#666" stroke-width="0.45" />
<line x1="318.3" y1="623.9619047619049" x2="319.6" y2="623.9619047619049" stroke="#666" stroke-width="0.45" />
<line x1="318.3" y1="626.1142857142858" x2="319.6" y2="626.1142857142858" stroke="#666" stroke-width="0.45" />
<line x1="318.3" y1="628.2666666666668" x2="319.6" y2="628.2666666666668" stroke="#666" stroke-width="0.45" />
<line x1="318.3" y1="630.4190476190477" x2="319.6" y2="630.4190476190477" stroke="#666" stroke-width="0.45" />
<line x1="318.3" y1="632.5714285714287" x2="319.6" y2="632.5714285714287" stroke="#666" stroke-width="0.45" />
<line x1="318.3" y1="634.7238095238096" x2="319.6" y2="634.7238095238096" stroke="#666" stroke-width="0.45" />
<line x1="318.3" y1="636.8761904761906" x2="319.6" y2="636.8761904761906" stroke="#666" stroke-width="0.45" />
<line x1="318.3" y1="639.0285714285715" x2="319.6" y2="639.0285714285715" stroke="#666" stroke-width="0.45" />
<line x1="318.3" y1="641.1809523809525" x2="319.6" y2="641.1809523809525" stroke="#666" stroke-width="0.45" />
<line x1="318.3" y1="643.3333333333334" x2="319.6" y2="643.3333333333334" stroke="#666" stroke-width="0.45" />
<line x1="318.3" y1="645.4857142857144" x2="319.6" y2="645.4857142857144" stroke="#666" stroke-width="0.45" />
<line x1="318.3" y1="647.6380952380953" x2="319.6" y2="647.6380952380953" stroke="#666" stroke-width="0.45" />
<line x1="318.3" y1="649.7904761904763" x2="319.6" y2="649.7904761904763" stroke="#666" stroke-width="0.45" />
<line x1="318.3" y1="651.9428571428572" x2="319.6" y2="651.9428571428572" stroke="#666" stroke-width="0.45" />
<line x1="318.3" y1="654.0952380952382" x2="319.6" y2="654.0952380952382" stroke="#666" stroke-width="0.45" />
<line x1="318.3" y1="656.2476190476191" x2="319.6" y2="656.2476190476191" stroke="#666" stroke-width="0.45" />
<line x1="318.3" y1="658.4000000000001" x2="319.6" y2="658.4000000000001" stroke="#666" stroke-width="0.45" />
<line x1="320.3" y1="659.4000000000001" x2="320.3" y2="658.1000000000001" stroke="#666" stroke-width="0.45" />
<line x1="322.5" y1="659.4000000000001" x2="322.5" y2="658.1000000000001" stroke="#666" stroke-width="0.45" />
<line x1="324.7" y1="659.4000000000001" x2="324.7" y2="658.1000000000001" stroke="#666" stroke-width="0.45" />
<line x1="326.90000000000003" y1="659.4000000000001" x2="326.90000000000003" y2="658.1000000000001" stroke="#666" stroke-width="0.45" />
<line x1="329.1" y1="659.4000000000001" x2="329.1" y2="658.1000000000001" stroke="#666" stroke-width="0.45" />
<line x1="331.3" y1="659.4000000000001" x2="331.3" y2="658.1000000000001" stroke="#666" stroke-width="0.45" />
<line x1="333.5" y1="659.4000000000001" x2="333.5" y2="658.1000000000001" stroke="#666" stroke-width="0.45" />
<line x1="335.7" y1="659.4000000000001" x2="335.7" y2="658.1000000000001" stroke="#666" stroke-width="0.45" />
<line x1="337.90000000000003" y1="659.4000000000001" x2="337.90000000000003" y2="658.1000000000001" stroke="#666" stroke-width="0.45" />
<line x1="340.1" y1="659.4000000000001" x2="340.1" y2="658.1000000000001" stroke="#666" stroke-width="0.45" />
<line x1="342.3" y1="659.4000000000001" x2="342.3" y2="658.1000000000001" stroke="#666" stroke-width="0.45" />
<line x1="344.5" y1="659.4000000000001" x2="344.5" y2="658.1000000000001" stroke="#666" stroke-width="0.45" />
<line x1="346.7" y1="659.4000000000001" x2="346.7" y2="658.1000000000001" stroke="#666" stroke-width="0.45" />
<line x1="348.90000000000003" y1="659.4000000000001" x2="348.90000000000003" y2="658.1000000000001" stroke="#666" stroke-width="0.45" />
<line x1="351.1" y1="659.4000000000001" x2="351.1" y2="658.1000000000001" stroke="#666" stroke-width="0.45" />
<line x1="353.3" y1="659.4000000000001" x2="353.3" y2="658.1000000000001" stroke="#666" stroke-width="0.45" />
<line x1="355.5" y1="659.4000000000001" x2="355.5" y2="658.1000000000001" stroke="#666" stroke-width="0.45" />
<line x1="357.7" y1="659.4000000000001" x2="357.7" y2="658.1000000000001" stroke="#666" stroke-width="0.45" />
<line x1="359.90000000000003" y1="659.4000000000001" x2="359.90000000000003" y2="658.1000000000001" stroke="#666" stroke-width="0.45" />
<line x1="362.1" y1="659.4000000000001" x2="362.1" y2="658.1000000000001" stroke="#666" stroke-width="0.45" />
<line x1="364.3" y1="659.4000000000001" x2="364.3" y2="658.1000000000001" stroke="#666" stroke-width="0.45" />
<line x1="366.5" y1="659.4000000000001" x2="366.5" y2="658.1000000000001" stroke="#666" stroke-width="0.45" />
<line x1="368.7" y1="659.4000000000001" x2="368.7" y2="658.1000000000001" stroke="#666" stroke-width="0.45" />
<line x1="370.90000000000003" y1="659.4000000000001" x2="370.90000000000003" y2="658.1000000000001" stroke="#666" stroke-width="0.45" />
<line x1="373.1" y1="659.4000000000001" x2="373.1" y2="658.1000000000001" stroke="#666" stroke-width="0.45" />
<line x1="375.3" y1="659.4000000000001" x2="375.3" y2="658.1000000000001" stroke="#666" stroke-width="0.45" />
<text font-size="4.6" fill="#444" stroke="#444" stroke-width="0.1" textLength="8" lengthAdjust="spacingAndGlyphs" x="319.6" y="618.2">Q1-2</text>
<text font-size="4.6" fill="#444" stroke="#444" stroke-width="0.1" textLength="8" lengthAdjust="spacingAndGlyphs" x="367.8" y="618.2">Q2-2</text>
<text font-size="4.6" fill="#444" stroke="#444" stroke-width="0.1" textLength="8" lengthAdjust="spacingAndGlyphs" x="319.6" y="657.0000000000001">Q3-2</text>
<text font-size="4.6" fill="#444" stroke="#444" stroke-width="0.1" textLength="8" lengthAdjust="spacingAndGlyphs" x="367.8" y="657.0000000000001">Q4-2</text>
<line x1="316.5" y1="614.2" x2="318.3" y2="614.2" stroke="#333" stroke-width="0.7" />
<line x1="316.5" y1="625.7" x2="318.3" y2="625.7" stroke="#333" stroke-width="0.7" />
<line x1="316.5" y1="636.3000000000001" x2="318.3" y2="636.3000000000001" stroke="#333" stroke-width="0.7" />
<line x1="316.5" y1="648.6" x2="318.3" y2="648.6" stroke="#333" stroke-width="0.7" />
<line x1="316.5" y1="653.5" x2="318.3" y2="653.5" stroke="#333" stroke-width="0.7" />
<text font-size="5.9" text-anchor="end" fill="#222" stroke="#222" stroke-width="0.2" transform="translate(313.79999999999995,616.4000000000001) scale(1.0,1)" x="0" y="0">1<tspan dx="0.3">0</tspan><tspan font-size="3.54" dx="0.4" dy="-2.66">5</tspan></text>
<text font-size="5.9" text-anchor="end" fill="#222" stroke="#222" stroke-width="0.2" transform="translate(313.79999999999995,627.9000000000001) scale(1.0,1)" x="0" y="0">1<tspan dx="0.3">0</tspan><tspan font-size="3.54" dx="0.4" dy="-2.66">4</tspan></text>
<text font-size="5.9" text-anchor="end" fill="#222" stroke="#222" stroke-width="0.2" transform="translate(313.79999999999995,638.5000000000001) scale(1.0,1)" x="0" y="0">1<tspan dx="0.3">0</tspan><tspan font-size="3.54" dx="0.4" dy="-2.66">3</tspan></text>
<text font-size="5.9" text-anchor="end" fill="#222" stroke="#222" stroke-width="0.2" transform="translate(313.79999999999995,650.8000000000001) scale(1.0,1)" x="0" y="0">1<tspan dx="0.3">0</tspan><tspan font-size="3.54" dx="0.4" dy="-2.66">2</tspan></text>
<text font-size="5.9" text-anchor="end" fill="#222" stroke="#222" stroke-width="0.2" transform="translate(313.79999999999995,655.6)" x="0" y="0">0</text>
<text font-size="5.9" text-anchor="end" fill="#222" stroke="#222" stroke-width="0.2" transform="translate(313.79999999999995,661.3000000000001)" x="0" y="0">−139</text>
<text font-size="5.9" text-anchor="start" fill="#222" stroke="#222" stroke-width="0.2" transform="translate(305.7,668.9)" x="0" y="0">−103</text>
<text font-size="5.9" text-anchor="start" fill="#222" stroke="#222" stroke-width="0.2" transform="translate(323.3,668.9)" x="0" y="0">0</text>
<text font-size="5.9" text-anchor="start" fill="#222" stroke="#222" stroke-width="0.2" transform="translate(327,669.0) scale(1.0,1)" x="0" y="0">1<tspan dx="0.3">0</tspan><tspan font-size="3.54" dx="0.4" dy="-2.66">2</tspan></text>
<text font-size="5.9" text-anchor="start" fill="#222" stroke="#222" stroke-width="0.2" transform="translate(340,669.0) scale(1.0,1)" x="0" y="0">1<tspan dx="0.3">0</tspan><tspan font-size="3.54" dx="0.4" dy="-2.66">3</tspan></text>
<text font-size="5.9" text-anchor="start" fill="#222" stroke="#222" stroke-width="0.2" transform="translate(353.9,669.0) scale(1.0,1)" x="0" y="0">1<tspan dx="0.3">0</tspan><tspan font-size="3.54" dx="0.4" dy="-2.66">4</tspan></text>
<text font-size="5.9" text-anchor="start" fill="#222" stroke="#222" stroke-width="0.2" transform="translate(367.8,669.0) scale(1.0,1)" x="0" y="0">1<tspan dx="0.3">0</tspan><tspan font-size="3.54" dx="0.4" dy="-2.66">5</tspan></text>
<text font-size="8.2" fill="#111" stroke="#111" stroke-width="0.4" font-weight="normal" text-anchor="middle" textLength="18.8" lengthAdjust="spacingAndGlyphs" transform="translate(324.9,680.4)" x="0" y="0">CD123</text>
<line x1="338.4" y1="677.5" x2="365.1" y2="677.5" stroke="#111" stroke-width="1.0" />
<path d="M364.1,674.5 L371.1,677.5 L364.1,680.5 Z" fill="#111"/>
<text font-size="4.2" fill="#6a9ad0" x="313.6" y="663.2">M</text>
<text font-size="5.9" fill="#5a7ab8" stroke="#5a7ab8" stroke-width="0.12" x="120.1" y="516.3" textLength="27.7" lengthAdjust="spacingAndGlyphs">KG-1 only</text>
<line x1="120.1" y1="517.9" x2="147.8" y2="517.9" stroke="#5a7ab8" stroke-width="0.55" />
<text font-size="5.9" fill="#d03848" stroke="#d03848" stroke-width="0.12" x="115.8" y="605.6" textLength="35.8" lengthAdjust="spacingAndGlyphs">KG-1+DC wt</text>
<line x1="115.8" y1="607.2" x2="151.6" y2="607.2" stroke="#d03848" stroke-width="0.55" />
<rect x="0.5" y="0.5" width="519" height="688" fill="none" stroke="#505050" stroke-width="1"/>
</svg>
</body></html>
